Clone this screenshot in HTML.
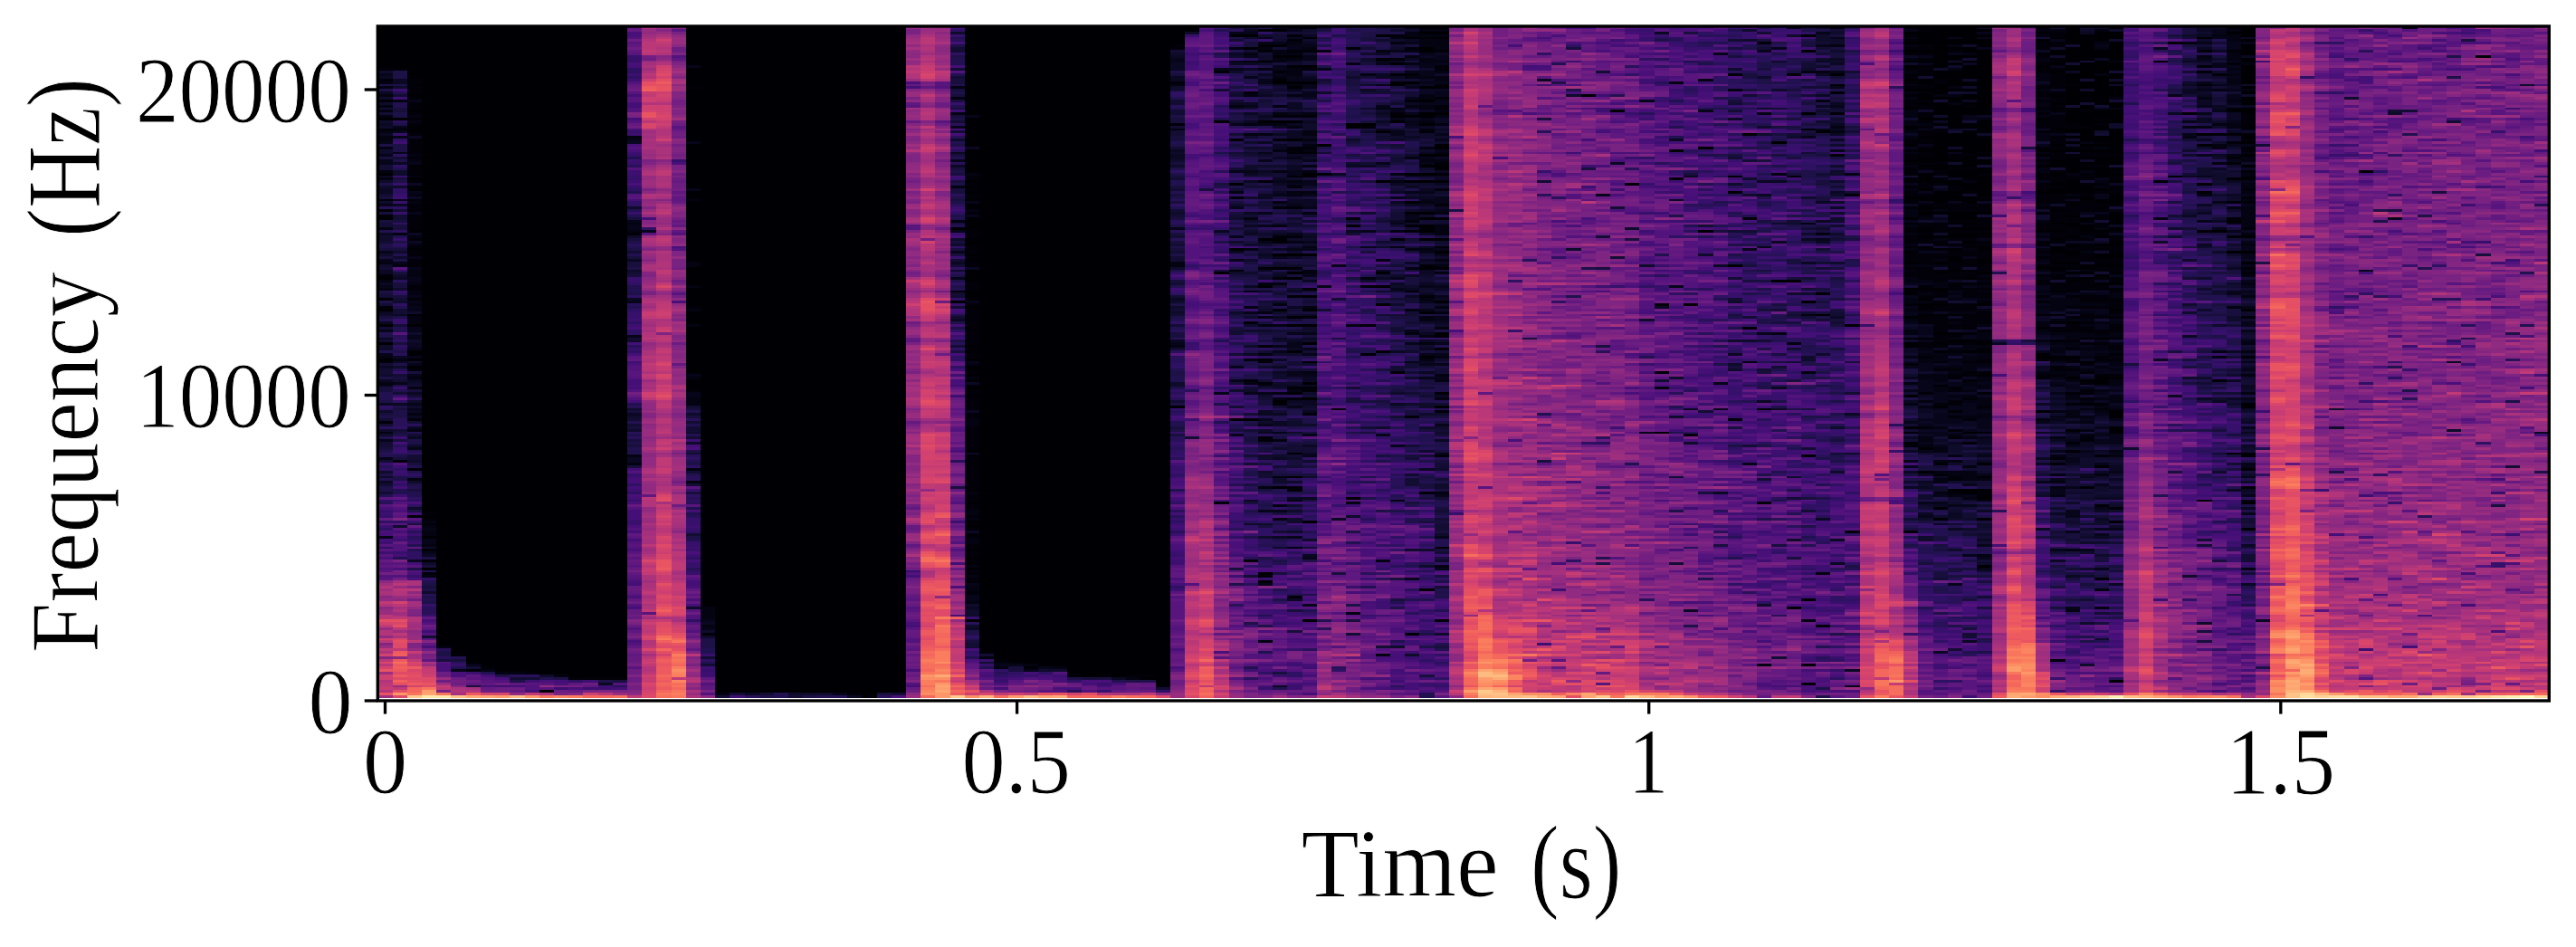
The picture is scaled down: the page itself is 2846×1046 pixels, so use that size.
<!DOCTYPE html>
<html><head><meta charset="utf-8"><style>
html,body{margin:0;padding:0;background:#fff;width:2846px;height:1046px;overflow:hidden}
#fb,#sp,#ax{position:absolute;left:0;top:0}
text{font-family:"Liberation Serif",serif;fill:#000}
</style></head><body>
<svg id="fb" width="2846" height="1046"><defs><linearGradient id="g0" x1="0" y1="0" x2="0" y2="1"><stop offset="0.000" stop-color="#000004"/><stop offset="0.069" stop-color="#050416"/><stop offset="0.163" stop-color="#0a0822"/><stop offset="0.298" stop-color="#0c0926"/><stop offset="0.433" stop-color="#0d0a29"/><stop offset="0.567" stop-color="#130d34"/><stop offset="0.702" stop-color="#331067"/><stop offset="0.796" stop-color="#56147d"/><stop offset="0.864" stop-color="#ab337c"/><stop offset="0.904" stop-color="#b73779"/><stop offset="0.931" stop-color="#bd3977"/><stop offset="0.951" stop-color="#c23b75"/><stop offset="0.965" stop-color="#c53c74"/><stop offset="0.974" stop-color="#c83e73"/><stop offset="0.982" stop-color="#ca3e72"/><stop offset="0.991" stop-color="#ca3e72"/><stop offset="1.000" stop-color="#b73779"/></linearGradient><linearGradient id="g1" x1="0" y1="0" x2="0" y2="1"><stop offset="0.000" stop-color="#000004"/><stop offset="0.069" stop-color="#0c0926"/><stop offset="0.163" stop-color="#19103f"/><stop offset="0.298" stop-color="#1d1147"/><stop offset="0.433" stop-color="#20114b"/><stop offset="0.567" stop-color="#241253"/><stop offset="0.702" stop-color="#420f75"/><stop offset="0.796" stop-color="#621980"/><stop offset="0.864" stop-color="#bc3978"/><stop offset="0.904" stop-color="#ca3e72"/><stop offset="0.931" stop-color="#dc4869"/><stop offset="0.951" stop-color="#e75263"/><stop offset="0.965" stop-color="#ed5a5f"/><stop offset="0.974" stop-color="#f05f5e"/><stop offset="0.982" stop-color="#f3655c"/><stop offset="0.991" stop-color="#f4675c"/><stop offset="1.000" stop-color="#de4968"/></linearGradient><linearGradient id="g2" x1="0" y1="0" x2="0" y2="1"><stop offset="0.000" stop-color="#000004"/><stop offset="0.069" stop-color="#000004"/><stop offset="0.163" stop-color="#010108"/><stop offset="0.298" stop-color="#020109"/><stop offset="0.433" stop-color="#030312"/><stop offset="0.567" stop-color="#0b0924"/><stop offset="0.702" stop-color="#251255"/><stop offset="0.796" stop-color="#451077"/><stop offset="0.864" stop-color="#9b2e7f"/><stop offset="0.904" stop-color="#a1307e"/><stop offset="0.931" stop-color="#a5317e"/><stop offset="0.951" stop-color="#d0416f"/><stop offset="0.965" stop-color="#e75263"/><stop offset="0.974" stop-color="#ef5d5e"/><stop offset="0.982" stop-color="#f56b5c"/><stop offset="0.991" stop-color="#f7705c"/><stop offset="1.000" stop-color="#feb77e"/></linearGradient><linearGradient id="g3" x1="0" y1="0" x2="0" y2="1"><stop offset="0.000" stop-color="#000004"/><stop offset="0.069" stop-color="#000004"/><stop offset="0.163" stop-color="#000004"/><stop offset="0.298" stop-color="#000004"/><stop offset="0.433" stop-color="#000004"/><stop offset="0.567" stop-color="#000004"/><stop offset="0.702" stop-color="#000004"/><stop offset="0.796" stop-color="#0a0822"/><stop offset="0.864" stop-color="#29115a"/><stop offset="0.904" stop-color="#51127c"/><stop offset="0.931" stop-color="#782281"/><stop offset="0.951" stop-color="#a1307e"/><stop offset="0.965" stop-color="#ca3e72"/><stop offset="0.974" stop-color="#e75263"/><stop offset="0.982" stop-color="#f7725c"/><stop offset="0.991" stop-color="#fd9a6a"/><stop offset="1.000" stop-color="#fecf92"/></linearGradient><linearGradient id="g4" x1="0" y1="0" x2="0" y2="1"><stop offset="0.000" stop-color="#000004"/><stop offset="0.069" stop-color="#000004"/><stop offset="0.163" stop-color="#000004"/><stop offset="0.298" stop-color="#000004"/><stop offset="0.433" stop-color="#000004"/><stop offset="0.567" stop-color="#000004"/><stop offset="0.702" stop-color="#000004"/><stop offset="0.796" stop-color="#000004"/><stop offset="0.864" stop-color="#000004"/><stop offset="0.904" stop-color="#000004"/><stop offset="0.931" stop-color="#251255"/><stop offset="0.951" stop-color="#4c117a"/><stop offset="0.965" stop-color="#641a80"/><stop offset="0.974" stop-color="#932b80"/><stop offset="0.982" stop-color="#bd3977"/><stop offset="0.991" stop-color="#ca3e72"/><stop offset="1.000" stop-color="#fde7a9"/></linearGradient><linearGradient id="g5" x1="0" y1="0" x2="0" y2="1"><stop offset="0.000" stop-color="#000004"/><stop offset="0.069" stop-color="#000004"/><stop offset="0.163" stop-color="#000004"/><stop offset="0.298" stop-color="#000004"/><stop offset="0.433" stop-color="#000004"/><stop offset="0.567" stop-color="#000004"/><stop offset="0.702" stop-color="#000004"/><stop offset="0.796" stop-color="#000004"/><stop offset="0.864" stop-color="#000004"/><stop offset="0.904" stop-color="#000004"/><stop offset="0.931" stop-color="#000004"/><stop offset="0.951" stop-color="#2f1163"/><stop offset="0.965" stop-color="#451077"/><stop offset="0.974" stop-color="#5d177f"/><stop offset="0.982" stop-color="#862781"/><stop offset="0.991" stop-color="#a1307e"/><stop offset="1.000" stop-color="#fde7a9"/></linearGradient><linearGradient id="g6" x1="0" y1="0" x2="0" y2="1"><stop offset="0.000" stop-color="#000004"/><stop offset="0.069" stop-color="#000004"/><stop offset="0.163" stop-color="#000004"/><stop offset="0.298" stop-color="#000004"/><stop offset="0.433" stop-color="#000004"/><stop offset="0.567" stop-color="#000004"/><stop offset="0.702" stop-color="#000004"/><stop offset="0.796" stop-color="#000004"/><stop offset="0.864" stop-color="#000004"/><stop offset="0.904" stop-color="#000004"/><stop offset="0.931" stop-color="#000004"/><stop offset="0.951" stop-color="#08071e"/><stop offset="0.965" stop-color="#3b0f70"/><stop offset="0.974" stop-color="#59157e"/><stop offset="0.982" stop-color="#762181"/><stop offset="0.991" stop-color="#9b2e7f"/><stop offset="1.000" stop-color="#fecf92"/></linearGradient><linearGradient id="g7" x1="0" y1="0" x2="0" y2="1"><stop offset="0.000" stop-color="#000004"/><stop offset="0.069" stop-color="#000004"/><stop offset="0.163" stop-color="#000004"/><stop offset="0.298" stop-color="#000004"/><stop offset="0.433" stop-color="#000004"/><stop offset="0.567" stop-color="#000004"/><stop offset="0.702" stop-color="#000004"/><stop offset="0.796" stop-color="#000004"/><stop offset="0.864" stop-color="#000004"/><stop offset="0.904" stop-color="#000004"/><stop offset="0.931" stop-color="#000004"/><stop offset="0.951" stop-color="#000004"/><stop offset="0.965" stop-color="#3b0f70"/><stop offset="0.974" stop-color="#4f127b"/><stop offset="0.982" stop-color="#5f187f"/><stop offset="0.991" stop-color="#641a80"/><stop offset="1.000" stop-color="#feb77e"/></linearGradient><linearGradient id="g8" x1="0" y1="0" x2="0" y2="1"><stop offset="0.000" stop-color="#000004"/><stop offset="0.069" stop-color="#000004"/><stop offset="0.163" stop-color="#000004"/><stop offset="0.298" stop-color="#000004"/><stop offset="0.433" stop-color="#000004"/><stop offset="0.567" stop-color="#000004"/><stop offset="0.702" stop-color="#000004"/><stop offset="0.796" stop-color="#000004"/><stop offset="0.864" stop-color="#000004"/><stop offset="0.904" stop-color="#000004"/><stop offset="0.931" stop-color="#000004"/><stop offset="0.951" stop-color="#000004"/><stop offset="0.965" stop-color="#110c2f"/><stop offset="0.974" stop-color="#420f75"/><stop offset="0.982" stop-color="#57157e"/><stop offset="0.991" stop-color="#641a80"/><stop offset="1.000" stop-color="#fe9f6d"/></linearGradient><linearGradient id="g9" x1="0" y1="0" x2="0" y2="1"><stop offset="0.000" stop-color="#000004"/><stop offset="0.069" stop-color="#000004"/><stop offset="0.163" stop-color="#000004"/><stop offset="0.298" stop-color="#000004"/><stop offset="0.433" stop-color="#000004"/><stop offset="0.567" stop-color="#000004"/><stop offset="0.702" stop-color="#000004"/><stop offset="0.796" stop-color="#000004"/><stop offset="0.864" stop-color="#000004"/><stop offset="0.904" stop-color="#000004"/><stop offset="0.931" stop-color="#000004"/><stop offset="0.951" stop-color="#000004"/><stop offset="0.965" stop-color="#0d0a29"/><stop offset="0.974" stop-color="#420f75"/><stop offset="0.982" stop-color="#57157e"/><stop offset="0.991" stop-color="#641a80"/><stop offset="1.000" stop-color="#fd9668"/></linearGradient><linearGradient id="g10" x1="0" y1="0" x2="0" y2="1"><stop offset="0.000" stop-color="#000004"/><stop offset="0.069" stop-color="#000004"/><stop offset="0.163" stop-color="#000004"/><stop offset="0.298" stop-color="#000004"/><stop offset="0.433" stop-color="#000004"/><stop offset="0.567" stop-color="#000004"/><stop offset="0.702" stop-color="#000004"/><stop offset="0.796" stop-color="#000004"/><stop offset="0.864" stop-color="#000004"/><stop offset="0.904" stop-color="#000004"/><stop offset="0.931" stop-color="#000004"/><stop offset="0.951" stop-color="#000004"/><stop offset="0.965" stop-color="#08071e"/><stop offset="0.974" stop-color="#420f75"/><stop offset="0.982" stop-color="#57157e"/><stop offset="0.991" stop-color="#641a80"/><stop offset="1.000" stop-color="#fc8c63"/></linearGradient><linearGradient id="g11" x1="0" y1="0" x2="0" y2="1"><stop offset="0.000" stop-color="#000004"/><stop offset="0.069" stop-color="#000004"/><stop offset="0.163" stop-color="#000004"/><stop offset="0.298" stop-color="#000004"/><stop offset="0.433" stop-color="#000004"/><stop offset="0.567" stop-color="#000004"/><stop offset="0.702" stop-color="#000004"/><stop offset="0.796" stop-color="#000004"/><stop offset="0.864" stop-color="#000004"/><stop offset="0.904" stop-color="#000004"/><stop offset="0.931" stop-color="#000004"/><stop offset="0.951" stop-color="#000004"/><stop offset="0.965" stop-color="#030312"/><stop offset="0.974" stop-color="#420f75"/><stop offset="0.982" stop-color="#57157e"/><stop offset="0.991" stop-color="#641a80"/><stop offset="1.000" stop-color="#fb835f"/></linearGradient><linearGradient id="g12" x1="0" y1="0" x2="0" y2="1"><stop offset="0.000" stop-color="#000004"/><stop offset="0.069" stop-color="#000004"/><stop offset="0.163" stop-color="#000004"/><stop offset="0.298" stop-color="#000004"/><stop offset="0.433" stop-color="#000004"/><stop offset="0.567" stop-color="#000004"/><stop offset="0.702" stop-color="#000004"/><stop offset="0.796" stop-color="#000004"/><stop offset="0.864" stop-color="#000004"/><stop offset="0.904" stop-color="#000004"/><stop offset="0.931" stop-color="#000004"/><stop offset="0.951" stop-color="#000004"/><stop offset="0.965" stop-color="#000004"/><stop offset="0.974" stop-color="#420f75"/><stop offset="0.982" stop-color="#57157e"/><stop offset="0.991" stop-color="#641a80"/><stop offset="1.000" stop-color="#f9795d"/></linearGradient><linearGradient id="g13" x1="0" y1="0" x2="0" y2="1"><stop offset="0.000" stop-color="#000004"/><stop offset="0.069" stop-color="#000004"/><stop offset="0.163" stop-color="#000004"/><stop offset="0.298" stop-color="#000004"/><stop offset="0.433" stop-color="#000004"/><stop offset="0.567" stop-color="#000004"/><stop offset="0.702" stop-color="#000004"/><stop offset="0.796" stop-color="#000004"/><stop offset="0.864" stop-color="#000004"/><stop offset="0.904" stop-color="#000004"/><stop offset="0.931" stop-color="#000004"/><stop offset="0.951" stop-color="#000004"/><stop offset="0.965" stop-color="#000004"/><stop offset="0.974" stop-color="#180f3d"/><stop offset="0.982" stop-color="#4e117b"/><stop offset="0.991" stop-color="#601880"/><stop offset="1.000" stop-color="#f4675c"/></linearGradient><linearGradient id="g14" x1="0" y1="0" x2="0" y2="1"><stop offset="0.000" stop-color="#000004"/><stop offset="0.069" stop-color="#000004"/><stop offset="0.163" stop-color="#000004"/><stop offset="0.298" stop-color="#000004"/><stop offset="0.433" stop-color="#000004"/><stop offset="0.567" stop-color="#000004"/><stop offset="0.702" stop-color="#000004"/><stop offset="0.796" stop-color="#000004"/><stop offset="0.864" stop-color="#000004"/><stop offset="0.904" stop-color="#000004"/><stop offset="0.931" stop-color="#000004"/><stop offset="0.951" stop-color="#000004"/><stop offset="0.965" stop-color="#000004"/><stop offset="0.974" stop-color="#180f3d"/><stop offset="0.982" stop-color="#4e117b"/><stop offset="0.991" stop-color="#601880"/><stop offset="1.000" stop-color="#f4675c"/></linearGradient><linearGradient id="g15" x1="0" y1="0" x2="0" y2="1"><stop offset="0.000" stop-color="#000004"/><stop offset="0.069" stop-color="#000004"/><stop offset="0.163" stop-color="#000004"/><stop offset="0.298" stop-color="#000004"/><stop offset="0.433" stop-color="#000004"/><stop offset="0.567" stop-color="#000004"/><stop offset="0.702" stop-color="#000004"/><stop offset="0.796" stop-color="#000004"/><stop offset="0.864" stop-color="#000004"/><stop offset="0.904" stop-color="#000004"/><stop offset="0.931" stop-color="#000004"/><stop offset="0.951" stop-color="#000004"/><stop offset="0.965" stop-color="#000004"/><stop offset="0.974" stop-color="#180f3d"/><stop offset="0.982" stop-color="#4e117b"/><stop offset="0.991" stop-color="#601880"/><stop offset="1.000" stop-color="#f4675c"/></linearGradient><linearGradient id="g16" x1="0" y1="0" x2="0" y2="1"><stop offset="0.000" stop-color="#000004"/><stop offset="0.069" stop-color="#000004"/><stop offset="0.163" stop-color="#000004"/><stop offset="0.298" stop-color="#000004"/><stop offset="0.433" stop-color="#000004"/><stop offset="0.567" stop-color="#000004"/><stop offset="0.702" stop-color="#000004"/><stop offset="0.796" stop-color="#000004"/><stop offset="0.864" stop-color="#000004"/><stop offset="0.904" stop-color="#000004"/><stop offset="0.931" stop-color="#000004"/><stop offset="0.951" stop-color="#000004"/><stop offset="0.965" stop-color="#000004"/><stop offset="0.974" stop-color="#180f3d"/><stop offset="0.982" stop-color="#4e117b"/><stop offset="0.991" stop-color="#601880"/><stop offset="1.000" stop-color="#f4675c"/></linearGradient><linearGradient id="g17" x1="0" y1="0" x2="0" y2="1"><stop offset="0.000" stop-color="#4c117a"/><stop offset="0.069" stop-color="#491078"/><stop offset="0.163" stop-color="#440f76"/><stop offset="0.298" stop-color="#29115a"/><stop offset="0.433" stop-color="#3b0f70"/><stop offset="0.567" stop-color="#3f0f72"/><stop offset="0.702" stop-color="#4a1079"/><stop offset="0.796" stop-color="#5a167e"/><stop offset="0.864" stop-color="#601880"/><stop offset="0.904" stop-color="#641a80"/><stop offset="0.931" stop-color="#6b1d81"/><stop offset="0.951" stop-color="#721f81"/><stop offset="0.965" stop-color="#762181"/><stop offset="0.974" stop-color="#792282"/><stop offset="0.982" stop-color="#7b2382"/><stop offset="0.991" stop-color="#7c2382"/><stop offset="1.000" stop-color="#b73779"/></linearGradient><linearGradient id="g18" x1="0" y1="0" x2="0" y2="1"><stop offset="0.000" stop-color="#942c80"/><stop offset="0.069" stop-color="#b83779"/><stop offset="0.163" stop-color="#b3367a"/><stop offset="0.298" stop-color="#962c80"/><stop offset="0.433" stop-color="#ab337c"/><stop offset="0.567" stop-color="#a02f7f"/><stop offset="0.702" stop-color="#a8327d"/><stop offset="0.796" stop-color="#b0357b"/><stop offset="0.864" stop-color="#bc3978"/><stop offset="0.904" stop-color="#c23b75"/><stop offset="0.931" stop-color="#c83e73"/><stop offset="0.951" stop-color="#cf4070"/><stop offset="0.965" stop-color="#d2426f"/><stop offset="0.974" stop-color="#d3436e"/><stop offset="0.982" stop-color="#d6456c"/><stop offset="0.991" stop-color="#d6456c"/><stop offset="1.000" stop-color="#de4968"/></linearGradient><linearGradient id="g19" x1="0" y1="0" x2="0" y2="1"><stop offset="0.000" stop-color="#a1307e"/><stop offset="0.069" stop-color="#c43c75"/><stop offset="0.163" stop-color="#c03a76"/><stop offset="0.298" stop-color="#aa337d"/><stop offset="0.433" stop-color="#ba3878"/><stop offset="0.567" stop-color="#bd3977"/><stop offset="0.702" stop-color="#c83e73"/><stop offset="0.796" stop-color="#d5446d"/><stop offset="0.864" stop-color="#df4a68"/><stop offset="0.904" stop-color="#e44f64"/><stop offset="0.931" stop-color="#eb5760"/><stop offset="0.951" stop-color="#f05f5e"/><stop offset="0.965" stop-color="#f2625d"/><stop offset="0.974" stop-color="#f2625d"/><stop offset="0.982" stop-color="#f2625d"/><stop offset="0.991" stop-color="#f2625d"/><stop offset="1.000" stop-color="#f7705c"/></linearGradient><linearGradient id="g20" x1="0" y1="0" x2="0" y2="1"><stop offset="0.000" stop-color="#802582"/><stop offset="0.069" stop-color="#7c2382"/><stop offset="0.163" stop-color="#782281"/><stop offset="0.298" stop-color="#7b2382"/><stop offset="0.433" stop-color="#842681"/><stop offset="0.567" stop-color="#932b80"/><stop offset="0.702" stop-color="#a3307e"/><stop offset="0.796" stop-color="#b5367a"/><stop offset="0.864" stop-color="#ca3e72"/><stop offset="0.904" stop-color="#d6456c"/><stop offset="0.931" stop-color="#ee5b5e"/><stop offset="0.951" stop-color="#f8745c"/><stop offset="0.965" stop-color="#f9795d"/><stop offset="0.974" stop-color="#f8765c"/><stop offset="0.982" stop-color="#f7705c"/><stop offset="0.991" stop-color="#f7705c"/><stop offset="1.000" stop-color="#fc8961"/></linearGradient><linearGradient id="g21" x1="0" y1="0" x2="0" y2="1"><stop offset="0.000" stop-color="#000004"/><stop offset="0.069" stop-color="#000004"/><stop offset="0.163" stop-color="#000004"/><stop offset="0.298" stop-color="#000004"/><stop offset="0.433" stop-color="#000004"/><stop offset="0.567" stop-color="#140e36"/><stop offset="0.702" stop-color="#2c115f"/><stop offset="0.796" stop-color="#440f76"/><stop offset="0.864" stop-color="#59157e"/><stop offset="0.904" stop-color="#641a80"/><stop offset="0.931" stop-color="#782281"/><stop offset="0.951" stop-color="#862781"/><stop offset="0.965" stop-color="#902a81"/><stop offset="0.974" stop-color="#942c80"/><stop offset="0.982" stop-color="#942c80"/><stop offset="0.991" stop-color="#942c80"/><stop offset="1.000" stop-color="#ca3e72"/></linearGradient><linearGradient id="g22" x1="0" y1="0" x2="0" y2="1"><stop offset="0.000" stop-color="#000004"/><stop offset="0.069" stop-color="#000004"/><stop offset="0.163" stop-color="#000004"/><stop offset="0.298" stop-color="#000004"/><stop offset="0.433" stop-color="#000004"/><stop offset="0.567" stop-color="#000004"/><stop offset="0.702" stop-color="#000004"/><stop offset="0.796" stop-color="#000004"/><stop offset="0.864" stop-color="#010106"/><stop offset="0.904" stop-color="#0e0b2b"/><stop offset="0.931" stop-color="#21114e"/><stop offset="0.951" stop-color="#341069"/><stop offset="0.965" stop-color="#471078"/><stop offset="0.974" stop-color="#59157e"/><stop offset="0.982" stop-color="#671b80"/><stop offset="0.991" stop-color="#762181"/><stop offset="1.000" stop-color="#8c2981"/></linearGradient><linearGradient id="g23" x1="0" y1="0" x2="0" y2="1"><stop offset="0.000" stop-color="#000004"/><stop offset="0.069" stop-color="#000004"/><stop offset="0.163" stop-color="#000004"/><stop offset="0.298" stop-color="#000004"/><stop offset="0.433" stop-color="#000004"/><stop offset="0.567" stop-color="#000004"/><stop offset="0.702" stop-color="#000004"/><stop offset="0.796" stop-color="#000004"/><stop offset="0.864" stop-color="#000004"/><stop offset="0.904" stop-color="#000004"/><stop offset="0.931" stop-color="#000004"/><stop offset="0.951" stop-color="#000004"/><stop offset="0.965" stop-color="#000004"/><stop offset="0.974" stop-color="#000004"/><stop offset="0.982" stop-color="#000004"/><stop offset="0.991" stop-color="#000004"/><stop offset="1.000" stop-color="#1a1042"/></linearGradient><linearGradient id="g24" x1="0" y1="0" x2="0" y2="1"><stop offset="0.000" stop-color="#000004"/><stop offset="0.069" stop-color="#000004"/><stop offset="0.163" stop-color="#000004"/><stop offset="0.298" stop-color="#000004"/><stop offset="0.433" stop-color="#000004"/><stop offset="0.567" stop-color="#000004"/><stop offset="0.702" stop-color="#000004"/><stop offset="0.796" stop-color="#000004"/><stop offset="0.864" stop-color="#000004"/><stop offset="0.904" stop-color="#000004"/><stop offset="0.931" stop-color="#000004"/><stop offset="0.951" stop-color="#000004"/><stop offset="0.965" stop-color="#000004"/><stop offset="0.974" stop-color="#000004"/><stop offset="0.982" stop-color="#000004"/><stop offset="0.991" stop-color="#000004"/><stop offset="1.000" stop-color="#1a1042"/></linearGradient><linearGradient id="g25" x1="0" y1="0" x2="0" y2="1"><stop offset="0.000" stop-color="#000004"/><stop offset="0.069" stop-color="#000004"/><stop offset="0.163" stop-color="#000004"/><stop offset="0.298" stop-color="#000004"/><stop offset="0.433" stop-color="#000004"/><stop offset="0.567" stop-color="#000004"/><stop offset="0.702" stop-color="#000004"/><stop offset="0.796" stop-color="#000004"/><stop offset="0.864" stop-color="#000004"/><stop offset="0.904" stop-color="#000004"/><stop offset="0.931" stop-color="#000004"/><stop offset="0.951" stop-color="#000004"/><stop offset="0.965" stop-color="#000004"/><stop offset="0.974" stop-color="#000004"/><stop offset="0.982" stop-color="#000004"/><stop offset="0.991" stop-color="#000004"/><stop offset="1.000" stop-color="#1a1042"/></linearGradient><linearGradient id="g26" x1="0" y1="0" x2="0" y2="1"><stop offset="0.000" stop-color="#000004"/><stop offset="0.069" stop-color="#000004"/><stop offset="0.163" stop-color="#000004"/><stop offset="0.298" stop-color="#000004"/><stop offset="0.433" stop-color="#000004"/><stop offset="0.567" stop-color="#000004"/><stop offset="0.702" stop-color="#000004"/><stop offset="0.796" stop-color="#000004"/><stop offset="0.864" stop-color="#000004"/><stop offset="0.904" stop-color="#000004"/><stop offset="0.931" stop-color="#000004"/><stop offset="0.951" stop-color="#000004"/><stop offset="0.965" stop-color="#000004"/><stop offset="0.974" stop-color="#000004"/><stop offset="0.982" stop-color="#000004"/><stop offset="0.991" stop-color="#000004"/><stop offset="1.000" stop-color="#1a1042"/></linearGradient><linearGradient id="g27" x1="0" y1="0" x2="0" y2="1"><stop offset="0.000" stop-color="#000004"/><stop offset="0.069" stop-color="#000004"/><stop offset="0.163" stop-color="#000004"/><stop offset="0.298" stop-color="#000004"/><stop offset="0.433" stop-color="#000004"/><stop offset="0.567" stop-color="#000004"/><stop offset="0.702" stop-color="#000004"/><stop offset="0.796" stop-color="#000004"/><stop offset="0.864" stop-color="#000004"/><stop offset="0.904" stop-color="#000004"/><stop offset="0.931" stop-color="#000004"/><stop offset="0.951" stop-color="#000004"/><stop offset="0.965" stop-color="#000004"/><stop offset="0.974" stop-color="#000004"/><stop offset="0.982" stop-color="#000004"/><stop offset="0.991" stop-color="#000004"/><stop offset="1.000" stop-color="#1a1042"/></linearGradient><linearGradient id="g28" x1="0" y1="0" x2="0" y2="1"><stop offset="0.000" stop-color="#000004"/><stop offset="0.069" stop-color="#000004"/><stop offset="0.163" stop-color="#000004"/><stop offset="0.298" stop-color="#000004"/><stop offset="0.433" stop-color="#000004"/><stop offset="0.567" stop-color="#000004"/><stop offset="0.702" stop-color="#000004"/><stop offset="0.796" stop-color="#000004"/><stop offset="0.864" stop-color="#000004"/><stop offset="0.904" stop-color="#000004"/><stop offset="0.931" stop-color="#000004"/><stop offset="0.951" stop-color="#000004"/><stop offset="0.965" stop-color="#000004"/><stop offset="0.974" stop-color="#000004"/><stop offset="0.982" stop-color="#000004"/><stop offset="0.991" stop-color="#000004"/><stop offset="1.000" stop-color="#1a1042"/></linearGradient><linearGradient id="g29" x1="0" y1="0" x2="0" y2="1"><stop offset="0.000" stop-color="#000004"/><stop offset="0.069" stop-color="#000004"/><stop offset="0.163" stop-color="#000004"/><stop offset="0.298" stop-color="#000004"/><stop offset="0.433" stop-color="#000004"/><stop offset="0.567" stop-color="#000004"/><stop offset="0.702" stop-color="#000004"/><stop offset="0.796" stop-color="#000004"/><stop offset="0.864" stop-color="#000004"/><stop offset="0.904" stop-color="#000004"/><stop offset="0.931" stop-color="#000004"/><stop offset="0.951" stop-color="#000004"/><stop offset="0.965" stop-color="#000004"/><stop offset="0.974" stop-color="#000004"/><stop offset="0.982" stop-color="#000004"/><stop offset="0.991" stop-color="#000004"/><stop offset="1.000" stop-color="#1a1042"/></linearGradient><linearGradient id="g30" x1="0" y1="0" x2="0" y2="1"><stop offset="0.000" stop-color="#000004"/><stop offset="0.069" stop-color="#000004"/><stop offset="0.163" stop-color="#000004"/><stop offset="0.298" stop-color="#000004"/><stop offset="0.433" stop-color="#000004"/><stop offset="0.567" stop-color="#000004"/><stop offset="0.702" stop-color="#000004"/><stop offset="0.796" stop-color="#000004"/><stop offset="0.864" stop-color="#000004"/><stop offset="0.904" stop-color="#000004"/><stop offset="0.931" stop-color="#000004"/><stop offset="0.951" stop-color="#000004"/><stop offset="0.965" stop-color="#000004"/><stop offset="0.974" stop-color="#000004"/><stop offset="0.982" stop-color="#000004"/><stop offset="0.991" stop-color="#000004"/><stop offset="1.000" stop-color="#1a1042"/></linearGradient><linearGradient id="g31" x1="0" y1="0" x2="0" y2="1"><stop offset="0.000" stop-color="#000004"/><stop offset="0.069" stop-color="#000004"/><stop offset="0.163" stop-color="#000004"/><stop offset="0.298" stop-color="#000004"/><stop offset="0.433" stop-color="#000004"/><stop offset="0.567" stop-color="#000004"/><stop offset="0.702" stop-color="#000004"/><stop offset="0.796" stop-color="#000004"/><stop offset="0.864" stop-color="#000004"/><stop offset="0.904" stop-color="#000004"/><stop offset="0.931" stop-color="#000004"/><stop offset="0.951" stop-color="#000004"/><stop offset="0.965" stop-color="#000004"/><stop offset="0.974" stop-color="#000004"/><stop offset="0.982" stop-color="#000004"/><stop offset="0.991" stop-color="#000004"/><stop offset="1.000" stop-color="#1a1042"/></linearGradient><linearGradient id="g32" x1="0" y1="0" x2="0" y2="1"><stop offset="0.000" stop-color="#000004"/><stop offset="0.069" stop-color="#000004"/><stop offset="0.163" stop-color="#000004"/><stop offset="0.298" stop-color="#000004"/><stop offset="0.433" stop-color="#000004"/><stop offset="0.567" stop-color="#000004"/><stop offset="0.702" stop-color="#000004"/><stop offset="0.796" stop-color="#000004"/><stop offset="0.864" stop-color="#000004"/><stop offset="0.904" stop-color="#000004"/><stop offset="0.931" stop-color="#000004"/><stop offset="0.951" stop-color="#000004"/><stop offset="0.965" stop-color="#000004"/><stop offset="0.974" stop-color="#000004"/><stop offset="0.982" stop-color="#000004"/><stop offset="0.991" stop-color="#000004"/><stop offset="1.000" stop-color="#1a1042"/></linearGradient><linearGradient id="g33" x1="0" y1="0" x2="0" y2="1"><stop offset="0.000" stop-color="#000004"/><stop offset="0.069" stop-color="#000004"/><stop offset="0.163" stop-color="#000004"/><stop offset="0.298" stop-color="#000004"/><stop offset="0.433" stop-color="#000004"/><stop offset="0.567" stop-color="#000004"/><stop offset="0.702" stop-color="#000004"/><stop offset="0.796" stop-color="#000004"/><stop offset="0.864" stop-color="#000004"/><stop offset="0.904" stop-color="#000004"/><stop offset="0.931" stop-color="#000004"/><stop offset="0.951" stop-color="#000004"/><stop offset="0.965" stop-color="#000004"/><stop offset="0.974" stop-color="#000004"/><stop offset="0.982" stop-color="#000004"/><stop offset="0.991" stop-color="#000004"/><stop offset="1.000" stop-color="#1a1042"/></linearGradient><linearGradient id="g34" x1="0" y1="0" x2="0" y2="1"><stop offset="0.000" stop-color="#000004"/><stop offset="0.069" stop-color="#000004"/><stop offset="0.163" stop-color="#000004"/><stop offset="0.298" stop-color="#000004"/><stop offset="0.433" stop-color="#000004"/><stop offset="0.567" stop-color="#000004"/><stop offset="0.702" stop-color="#000004"/><stop offset="0.796" stop-color="#000004"/><stop offset="0.864" stop-color="#000004"/><stop offset="0.904" stop-color="#000004"/><stop offset="0.931" stop-color="#000004"/><stop offset="0.951" stop-color="#000004"/><stop offset="0.965" stop-color="#000004"/><stop offset="0.974" stop-color="#000004"/><stop offset="0.982" stop-color="#000004"/><stop offset="0.991" stop-color="#000004"/><stop offset="1.000" stop-color="#1a1042"/></linearGradient><linearGradient id="g35" x1="0" y1="0" x2="0" y2="1"><stop offset="0.000" stop-color="#000004"/><stop offset="0.069" stop-color="#000004"/><stop offset="0.163" stop-color="#000004"/><stop offset="0.298" stop-color="#000004"/><stop offset="0.433" stop-color="#000004"/><stop offset="0.567" stop-color="#000004"/><stop offset="0.702" stop-color="#000004"/><stop offset="0.796" stop-color="#000004"/><stop offset="0.864" stop-color="#000004"/><stop offset="0.904" stop-color="#000004"/><stop offset="0.931" stop-color="#000004"/><stop offset="0.951" stop-color="#000004"/><stop offset="0.965" stop-color="#000004"/><stop offset="0.974" stop-color="#000004"/><stop offset="0.982" stop-color="#000004"/><stop offset="0.991" stop-color="#000004"/><stop offset="1.000" stop-color="#1a1042"/></linearGradient><linearGradient id="g36" x1="0" y1="0" x2="0" y2="1"><stop offset="0.000" stop-color="#902a81"/><stop offset="0.069" stop-color="#912b81"/><stop offset="0.163" stop-color="#912b81"/><stop offset="0.298" stop-color="#912b81"/><stop offset="0.433" stop-color="#932b80"/><stop offset="0.567" stop-color="#932b80"/><stop offset="0.702" stop-color="#862781"/><stop offset="0.796" stop-color="#752181"/><stop offset="0.864" stop-color="#5c167f"/><stop offset="0.904" stop-color="#5c167f"/><stop offset="0.931" stop-color="#601880"/><stop offset="0.951" stop-color="#641a80"/><stop offset="0.965" stop-color="#641a80"/><stop offset="0.974" stop-color="#641a80"/><stop offset="0.982" stop-color="#641a80"/><stop offset="0.991" stop-color="#641a80"/><stop offset="1.000" stop-color="#8c2981"/></linearGradient><linearGradient id="g37" x1="0" y1="0" x2="0" y2="1"><stop offset="0.000" stop-color="#a5317e"/><stop offset="0.069" stop-color="#ae347b"/><stop offset="0.163" stop-color="#ba3878"/><stop offset="0.298" stop-color="#bc3978"/><stop offset="0.433" stop-color="#bc3978"/><stop offset="0.567" stop-color="#bd3977"/><stop offset="0.702" stop-color="#ca3e72"/><stop offset="0.796" stop-color="#d5446d"/><stop offset="0.864" stop-color="#df4a68"/><stop offset="0.904" stop-color="#e44f64"/><stop offset="0.931" stop-color="#ef5d5e"/><stop offset="0.951" stop-color="#f56b5c"/><stop offset="0.965" stop-color="#f8745c"/><stop offset="0.974" stop-color="#f9795d"/><stop offset="0.982" stop-color="#f9795d"/><stop offset="0.991" stop-color="#f9795d"/><stop offset="1.000" stop-color="#f7705c"/></linearGradient><linearGradient id="g38" x1="0" y1="0" x2="0" y2="1"><stop offset="0.000" stop-color="#902a81"/><stop offset="0.069" stop-color="#942c80"/><stop offset="0.163" stop-color="#9b2e7f"/><stop offset="0.298" stop-color="#a3307e"/><stop offset="0.433" stop-color="#ad347c"/><stop offset="0.567" stop-color="#b73779"/><stop offset="0.702" stop-color="#ca3e72"/><stop offset="0.796" stop-color="#de4968"/><stop offset="0.864" stop-color="#eb5760"/><stop offset="0.904" stop-color="#f4675c"/><stop offset="0.931" stop-color="#f7725c"/><stop offset="0.951" stop-color="#fa7d5e"/><stop offset="0.965" stop-color="#fb8560"/><stop offset="0.974" stop-color="#fc8a62"/><stop offset="0.982" stop-color="#fc9065"/><stop offset="0.991" stop-color="#fd9266"/><stop offset="1.000" stop-color="#fc8961"/></linearGradient><linearGradient id="g39" x1="0" y1="0" x2="0" y2="1"><stop offset="0.000" stop-color="#251255"/><stop offset="0.069" stop-color="#221150"/><stop offset="0.163" stop-color="#20114b"/><stop offset="0.298" stop-color="#1d1147"/><stop offset="0.433" stop-color="#29115a"/><stop offset="0.567" stop-color="#641a80"/><stop offset="0.702" stop-color="#6b1d81"/><stop offset="0.796" stop-color="#7e2482"/><stop offset="0.864" stop-color="#a02f7f"/><stop offset="0.904" stop-color="#b73779"/><stop offset="0.931" stop-color="#c73d73"/><stop offset="0.951" stop-color="#d2426f"/><stop offset="0.965" stop-color="#db476a"/><stop offset="0.974" stop-color="#de4968"/><stop offset="0.982" stop-color="#de4968"/><stop offset="0.991" stop-color="#de4968"/><stop offset="1.000" stop-color="#fe9f6d"/></linearGradient><linearGradient id="g40" x1="0" y1="0" x2="0" y2="1"><stop offset="0.000" stop-color="#000004"/><stop offset="0.069" stop-color="#000004"/><stop offset="0.163" stop-color="#000004"/><stop offset="0.298" stop-color="#010005"/><stop offset="0.433" stop-color="#010106"/><stop offset="0.567" stop-color="#010108"/><stop offset="0.702" stop-color="#020109"/><stop offset="0.796" stop-color="#020109"/><stop offset="0.864" stop-color="#07061c"/><stop offset="0.904" stop-color="#140e36"/><stop offset="0.931" stop-color="#3b0f70"/><stop offset="0.951" stop-color="#5a167e"/><stop offset="0.965" stop-color="#7b2382"/><stop offset="0.974" stop-color="#9b2e7f"/><stop offset="0.982" stop-color="#b83779"/><stop offset="0.991" stop-color="#ca3e72"/><stop offset="1.000" stop-color="#fc8961"/></linearGradient><linearGradient id="g41" x1="0" y1="0" x2="0" y2="1"><stop offset="0.000" stop-color="#000004"/><stop offset="0.069" stop-color="#000004"/><stop offset="0.163" stop-color="#000004"/><stop offset="0.298" stop-color="#000004"/><stop offset="0.433" stop-color="#000004"/><stop offset="0.567" stop-color="#000004"/><stop offset="0.702" stop-color="#000004"/><stop offset="0.796" stop-color="#000004"/><stop offset="0.864" stop-color="#000004"/><stop offset="0.904" stop-color="#000004"/><stop offset="0.931" stop-color="#02020d"/><stop offset="0.951" stop-color="#36106b"/><stop offset="0.965" stop-color="#59157e"/><stop offset="0.974" stop-color="#6e1e81"/><stop offset="0.982" stop-color="#782281"/><stop offset="0.991" stop-color="#782281"/><stop offset="1.000" stop-color="#fecf92"/></linearGradient><linearGradient id="g42" x1="0" y1="0" x2="0" y2="1"><stop offset="0.000" stop-color="#000004"/><stop offset="0.069" stop-color="#000004"/><stop offset="0.163" stop-color="#000004"/><stop offset="0.298" stop-color="#000004"/><stop offset="0.433" stop-color="#000004"/><stop offset="0.567" stop-color="#000004"/><stop offset="0.702" stop-color="#000004"/><stop offset="0.796" stop-color="#000004"/><stop offset="0.864" stop-color="#000004"/><stop offset="0.904" stop-color="#000004"/><stop offset="0.931" stop-color="#000004"/><stop offset="0.951" stop-color="#100b2d"/><stop offset="0.965" stop-color="#3b0f70"/><stop offset="0.974" stop-color="#4f127b"/><stop offset="0.982" stop-color="#5f187f"/><stop offset="0.991" stop-color="#641a80"/><stop offset="1.000" stop-color="#feb77e"/></linearGradient><linearGradient id="g43" x1="0" y1="0" x2="0" y2="1"><stop offset="0.000" stop-color="#000004"/><stop offset="0.069" stop-color="#000004"/><stop offset="0.163" stop-color="#000004"/><stop offset="0.298" stop-color="#000004"/><stop offset="0.433" stop-color="#000004"/><stop offset="0.567" stop-color="#000004"/><stop offset="0.702" stop-color="#000004"/><stop offset="0.796" stop-color="#000004"/><stop offset="0.864" stop-color="#000004"/><stop offset="0.904" stop-color="#000004"/><stop offset="0.931" stop-color="#000004"/><stop offset="0.951" stop-color="#0b0924"/><stop offset="0.965" stop-color="#3b0f70"/><stop offset="0.974" stop-color="#4f127b"/><stop offset="0.982" stop-color="#5f187f"/><stop offset="0.991" stop-color="#641a80"/><stop offset="1.000" stop-color="#feb77e"/></linearGradient><linearGradient id="g44" x1="0" y1="0" x2="0" y2="1"><stop offset="0.000" stop-color="#000004"/><stop offset="0.069" stop-color="#000004"/><stop offset="0.163" stop-color="#000004"/><stop offset="0.298" stop-color="#000004"/><stop offset="0.433" stop-color="#000004"/><stop offset="0.567" stop-color="#000004"/><stop offset="0.702" stop-color="#000004"/><stop offset="0.796" stop-color="#000004"/><stop offset="0.864" stop-color="#000004"/><stop offset="0.904" stop-color="#000004"/><stop offset="0.931" stop-color="#000004"/><stop offset="0.951" stop-color="#060518"/><stop offset="0.965" stop-color="#3b0f70"/><stop offset="0.974" stop-color="#4f127b"/><stop offset="0.982" stop-color="#5f187f"/><stop offset="0.991" stop-color="#641a80"/><stop offset="1.000" stop-color="#feb77e"/></linearGradient><linearGradient id="g45" x1="0" y1="0" x2="0" y2="1"><stop offset="0.000" stop-color="#000004"/><stop offset="0.069" stop-color="#000004"/><stop offset="0.163" stop-color="#000004"/><stop offset="0.298" stop-color="#000004"/><stop offset="0.433" stop-color="#000004"/><stop offset="0.567" stop-color="#000004"/><stop offset="0.702" stop-color="#000004"/><stop offset="0.796" stop-color="#000004"/><stop offset="0.864" stop-color="#000004"/><stop offset="0.904" stop-color="#000004"/><stop offset="0.931" stop-color="#000004"/><stop offset="0.951" stop-color="#020109"/><stop offset="0.965" stop-color="#3b0f70"/><stop offset="0.974" stop-color="#4f127b"/><stop offset="0.982" stop-color="#5f187f"/><stop offset="0.991" stop-color="#641a80"/><stop offset="1.000" stop-color="#feb77e"/></linearGradient><linearGradient id="g46" x1="0" y1="0" x2="0" y2="1"><stop offset="0.000" stop-color="#000004"/><stop offset="0.069" stop-color="#000004"/><stop offset="0.163" stop-color="#000004"/><stop offset="0.298" stop-color="#000004"/><stop offset="0.433" stop-color="#000004"/><stop offset="0.567" stop-color="#000004"/><stop offset="0.702" stop-color="#000004"/><stop offset="0.796" stop-color="#000004"/><stop offset="0.864" stop-color="#000004"/><stop offset="0.904" stop-color="#000004"/><stop offset="0.931" stop-color="#000004"/><stop offset="0.951" stop-color="#000004"/><stop offset="0.965" stop-color="#3b0f70"/><stop offset="0.974" stop-color="#4f127b"/><stop offset="0.982" stop-color="#5f187f"/><stop offset="0.991" stop-color="#641a80"/><stop offset="1.000" stop-color="#feb77e"/></linearGradient><linearGradient id="g47" x1="0" y1="0" x2="0" y2="1"><stop offset="0.000" stop-color="#000004"/><stop offset="0.069" stop-color="#000004"/><stop offset="0.163" stop-color="#000004"/><stop offset="0.298" stop-color="#000004"/><stop offset="0.433" stop-color="#000004"/><stop offset="0.567" stop-color="#000004"/><stop offset="0.702" stop-color="#000004"/><stop offset="0.796" stop-color="#000004"/><stop offset="0.864" stop-color="#000004"/><stop offset="0.904" stop-color="#000004"/><stop offset="0.931" stop-color="#000004"/><stop offset="0.951" stop-color="#000004"/><stop offset="0.965" stop-color="#000004"/><stop offset="0.974" stop-color="#2c115f"/><stop offset="0.982" stop-color="#56147d"/><stop offset="0.991" stop-color="#621980"/><stop offset="1.000" stop-color="#f7705c"/></linearGradient><linearGradient id="g48" x1="0" y1="0" x2="0" y2="1"><stop offset="0.000" stop-color="#000004"/><stop offset="0.069" stop-color="#000004"/><stop offset="0.163" stop-color="#000004"/><stop offset="0.298" stop-color="#000004"/><stop offset="0.433" stop-color="#000004"/><stop offset="0.567" stop-color="#000004"/><stop offset="0.702" stop-color="#000004"/><stop offset="0.796" stop-color="#000004"/><stop offset="0.864" stop-color="#000004"/><stop offset="0.904" stop-color="#000004"/><stop offset="0.931" stop-color="#000004"/><stop offset="0.951" stop-color="#000004"/><stop offset="0.965" stop-color="#000004"/><stop offset="0.974" stop-color="#2c115f"/><stop offset="0.982" stop-color="#56147d"/><stop offset="0.991" stop-color="#621980"/><stop offset="1.000" stop-color="#f7705c"/></linearGradient><linearGradient id="g49" x1="0" y1="0" x2="0" y2="1"><stop offset="0.000" stop-color="#000004"/><stop offset="0.069" stop-color="#000004"/><stop offset="0.163" stop-color="#000004"/><stop offset="0.298" stop-color="#000004"/><stop offset="0.433" stop-color="#000004"/><stop offset="0.567" stop-color="#000004"/><stop offset="0.702" stop-color="#000004"/><stop offset="0.796" stop-color="#000004"/><stop offset="0.864" stop-color="#000004"/><stop offset="0.904" stop-color="#000004"/><stop offset="0.931" stop-color="#000004"/><stop offset="0.951" stop-color="#000004"/><stop offset="0.965" stop-color="#000004"/><stop offset="0.974" stop-color="#2c115f"/><stop offset="0.982" stop-color="#56147d"/><stop offset="0.991" stop-color="#621980"/><stop offset="1.000" stop-color="#f7705c"/></linearGradient><linearGradient id="g50" x1="0" y1="0" x2="0" y2="1"><stop offset="0.000" stop-color="#000004"/><stop offset="0.069" stop-color="#000004"/><stop offset="0.163" stop-color="#000004"/><stop offset="0.298" stop-color="#000004"/><stop offset="0.433" stop-color="#000004"/><stop offset="0.567" stop-color="#000004"/><stop offset="0.702" stop-color="#000004"/><stop offset="0.796" stop-color="#000004"/><stop offset="0.864" stop-color="#000004"/><stop offset="0.904" stop-color="#000004"/><stop offset="0.931" stop-color="#000004"/><stop offset="0.951" stop-color="#000004"/><stop offset="0.965" stop-color="#000004"/><stop offset="0.974" stop-color="#2c115f"/><stop offset="0.982" stop-color="#56147d"/><stop offset="0.991" stop-color="#621980"/><stop offset="1.000" stop-color="#f7705c"/></linearGradient><linearGradient id="g51" x1="0" y1="0" x2="0" y2="1"><stop offset="0.000" stop-color="#000004"/><stop offset="0.069" stop-color="#000004"/><stop offset="0.163" stop-color="#000004"/><stop offset="0.298" stop-color="#000004"/><stop offset="0.433" stop-color="#000004"/><stop offset="0.567" stop-color="#000004"/><stop offset="0.702" stop-color="#000004"/><stop offset="0.796" stop-color="#000004"/><stop offset="0.864" stop-color="#000004"/><stop offset="0.904" stop-color="#000004"/><stop offset="0.931" stop-color="#000004"/><stop offset="0.951" stop-color="#000004"/><stop offset="0.965" stop-color="#000004"/><stop offset="0.974" stop-color="#2c115f"/><stop offset="0.982" stop-color="#56147d"/><stop offset="0.991" stop-color="#621980"/><stop offset="1.000" stop-color="#f7705c"/></linearGradient><linearGradient id="g52" x1="0" y1="0" x2="0" y2="1"><stop offset="0.000" stop-color="#000004"/><stop offset="0.069" stop-color="#000004"/><stop offset="0.163" stop-color="#000004"/><stop offset="0.298" stop-color="#000004"/><stop offset="0.433" stop-color="#000004"/><stop offset="0.567" stop-color="#000004"/><stop offset="0.702" stop-color="#000004"/><stop offset="0.796" stop-color="#000004"/><stop offset="0.864" stop-color="#000004"/><stop offset="0.904" stop-color="#000004"/><stop offset="0.931" stop-color="#000004"/><stop offset="0.951" stop-color="#000004"/><stop offset="0.965" stop-color="#000004"/><stop offset="0.974" stop-color="#2c115f"/><stop offset="0.982" stop-color="#56147d"/><stop offset="0.991" stop-color="#621980"/><stop offset="1.000" stop-color="#f7705c"/></linearGradient><linearGradient id="g53" x1="0" y1="0" x2="0" y2="1"><stop offset="0.000" stop-color="#000004"/><stop offset="0.069" stop-color="#000004"/><stop offset="0.163" stop-color="#000004"/><stop offset="0.298" stop-color="#000004"/><stop offset="0.433" stop-color="#000004"/><stop offset="0.567" stop-color="#000004"/><stop offset="0.702" stop-color="#000004"/><stop offset="0.796" stop-color="#000004"/><stop offset="0.864" stop-color="#000004"/><stop offset="0.904" stop-color="#000004"/><stop offset="0.931" stop-color="#000004"/><stop offset="0.951" stop-color="#000004"/><stop offset="0.965" stop-color="#000004"/><stop offset="0.974" stop-color="#000004"/><stop offset="0.982" stop-color="#03030f"/><stop offset="0.991" stop-color="#251255"/><stop offset="1.000" stop-color="#de4968"/></linearGradient><linearGradient id="g54" x1="0" y1="0" x2="0" y2="1"><stop offset="0.000" stop-color="#000004"/><stop offset="0.069" stop-color="#100b2d"/><stop offset="0.163" stop-color="#130d34"/><stop offset="0.298" stop-color="#180f3d"/><stop offset="0.433" stop-color="#1e1149"/><stop offset="0.567" stop-color="#29115a"/><stop offset="0.702" stop-color="#38106c"/><stop offset="0.796" stop-color="#491078"/><stop offset="0.864" stop-color="#57157e"/><stop offset="0.904" stop-color="#5f187f"/><stop offset="0.931" stop-color="#641a80"/><stop offset="0.951" stop-color="#6b1d81"/><stop offset="0.965" stop-color="#701f81"/><stop offset="0.974" stop-color="#752181"/><stop offset="0.982" stop-color="#762181"/><stop offset="0.991" stop-color="#782281"/><stop offset="1.000" stop-color="#a1307e"/></linearGradient><linearGradient id="g55" x1="0" y1="0" x2="0" y2="1"><stop offset="0.000" stop-color="#000004"/><stop offset="0.069" stop-color="#54137d"/><stop offset="0.163" stop-color="#56147d"/><stop offset="0.298" stop-color="#57157e"/><stop offset="0.433" stop-color="#5f187f"/><stop offset="0.567" stop-color="#6b1d81"/><stop offset="0.702" stop-color="#942c80"/><stop offset="0.796" stop-color="#a3307e"/><stop offset="0.864" stop-color="#b3367a"/><stop offset="0.904" stop-color="#c03a76"/><stop offset="0.931" stop-color="#ca3e72"/><stop offset="0.951" stop-color="#d0416f"/><stop offset="0.965" stop-color="#d2426f"/><stop offset="0.974" stop-color="#d2426f"/><stop offset="0.982" stop-color="#d2426f"/><stop offset="0.991" stop-color="#d2426f"/><stop offset="1.000" stop-color="#e44f64"/></linearGradient><linearGradient id="g56" x1="0" y1="0" x2="0" y2="1"><stop offset="0.000" stop-color="#59157e"/><stop offset="0.069" stop-color="#59157e"/><stop offset="0.163" stop-color="#59157e"/><stop offset="0.298" stop-color="#59157e"/><stop offset="0.433" stop-color="#641a80"/><stop offset="0.567" stop-color="#7c2382"/><stop offset="0.702" stop-color="#982d80"/><stop offset="0.796" stop-color="#ad347c"/><stop offset="0.864" stop-color="#bf3a77"/><stop offset="0.904" stop-color="#ca3e72"/><stop offset="0.931" stop-color="#db476a"/><stop offset="0.951" stop-color="#e44f64"/><stop offset="0.965" stop-color="#ea5661"/><stop offset="0.974" stop-color="#ed5a5f"/><stop offset="0.982" stop-color="#ed5a5f"/><stop offset="0.991" stop-color="#ed5a5f"/><stop offset="1.000" stop-color="#f4675c"/></linearGradient><linearGradient id="g57" x1="0" y1="0" x2="0" y2="1"><stop offset="0.000" stop-color="#3b0f70"/><stop offset="0.069" stop-color="#3d0f71"/><stop offset="0.163" stop-color="#3f0f72"/><stop offset="0.298" stop-color="#420f75"/><stop offset="0.433" stop-color="#491078"/><stop offset="0.567" stop-color="#56147d"/><stop offset="0.702" stop-color="#6e1e81"/><stop offset="0.796" stop-color="#802582"/><stop offset="0.864" stop-color="#8b2981"/><stop offset="0.904" stop-color="#912b81"/><stop offset="0.931" stop-color="#a02f7f"/><stop offset="0.951" stop-color="#ab337c"/><stop offset="0.965" stop-color="#b2357b"/><stop offset="0.974" stop-color="#b73779"/><stop offset="0.982" stop-color="#b73779"/><stop offset="0.991" stop-color="#b73779"/><stop offset="1.000" stop-color="#d6456c"/></linearGradient><linearGradient id="g58" x1="0" y1="0" x2="0" y2="1"><stop offset="0.000" stop-color="#1a1042"/><stop offset="0.069" stop-color="#1c1044"/><stop offset="0.163" stop-color="#1c1044"/><stop offset="0.298" stop-color="#1d1147"/><stop offset="0.433" stop-color="#241253"/><stop offset="0.567" stop-color="#331067"/><stop offset="0.702" stop-color="#471078"/><stop offset="0.796" stop-color="#59157e"/><stop offset="0.864" stop-color="#6b1d81"/><stop offset="0.904" stop-color="#782281"/><stop offset="0.931" stop-color="#782281"/><stop offset="0.951" stop-color="#782281"/><stop offset="0.965" stop-color="#782281"/><stop offset="0.974" stop-color="#782281"/><stop offset="0.982" stop-color="#782281"/><stop offset="0.991" stop-color="#782281"/><stop offset="1.000" stop-color="#a1307e"/></linearGradient><linearGradient id="g59" x1="0" y1="0" x2="0" y2="1"><stop offset="0.000" stop-color="#140e36"/><stop offset="0.069" stop-color="#150e38"/><stop offset="0.163" stop-color="#180f3d"/><stop offset="0.298" stop-color="#1a1042"/><stop offset="0.433" stop-color="#1e1149"/><stop offset="0.567" stop-color="#21114e"/><stop offset="0.702" stop-color="#331067"/><stop offset="0.796" stop-color="#440f76"/><stop offset="0.864" stop-color="#59157e"/><stop offset="0.904" stop-color="#641a80"/><stop offset="0.931" stop-color="#641a80"/><stop offset="0.951" stop-color="#641a80"/><stop offset="0.965" stop-color="#641a80"/><stop offset="0.974" stop-color="#641a80"/><stop offset="0.982" stop-color="#641a80"/><stop offset="0.991" stop-color="#641a80"/><stop offset="1.000" stop-color="#8c2981"/></linearGradient><linearGradient id="g60" x1="0" y1="0" x2="0" y2="1"><stop offset="0.000" stop-color="#0e0b2b"/><stop offset="0.069" stop-color="#100b2d"/><stop offset="0.163" stop-color="#110c2f"/><stop offset="0.298" stop-color="#130d34"/><stop offset="0.433" stop-color="#150e38"/><stop offset="0.567" stop-color="#180f3d"/><stop offset="0.702" stop-color="#251255"/><stop offset="0.796" stop-color="#36106b"/><stop offset="0.864" stop-color="#4c117a"/><stop offset="0.904" stop-color="#59157e"/><stop offset="0.931" stop-color="#59157e"/><stop offset="0.951" stop-color="#59157e"/><stop offset="0.965" stop-color="#59157e"/><stop offset="0.974" stop-color="#59157e"/><stop offset="0.982" stop-color="#59157e"/><stop offset="0.991" stop-color="#59157e"/><stop offset="1.000" stop-color="#842681"/></linearGradient><linearGradient id="g61" x1="0" y1="0" x2="0" y2="1"><stop offset="0.000" stop-color="#090720"/><stop offset="0.069" stop-color="#0a0822"/><stop offset="0.163" stop-color="#0c0926"/><stop offset="0.298" stop-color="#0e0b2b"/><stop offset="0.433" stop-color="#120d31"/><stop offset="0.567" stop-color="#140e36"/><stop offset="0.702" stop-color="#21114e"/><stop offset="0.796" stop-color="#331067"/><stop offset="0.864" stop-color="#471078"/><stop offset="0.904" stop-color="#54137d"/><stop offset="0.931" stop-color="#54137d"/><stop offset="0.951" stop-color="#54137d"/><stop offset="0.965" stop-color="#54137d"/><stop offset="0.974" stop-color="#54137d"/><stop offset="0.982" stop-color="#54137d"/><stop offset="0.991" stop-color="#54137d"/><stop offset="1.000" stop-color="#842681"/></linearGradient><linearGradient id="g62" x1="0" y1="0" x2="0" y2="1"><stop offset="0.000" stop-color="#050416"/><stop offset="0.069" stop-color="#060518"/><stop offset="0.163" stop-color="#07061c"/><stop offset="0.298" stop-color="#0a0822"/><stop offset="0.433" stop-color="#0d0a29"/><stop offset="0.567" stop-color="#120d31"/><stop offset="0.702" stop-color="#1e1149"/><stop offset="0.796" stop-color="#2d1161"/><stop offset="0.864" stop-color="#440f76"/><stop offset="0.904" stop-color="#51127c"/><stop offset="0.931" stop-color="#51127c"/><stop offset="0.951" stop-color="#51127c"/><stop offset="0.965" stop-color="#51127c"/><stop offset="0.974" stop-color="#51127c"/><stop offset="0.982" stop-color="#51127c"/><stop offset="0.991" stop-color="#51127c"/><stop offset="1.000" stop-color="#842681"/></linearGradient><linearGradient id="g63" x1="0" y1="0" x2="0" y2="1"><stop offset="0.000" stop-color="#06051a"/><stop offset="0.069" stop-color="#08071e"/><stop offset="0.163" stop-color="#0a0822"/><stop offset="0.298" stop-color="#0d0a29"/><stop offset="0.433" stop-color="#110c2f"/><stop offset="0.567" stop-color="#140e36"/><stop offset="0.702" stop-color="#2a115c"/><stop offset="0.796" stop-color="#3f0f72"/><stop offset="0.864" stop-color="#4c117a"/><stop offset="0.904" stop-color="#54137d"/><stop offset="0.931" stop-color="#54137d"/><stop offset="0.951" stop-color="#54137d"/><stop offset="0.965" stop-color="#54137d"/><stop offset="0.974" stop-color="#54137d"/><stop offset="0.982" stop-color="#54137d"/><stop offset="0.991" stop-color="#54137d"/><stop offset="1.000" stop-color="#842681"/></linearGradient><linearGradient id="g64" x1="0" y1="0" x2="0" y2="1"><stop offset="0.000" stop-color="#29115a"/><stop offset="0.069" stop-color="#2d1161"/><stop offset="0.163" stop-color="#341069"/><stop offset="0.298" stop-color="#3f0f72"/><stop offset="0.433" stop-color="#491078"/><stop offset="0.567" stop-color="#52137c"/><stop offset="0.702" stop-color="#621980"/><stop offset="0.796" stop-color="#6d1d81"/><stop offset="0.864" stop-color="#792282"/><stop offset="0.904" stop-color="#802582"/><stop offset="0.931" stop-color="#8b2981"/><stop offset="0.951" stop-color="#912b81"/><stop offset="0.965" stop-color="#962c80"/><stop offset="0.974" stop-color="#992d80"/><stop offset="0.982" stop-color="#992d80"/><stop offset="0.991" stop-color="#992d80"/><stop offset="1.000" stop-color="#bf3a77"/></linearGradient><linearGradient id="g65" x1="0" y1="0" x2="0" y2="1"><stop offset="0.000" stop-color="#3b0f70"/><stop offset="0.069" stop-color="#3d0f71"/><stop offset="0.163" stop-color="#420f75"/><stop offset="0.298" stop-color="#471078"/><stop offset="0.433" stop-color="#4c117a"/><stop offset="0.567" stop-color="#52137c"/><stop offset="0.702" stop-color="#621980"/><stop offset="0.796" stop-color="#6d1d81"/><stop offset="0.864" stop-color="#792282"/><stop offset="0.904" stop-color="#802582"/><stop offset="0.931" stop-color="#802582"/><stop offset="0.951" stop-color="#802582"/><stop offset="0.965" stop-color="#802582"/><stop offset="0.974" stop-color="#802582"/><stop offset="0.982" stop-color="#802582"/><stop offset="0.991" stop-color="#802582"/><stop offset="1.000" stop-color="#bf3a77"/></linearGradient><linearGradient id="g66" x1="0" y1="0" x2="0" y2="1"><stop offset="0.000" stop-color="#1e1149"/><stop offset="0.069" stop-color="#21114e"/><stop offset="0.163" stop-color="#251255"/><stop offset="0.298" stop-color="#2d1161"/><stop offset="0.433" stop-color="#341069"/><stop offset="0.567" stop-color="#3d0f71"/><stop offset="0.702" stop-color="#52137c"/><stop offset="0.796" stop-color="#601880"/><stop offset="0.864" stop-color="#6a1c81"/><stop offset="0.904" stop-color="#701f81"/><stop offset="0.931" stop-color="#701f81"/><stop offset="0.951" stop-color="#701f81"/><stop offset="0.965" stop-color="#701f81"/><stop offset="0.974" stop-color="#701f81"/><stop offset="0.982" stop-color="#701f81"/><stop offset="0.991" stop-color="#701f81"/><stop offset="1.000" stop-color="#942c80"/></linearGradient><linearGradient id="g67" x1="0" y1="0" x2="0" y2="1"><stop offset="0.000" stop-color="#1e1149"/><stop offset="0.069" stop-color="#21114e"/><stop offset="0.163" stop-color="#251255"/><stop offset="0.298" stop-color="#2a115c"/><stop offset="0.433" stop-color="#311165"/><stop offset="0.567" stop-color="#38106c"/><stop offset="0.702" stop-color="#491078"/><stop offset="0.796" stop-color="#54137d"/><stop offset="0.864" stop-color="#5c167f"/><stop offset="0.904" stop-color="#601880"/><stop offset="0.931" stop-color="#601880"/><stop offset="0.951" stop-color="#601880"/><stop offset="0.965" stop-color="#601880"/><stop offset="0.974" stop-color="#601880"/><stop offset="0.982" stop-color="#601880"/><stop offset="0.991" stop-color="#601880"/><stop offset="1.000" stop-color="#942c80"/></linearGradient><linearGradient id="g68" x1="0" y1="0" x2="0" y2="1"><stop offset="0.000" stop-color="#180f3d"/><stop offset="0.069" stop-color="#1a1042"/><stop offset="0.163" stop-color="#1d1147"/><stop offset="0.298" stop-color="#221150"/><stop offset="0.433" stop-color="#29115a"/><stop offset="0.567" stop-color="#2f1163"/><stop offset="0.702" stop-color="#420f75"/><stop offset="0.796" stop-color="#4f127b"/><stop offset="0.864" stop-color="#57157e"/><stop offset="0.904" stop-color="#5c167f"/><stop offset="0.931" stop-color="#5c167f"/><stop offset="0.951" stop-color="#5c167f"/><stop offset="0.965" stop-color="#5c167f"/><stop offset="0.974" stop-color="#5c167f"/><stop offset="0.982" stop-color="#5c167f"/><stop offset="0.991" stop-color="#5c167f"/><stop offset="1.000" stop-color="#942c80"/></linearGradient><linearGradient id="g69" x1="0" y1="0" x2="0" y2="1"><stop offset="0.000" stop-color="#0e0b2b"/><stop offset="0.069" stop-color="#110c2f"/><stop offset="0.163" stop-color="#140e36"/><stop offset="0.298" stop-color="#19103f"/><stop offset="0.433" stop-color="#1e1149"/><stop offset="0.567" stop-color="#221150"/><stop offset="0.702" stop-color="#341069"/><stop offset="0.796" stop-color="#420f75"/><stop offset="0.864" stop-color="#4a1079"/><stop offset="0.904" stop-color="#51127c"/><stop offset="0.931" stop-color="#51127c"/><stop offset="0.951" stop-color="#51127c"/><stop offset="0.965" stop-color="#51127c"/><stop offset="0.974" stop-color="#51127c"/><stop offset="0.982" stop-color="#51127c"/><stop offset="0.991" stop-color="#51127c"/><stop offset="1.000" stop-color="#842681"/></linearGradient><linearGradient id="g70" x1="0" y1="0" x2="0" y2="1"><stop offset="0.000" stop-color="#090720"/><stop offset="0.069" stop-color="#0b0924"/><stop offset="0.163" stop-color="#0e0b2b"/><stop offset="0.298" stop-color="#130d34"/><stop offset="0.433" stop-color="#160f3b"/><stop offset="0.567" stop-color="#1c1044"/><stop offset="0.702" stop-color="#2d1161"/><stop offset="0.796" stop-color="#3d0f71"/><stop offset="0.864" stop-color="#471078"/><stop offset="0.904" stop-color="#4c117a"/><stop offset="0.931" stop-color="#4c117a"/><stop offset="0.951" stop-color="#4c117a"/><stop offset="0.965" stop-color="#4c117a"/><stop offset="0.974" stop-color="#4c117a"/><stop offset="0.982" stop-color="#4c117a"/><stop offset="0.991" stop-color="#4c117a"/><stop offset="1.000" stop-color="#842681"/></linearGradient><linearGradient id="g71" x1="0" y1="0" x2="0" y2="1"><stop offset="0.000" stop-color="#03030f"/><stop offset="0.069" stop-color="#040414"/><stop offset="0.163" stop-color="#07061c"/><stop offset="0.298" stop-color="#0b0924"/><stop offset="0.433" stop-color="#110c2f"/><stop offset="0.567" stop-color="#150e38"/><stop offset="0.702" stop-color="#271258"/><stop offset="0.796" stop-color="#36106b"/><stop offset="0.864" stop-color="#420f75"/><stop offset="0.904" stop-color="#491078"/><stop offset="0.931" stop-color="#491078"/><stop offset="0.951" stop-color="#491078"/><stop offset="0.965" stop-color="#471078"/><stop offset="0.974" stop-color="#471078"/><stop offset="0.982" stop-color="#471078"/><stop offset="0.991" stop-color="#471078"/><stop offset="1.000" stop-color="#701f81"/></linearGradient><linearGradient id="g72" x1="0" y1="0" x2="0" y2="1"><stop offset="0.000" stop-color="#03030f"/><stop offset="0.069" stop-color="#040414"/><stop offset="0.163" stop-color="#060518"/><stop offset="0.298" stop-color="#08071e"/><stop offset="0.433" stop-color="#0b0924"/><stop offset="0.567" stop-color="#0e0b2b"/><stop offset="0.702" stop-color="#160f3b"/><stop offset="0.796" stop-color="#21114e"/><stop offset="0.864" stop-color="#36106b"/><stop offset="0.904" stop-color="#440f76"/><stop offset="0.931" stop-color="#440f76"/><stop offset="0.951" stop-color="#440f76"/><stop offset="0.965" stop-color="#440f76"/><stop offset="0.974" stop-color="#440f76"/><stop offset="0.982" stop-color="#440f76"/><stop offset="0.991" stop-color="#440f76"/><stop offset="1.000" stop-color="#641a80"/></linearGradient><linearGradient id="g73" x1="0" y1="0" x2="0" y2="1"><stop offset="0.000" stop-color="#8c2981"/><stop offset="0.069" stop-color="#8e2a81"/><stop offset="0.163" stop-color="#8e2a81"/><stop offset="0.298" stop-color="#912b81"/><stop offset="0.433" stop-color="#932b80"/><stop offset="0.567" stop-color="#942c80"/><stop offset="0.702" stop-color="#992d80"/><stop offset="0.796" stop-color="#9c2e7f"/><stop offset="0.864" stop-color="#a02f7f"/><stop offset="0.904" stop-color="#a1307e"/><stop offset="0.931" stop-color="#aa337d"/><stop offset="0.951" stop-color="#b0357b"/><stop offset="0.965" stop-color="#b3367a"/><stop offset="0.974" stop-color="#b73779"/><stop offset="0.982" stop-color="#b73779"/><stop offset="0.991" stop-color="#b73779"/><stop offset="1.000" stop-color="#b73779"/></linearGradient><linearGradient id="g74" x1="0" y1="0" x2="0" y2="1"><stop offset="0.000" stop-color="#bf3a77"/><stop offset="0.069" stop-color="#bf3a77"/><stop offset="0.163" stop-color="#c03a76"/><stop offset="0.298" stop-color="#c43c75"/><stop offset="0.433" stop-color="#c83e73"/><stop offset="0.567" stop-color="#cd4071"/><stop offset="0.702" stop-color="#d2426f"/><stop offset="0.796" stop-color="#d6456c"/><stop offset="0.864" stop-color="#dc4869"/><stop offset="0.904" stop-color="#e04c67"/><stop offset="0.931" stop-color="#ee5b5e"/><stop offset="0.951" stop-color="#f66c5c"/><stop offset="0.965" stop-color="#f9785d"/><stop offset="0.974" stop-color="#fa7d5e"/><stop offset="0.982" stop-color="#fa7d5e"/><stop offset="0.991" stop-color="#fa7d5e"/><stop offset="1.000" stop-color="#fe9f6d"/></linearGradient><linearGradient id="g75" x1="0" y1="0" x2="0" y2="1"><stop offset="0.000" stop-color="#aa337d"/><stop offset="0.069" stop-color="#ab337c"/><stop offset="0.163" stop-color="#ae347b"/><stop offset="0.298" stop-color="#b3367a"/><stop offset="0.433" stop-color="#b83779"/><stop offset="0.567" stop-color="#bd3977"/><stop offset="0.702" stop-color="#c73d73"/><stop offset="0.796" stop-color="#cd4071"/><stop offset="0.864" stop-color="#de4968"/><stop offset="0.904" stop-color="#ec5860"/><stop offset="0.931" stop-color="#f97b5d"/><stop offset="0.951" stop-color="#fd9668"/><stop offset="0.965" stop-color="#fe9f6d"/><stop offset="0.974" stop-color="#fe9f6d"/><stop offset="0.982" stop-color="#fe9f6d"/><stop offset="0.991" stop-color="#fe9f6d"/><stop offset="1.000" stop-color="#fecf92"/></linearGradient><linearGradient id="g76" x1="0" y1="0" x2="0" y2="1"><stop offset="0.000" stop-color="#842681"/><stop offset="0.069" stop-color="#882781"/><stop offset="0.163" stop-color="#8c2981"/><stop offset="0.298" stop-color="#932b80"/><stop offset="0.433" stop-color="#992d80"/><stop offset="0.567" stop-color="#a02f7f"/><stop offset="0.702" stop-color="#a8327d"/><stop offset="0.796" stop-color="#ad347c"/><stop offset="0.864" stop-color="#bc3978"/><stop offset="0.904" stop-color="#cd4071"/><stop offset="0.931" stop-color="#ec5860"/><stop offset="0.951" stop-color="#f8765c"/><stop offset="0.965" stop-color="#fc8c63"/><stop offset="0.974" stop-color="#fc8c63"/><stop offset="0.982" stop-color="#fc8c63"/><stop offset="0.991" stop-color="#fc8c63"/><stop offset="1.000" stop-color="#fecf92"/></linearGradient><linearGradient id="g77" x1="0" y1="0" x2="0" y2="1"><stop offset="0.000" stop-color="#842681"/><stop offset="0.069" stop-color="#862781"/><stop offset="0.163" stop-color="#892881"/><stop offset="0.298" stop-color="#8e2a81"/><stop offset="0.433" stop-color="#932b80"/><stop offset="0.567" stop-color="#982d80"/><stop offset="0.702" stop-color="#a8327d"/><stop offset="0.796" stop-color="#b3367a"/><stop offset="0.864" stop-color="#c73d73"/><stop offset="0.904" stop-color="#db476a"/><stop offset="0.931" stop-color="#e55064"/><stop offset="0.951" stop-color="#ed5a5f"/><stop offset="0.965" stop-color="#ef5d5e"/><stop offset="0.974" stop-color="#ef5d5e"/><stop offset="0.982" stop-color="#ef5d5e"/><stop offset="0.991" stop-color="#ef5d5e"/><stop offset="1.000" stop-color="#fecf92"/></linearGradient><linearGradient id="g78" x1="0" y1="0" x2="0" y2="1"><stop offset="0.000" stop-color="#7c2382"/><stop offset="0.069" stop-color="#7e2482"/><stop offset="0.163" stop-color="#832681"/><stop offset="0.298" stop-color="#882781"/><stop offset="0.433" stop-color="#8e2a81"/><stop offset="0.567" stop-color="#932b80"/><stop offset="0.702" stop-color="#a6317d"/><stop offset="0.796" stop-color="#b2357b"/><stop offset="0.864" stop-color="#c23b75"/><stop offset="0.904" stop-color="#d0416f"/><stop offset="0.931" stop-color="#d8456c"/><stop offset="0.951" stop-color="#df4a68"/><stop offset="0.965" stop-color="#e04c67"/><stop offset="0.974" stop-color="#e04c67"/><stop offset="0.982" stop-color="#e24d66"/><stop offset="0.991" stop-color="#e24d66"/><stop offset="1.000" stop-color="#fecf92"/></linearGradient><linearGradient id="g79" x1="0" y1="0" x2="0" y2="1"><stop offset="0.000" stop-color="#701f81"/><stop offset="0.069" stop-color="#732081"/><stop offset="0.163" stop-color="#782281"/><stop offset="0.298" stop-color="#7e2482"/><stop offset="0.433" stop-color="#842681"/><stop offset="0.567" stop-color="#8b2981"/><stop offset="0.702" stop-color="#982d80"/><stop offset="0.796" stop-color="#a02f7f"/><stop offset="0.864" stop-color="#ad347c"/><stop offset="0.904" stop-color="#bc3978"/><stop offset="0.931" stop-color="#c53c74"/><stop offset="0.951" stop-color="#cc3f71"/><stop offset="0.965" stop-color="#cf4070"/><stop offset="0.974" stop-color="#cf4070"/><stop offset="0.982" stop-color="#cf4070"/><stop offset="0.991" stop-color="#cf4070"/><stop offset="1.000" stop-color="#fecf92"/></linearGradient><linearGradient id="g80" x1="0" y1="0" x2="0" y2="1"><stop offset="0.000" stop-color="#6d1d81"/><stop offset="0.069" stop-color="#701f81"/><stop offset="0.163" stop-color="#752181"/><stop offset="0.298" stop-color="#7b2382"/><stop offset="0.433" stop-color="#812581"/><stop offset="0.567" stop-color="#882781"/><stop offset="0.702" stop-color="#932b80"/><stop offset="0.796" stop-color="#9c2e7f"/><stop offset="0.864" stop-color="#aa337d"/><stop offset="0.904" stop-color="#ba3878"/><stop offset="0.931" stop-color="#c43c75"/><stop offset="0.951" stop-color="#cc3f71"/><stop offset="0.965" stop-color="#cf4070"/><stop offset="0.974" stop-color="#cf4070"/><stop offset="0.982" stop-color="#cf4070"/><stop offset="0.991" stop-color="#cf4070"/><stop offset="1.000" stop-color="#fecf92"/></linearGradient><linearGradient id="g81" x1="0" y1="0" x2="0" y2="1"><stop offset="0.000" stop-color="#6a1c81"/><stop offset="0.069" stop-color="#6d1d81"/><stop offset="0.163" stop-color="#721f81"/><stop offset="0.298" stop-color="#782281"/><stop offset="0.433" stop-color="#7e2482"/><stop offset="0.567" stop-color="#842681"/><stop offset="0.702" stop-color="#902a81"/><stop offset="0.796" stop-color="#992d80"/><stop offset="0.864" stop-color="#a8327d"/><stop offset="0.904" stop-color="#b83779"/><stop offset="0.931" stop-color="#c43c75"/><stop offset="0.951" stop-color="#cc3f71"/><stop offset="0.965" stop-color="#cf4070"/><stop offset="0.974" stop-color="#cf4070"/><stop offset="0.982" stop-color="#cf4070"/><stop offset="0.991" stop-color="#cf4070"/><stop offset="1.000" stop-color="#fecf92"/></linearGradient><linearGradient id="g82" x1="0" y1="0" x2="0" y2="1"><stop offset="0.000" stop-color="#671b80"/><stop offset="0.069" stop-color="#6a1c81"/><stop offset="0.163" stop-color="#6e1e81"/><stop offset="0.298" stop-color="#752181"/><stop offset="0.433" stop-color="#7b2382"/><stop offset="0.567" stop-color="#812581"/><stop offset="0.702" stop-color="#8c2981"/><stop offset="0.796" stop-color="#942c80"/><stop offset="0.864" stop-color="#a5317e"/><stop offset="0.904" stop-color="#b73779"/><stop offset="0.931" stop-color="#c23b75"/><stop offset="0.951" stop-color="#cc3f71"/><stop offset="0.965" stop-color="#cf4070"/><stop offset="0.974" stop-color="#cf4070"/><stop offset="0.982" stop-color="#cf4070"/><stop offset="0.991" stop-color="#cf4070"/><stop offset="1.000" stop-color="#fecf92"/></linearGradient><linearGradient id="g83" x1="0" y1="0" x2="0" y2="1"><stop offset="0.000" stop-color="#621980"/><stop offset="0.069" stop-color="#671b80"/><stop offset="0.163" stop-color="#6a1c81"/><stop offset="0.298" stop-color="#701f81"/><stop offset="0.433" stop-color="#782281"/><stop offset="0.567" stop-color="#7e2482"/><stop offset="0.702" stop-color="#892881"/><stop offset="0.796" stop-color="#912b81"/><stop offset="0.864" stop-color="#a1307e"/><stop offset="0.904" stop-color="#b5367a"/><stop offset="0.931" stop-color="#c23b75"/><stop offset="0.951" stop-color="#cc3f71"/><stop offset="0.965" stop-color="#cf4070"/><stop offset="0.974" stop-color="#cf4070"/><stop offset="0.982" stop-color="#cf4070"/><stop offset="0.991" stop-color="#cf4070"/><stop offset="1.000" stop-color="#fecf92"/></linearGradient><linearGradient id="g84" x1="0" y1="0" x2="0" y2="1"><stop offset="0.000" stop-color="#5f187f"/><stop offset="0.069" stop-color="#621980"/><stop offset="0.163" stop-color="#671b80"/><stop offset="0.298" stop-color="#6d1d81"/><stop offset="0.433" stop-color="#732081"/><stop offset="0.567" stop-color="#792282"/><stop offset="0.702" stop-color="#862781"/><stop offset="0.796" stop-color="#8e2a81"/><stop offset="0.864" stop-color="#a02f7f"/><stop offset="0.904" stop-color="#b3367a"/><stop offset="0.931" stop-color="#c03a76"/><stop offset="0.951" stop-color="#ca3e72"/><stop offset="0.965" stop-color="#cf4070"/><stop offset="0.974" stop-color="#cf4070"/><stop offset="0.982" stop-color="#cf4070"/><stop offset="0.991" stop-color="#cf4070"/><stop offset="1.000" stop-color="#fecf92"/></linearGradient><linearGradient id="g85" x1="0" y1="0" x2="0" y2="1"><stop offset="0.000" stop-color="#5c167f"/><stop offset="0.069" stop-color="#5f187f"/><stop offset="0.163" stop-color="#641a80"/><stop offset="0.298" stop-color="#6a1c81"/><stop offset="0.433" stop-color="#701f81"/><stop offset="0.567" stop-color="#762181"/><stop offset="0.702" stop-color="#832681"/><stop offset="0.796" stop-color="#8b2981"/><stop offset="0.864" stop-color="#9c2e7f"/><stop offset="0.904" stop-color="#b2357b"/><stop offset="0.931" stop-color="#c03a76"/><stop offset="0.951" stop-color="#ca3e72"/><stop offset="0.965" stop-color="#cf4070"/><stop offset="0.974" stop-color="#cf4070"/><stop offset="0.982" stop-color="#cf4070"/><stop offset="0.991" stop-color="#cf4070"/><stop offset="1.000" stop-color="#fecf92"/></linearGradient><linearGradient id="g86" x1="0" y1="0" x2="0" y2="1"><stop offset="0.000" stop-color="#4f127b"/><stop offset="0.069" stop-color="#52137c"/><stop offset="0.163" stop-color="#56147d"/><stop offset="0.298" stop-color="#5a167e"/><stop offset="0.433" stop-color="#5f187f"/><stop offset="0.567" stop-color="#641a80"/><stop offset="0.702" stop-color="#732081"/><stop offset="0.796" stop-color="#7e2482"/><stop offset="0.864" stop-color="#8b2981"/><stop offset="0.904" stop-color="#992d80"/><stop offset="0.931" stop-color="#a3307e"/><stop offset="0.951" stop-color="#ab337c"/><stop offset="0.965" stop-color="#ad347c"/><stop offset="0.974" stop-color="#ad347c"/><stop offset="0.982" stop-color="#ad347c"/><stop offset="0.991" stop-color="#ad347c"/><stop offset="1.000" stop-color="#feb77e"/></linearGradient><linearGradient id="g87" x1="0" y1="0" x2="0" y2="1"><stop offset="0.000" stop-color="#4c117a"/><stop offset="0.069" stop-color="#4e117b"/><stop offset="0.163" stop-color="#51127c"/><stop offset="0.298" stop-color="#56147d"/><stop offset="0.433" stop-color="#5a167e"/><stop offset="0.567" stop-color="#5f187f"/><stop offset="0.702" stop-color="#6e1e81"/><stop offset="0.796" stop-color="#792282"/><stop offset="0.864" stop-color="#882781"/><stop offset="0.904" stop-color="#962c80"/><stop offset="0.931" stop-color="#a02f7f"/><stop offset="0.951" stop-color="#a6317d"/><stop offset="0.965" stop-color="#aa337d"/><stop offset="0.974" stop-color="#aa337d"/><stop offset="0.982" stop-color="#aa337d"/><stop offset="0.991" stop-color="#aa337d"/><stop offset="1.000" stop-color="#fe9f6d"/></linearGradient><linearGradient id="g88" x1="0" y1="0" x2="0" y2="1"><stop offset="0.000" stop-color="#471078"/><stop offset="0.069" stop-color="#4a1079"/><stop offset="0.163" stop-color="#4e117b"/><stop offset="0.298" stop-color="#52137c"/><stop offset="0.433" stop-color="#57157e"/><stop offset="0.567" stop-color="#5a167e"/><stop offset="0.702" stop-color="#6a1c81"/><stop offset="0.796" stop-color="#752181"/><stop offset="0.864" stop-color="#832681"/><stop offset="0.904" stop-color="#912b81"/><stop offset="0.931" stop-color="#9b2e7f"/><stop offset="0.951" stop-color="#a1307e"/><stop offset="0.965" stop-color="#a5317e"/><stop offset="0.974" stop-color="#a5317e"/><stop offset="0.982" stop-color="#a5317e"/><stop offset="0.991" stop-color="#a5317e"/><stop offset="1.000" stop-color="#fc8961"/></linearGradient><linearGradient id="g89" x1="0" y1="0" x2="0" y2="1"><stop offset="0.000" stop-color="#440f76"/><stop offset="0.069" stop-color="#451077"/><stop offset="0.163" stop-color="#491078"/><stop offset="0.298" stop-color="#4e117b"/><stop offset="0.433" stop-color="#52137c"/><stop offset="0.567" stop-color="#57157e"/><stop offset="0.702" stop-color="#671b80"/><stop offset="0.796" stop-color="#721f81"/><stop offset="0.864" stop-color="#802582"/><stop offset="0.904" stop-color="#8e2a81"/><stop offset="0.931" stop-color="#962c80"/><stop offset="0.951" stop-color="#9e2f7f"/><stop offset="0.965" stop-color="#a02f7f"/><stop offset="0.974" stop-color="#a1307e"/><stop offset="0.982" stop-color="#a1307e"/><stop offset="0.991" stop-color="#a1307e"/><stop offset="1.000" stop-color="#f7705c"/></linearGradient><linearGradient id="g90" x1="0" y1="0" x2="0" y2="1"><stop offset="0.000" stop-color="#3f0f72"/><stop offset="0.069" stop-color="#420f75"/><stop offset="0.163" stop-color="#451077"/><stop offset="0.298" stop-color="#4a1079"/><stop offset="0.433" stop-color="#4e117b"/><stop offset="0.567" stop-color="#52137c"/><stop offset="0.702" stop-color="#621980"/><stop offset="0.796" stop-color="#6d1d81"/><stop offset="0.864" stop-color="#7b2382"/><stop offset="0.904" stop-color="#892881"/><stop offset="0.931" stop-color="#932b80"/><stop offset="0.951" stop-color="#992d80"/><stop offset="0.965" stop-color="#9c2e7f"/><stop offset="0.974" stop-color="#9c2e7f"/><stop offset="0.982" stop-color="#9c2e7f"/><stop offset="0.991" stop-color="#9c2e7f"/><stop offset="1.000" stop-color="#ed5a5f"/></linearGradient><linearGradient id="g91" x1="0" y1="0" x2="0" y2="1"><stop offset="0.000" stop-color="#3b0f70"/><stop offset="0.069" stop-color="#3d0f71"/><stop offset="0.163" stop-color="#400f74"/><stop offset="0.298" stop-color="#451077"/><stop offset="0.433" stop-color="#4a1079"/><stop offset="0.567" stop-color="#4f127b"/><stop offset="0.702" stop-color="#5f187f"/><stop offset="0.796" stop-color="#6a1c81"/><stop offset="0.864" stop-color="#782281"/><stop offset="0.904" stop-color="#842681"/><stop offset="0.931" stop-color="#8e2a81"/><stop offset="0.951" stop-color="#962c80"/><stop offset="0.965" stop-color="#982d80"/><stop offset="0.974" stop-color="#982d80"/><stop offset="0.982" stop-color="#982d80"/><stop offset="0.991" stop-color="#992d80"/><stop offset="1.000" stop-color="#de4968"/></linearGradient><linearGradient id="g92" x1="0" y1="0" x2="0" y2="1"><stop offset="0.000" stop-color="#29115a"/><stop offset="0.069" stop-color="#2c115f"/><stop offset="0.163" stop-color="#311165"/><stop offset="0.298" stop-color="#38106c"/><stop offset="0.433" stop-color="#3f0f72"/><stop offset="0.567" stop-color="#451077"/><stop offset="0.702" stop-color="#54137d"/><stop offset="0.796" stop-color="#5d177f"/><stop offset="0.864" stop-color="#681c81"/><stop offset="0.904" stop-color="#721f81"/><stop offset="0.931" stop-color="#792282"/><stop offset="0.951" stop-color="#7e2482"/><stop offset="0.965" stop-color="#802582"/><stop offset="0.974" stop-color="#802582"/><stop offset="0.982" stop-color="#802582"/><stop offset="0.991" stop-color="#802582"/><stop offset="1.000" stop-color="#b73779"/></linearGradient><linearGradient id="g93" x1="0" y1="0" x2="0" y2="1"><stop offset="0.000" stop-color="#29115a"/><stop offset="0.069" stop-color="#2c115f"/><stop offset="0.163" stop-color="#311165"/><stop offset="0.298" stop-color="#38106c"/><stop offset="0.433" stop-color="#3f0f72"/><stop offset="0.567" stop-color="#451077"/><stop offset="0.702" stop-color="#54137d"/><stop offset="0.796" stop-color="#5d177f"/><stop offset="0.864" stop-color="#681c81"/><stop offset="0.904" stop-color="#721f81"/><stop offset="0.931" stop-color="#792282"/><stop offset="0.951" stop-color="#7e2482"/><stop offset="0.965" stop-color="#802582"/><stop offset="0.974" stop-color="#802582"/><stop offset="0.982" stop-color="#802582"/><stop offset="0.991" stop-color="#802582"/><stop offset="1.000" stop-color="#b73779"/></linearGradient><linearGradient id="g94" x1="0" y1="0" x2="0" y2="1"><stop offset="0.000" stop-color="#251255"/><stop offset="0.069" stop-color="#29115a"/><stop offset="0.163" stop-color="#2c115f"/><stop offset="0.298" stop-color="#311165"/><stop offset="0.433" stop-color="#36106b"/><stop offset="0.567" stop-color="#3b0f70"/><stop offset="0.702" stop-color="#491078"/><stop offset="0.796" stop-color="#52137c"/><stop offset="0.864" stop-color="#5a167e"/><stop offset="0.904" stop-color="#621980"/><stop offset="0.931" stop-color="#671b80"/><stop offset="0.951" stop-color="#6a1c81"/><stop offset="0.965" stop-color="#6b1d81"/><stop offset="0.974" stop-color="#6b1d81"/><stop offset="0.982" stop-color="#6b1d81"/><stop offset="0.991" stop-color="#6b1d81"/><stop offset="1.000" stop-color="#a1307e"/></linearGradient><linearGradient id="g95" x1="0" y1="0" x2="0" y2="1"><stop offset="0.000" stop-color="#251255"/><stop offset="0.069" stop-color="#29115a"/><stop offset="0.163" stop-color="#2c115f"/><stop offset="0.298" stop-color="#311165"/><stop offset="0.433" stop-color="#36106b"/><stop offset="0.567" stop-color="#3b0f70"/><stop offset="0.702" stop-color="#491078"/><stop offset="0.796" stop-color="#52137c"/><stop offset="0.864" stop-color="#5a167e"/><stop offset="0.904" stop-color="#621980"/><stop offset="0.931" stop-color="#671b80"/><stop offset="0.951" stop-color="#6a1c81"/><stop offset="0.965" stop-color="#6b1d81"/><stop offset="0.974" stop-color="#6b1d81"/><stop offset="0.982" stop-color="#6b1d81"/><stop offset="0.991" stop-color="#6b1d81"/><stop offset="1.000" stop-color="#a1307e"/></linearGradient><linearGradient id="g96" x1="0" y1="0" x2="0" y2="1"><stop offset="0.000" stop-color="#251255"/><stop offset="0.069" stop-color="#29115a"/><stop offset="0.163" stop-color="#2c115f"/><stop offset="0.298" stop-color="#311165"/><stop offset="0.433" stop-color="#36106b"/><stop offset="0.567" stop-color="#3b0f70"/><stop offset="0.702" stop-color="#491078"/><stop offset="0.796" stop-color="#52137c"/><stop offset="0.864" stop-color="#5a167e"/><stop offset="0.904" stop-color="#621980"/><stop offset="0.931" stop-color="#671b80"/><stop offset="0.951" stop-color="#6a1c81"/><stop offset="0.965" stop-color="#6b1d81"/><stop offset="0.974" stop-color="#6b1d81"/><stop offset="0.982" stop-color="#6b1d81"/><stop offset="0.991" stop-color="#6b1d81"/><stop offset="1.000" stop-color="#a1307e"/></linearGradient><linearGradient id="g97" x1="0" y1="0" x2="0" y2="1"><stop offset="0.000" stop-color="#1e1149"/><stop offset="0.069" stop-color="#20114b"/><stop offset="0.163" stop-color="#241253"/><stop offset="0.298" stop-color="#29115a"/><stop offset="0.433" stop-color="#2d1161"/><stop offset="0.567" stop-color="#331067"/><stop offset="0.702" stop-color="#3f0f72"/><stop offset="0.796" stop-color="#451077"/><stop offset="0.864" stop-color="#4c117a"/><stop offset="0.904" stop-color="#51127c"/><stop offset="0.931" stop-color="#54137d"/><stop offset="0.951" stop-color="#57157e"/><stop offset="0.965" stop-color="#57157e"/><stop offset="0.974" stop-color="#57157e"/><stop offset="0.982" stop-color="#57157e"/><stop offset="0.991" stop-color="#59157e"/><stop offset="1.000" stop-color="#8c2981"/></linearGradient><linearGradient id="g98" x1="0" y1="0" x2="0" y2="1"><stop offset="0.000" stop-color="#150e38"/><stop offset="0.069" stop-color="#19103f"/><stop offset="0.163" stop-color="#1d1147"/><stop offset="0.298" stop-color="#241253"/><stop offset="0.433" stop-color="#2c115f"/><stop offset="0.567" stop-color="#331067"/><stop offset="0.702" stop-color="#3f0f72"/><stop offset="0.796" stop-color="#451077"/><stop offset="0.864" stop-color="#4c117a"/><stop offset="0.904" stop-color="#51127c"/><stop offset="0.931" stop-color="#54137d"/><stop offset="0.951" stop-color="#57157e"/><stop offset="0.965" stop-color="#57157e"/><stop offset="0.974" stop-color="#57157e"/><stop offset="0.982" stop-color="#57157e"/><stop offset="0.991" stop-color="#59157e"/><stop offset="1.000" stop-color="#8c2981"/></linearGradient><linearGradient id="g99" x1="0" y1="0" x2="0" y2="1"><stop offset="0.000" stop-color="#0e0b2b"/><stop offset="0.069" stop-color="#120d31"/><stop offset="0.163" stop-color="#180f3d"/><stop offset="0.298" stop-color="#20114b"/><stop offset="0.433" stop-color="#29115a"/><stop offset="0.567" stop-color="#331067"/><stop offset="0.702" stop-color="#3f0f72"/><stop offset="0.796" stop-color="#451077"/><stop offset="0.864" stop-color="#4c117a"/><stop offset="0.904" stop-color="#51127c"/><stop offset="0.931" stop-color="#54137d"/><stop offset="0.951" stop-color="#57157e"/><stop offset="0.965" stop-color="#57157e"/><stop offset="0.974" stop-color="#57157e"/><stop offset="0.982" stop-color="#57157e"/><stop offset="0.991" stop-color="#59157e"/><stop offset="1.000" stop-color="#8c2981"/></linearGradient><linearGradient id="g100" x1="0" y1="0" x2="0" y2="1"><stop offset="0.000" stop-color="#36106b"/><stop offset="0.069" stop-color="#38106c"/><stop offset="0.163" stop-color="#390f6e"/><stop offset="0.298" stop-color="#3d0f71"/><stop offset="0.433" stop-color="#3f0f72"/><stop offset="0.567" stop-color="#420f75"/><stop offset="0.702" stop-color="#4a1079"/><stop offset="0.796" stop-color="#51127c"/><stop offset="0.864" stop-color="#59157e"/><stop offset="0.904" stop-color="#601880"/><stop offset="0.931" stop-color="#671b80"/><stop offset="0.951" stop-color="#6a1c81"/><stop offset="0.965" stop-color="#6b1d81"/><stop offset="0.974" stop-color="#6b1d81"/><stop offset="0.982" stop-color="#6b1d81"/><stop offset="0.991" stop-color="#6b1d81"/><stop offset="1.000" stop-color="#8c2981"/></linearGradient><linearGradient id="g101" x1="0" y1="0" x2="0" y2="1"><stop offset="0.000" stop-color="#802582"/><stop offset="0.069" stop-color="#a02f7f"/><stop offset="0.163" stop-color="#a3307e"/><stop offset="0.298" stop-color="#912b81"/><stop offset="0.433" stop-color="#912b81"/><stop offset="0.567" stop-color="#a3307e"/><stop offset="0.702" stop-color="#b3367a"/><stop offset="0.796" stop-color="#bf3a77"/><stop offset="0.864" stop-color="#c53c74"/><stop offset="0.904" stop-color="#c83e73"/><stop offset="0.931" stop-color="#cd4071"/><stop offset="0.951" stop-color="#d2426f"/><stop offset="0.965" stop-color="#d5446d"/><stop offset="0.974" stop-color="#d6456c"/><stop offset="0.982" stop-color="#d6456c"/><stop offset="0.991" stop-color="#d6456c"/><stop offset="1.000" stop-color="#ed5a5f"/></linearGradient><linearGradient id="g102" x1="0" y1="0" x2="0" y2="1"><stop offset="0.000" stop-color="#942c80"/><stop offset="0.069" stop-color="#a5317e"/><stop offset="0.163" stop-color="#a8327d"/><stop offset="0.298" stop-color="#a1307e"/><stop offset="0.433" stop-color="#a6317d"/><stop offset="0.567" stop-color="#b83779"/><stop offset="0.702" stop-color="#c03a76"/><stop offset="0.796" stop-color="#cc3f71"/><stop offset="0.864" stop-color="#de4968"/><stop offset="0.904" stop-color="#e55064"/><stop offset="0.931" stop-color="#ed5a5f"/><stop offset="0.951" stop-color="#f2625d"/><stop offset="0.965" stop-color="#f3655c"/><stop offset="0.974" stop-color="#f3655c"/><stop offset="0.982" stop-color="#f3655c"/><stop offset="0.991" stop-color="#f3655c"/><stop offset="1.000" stop-color="#f7705c"/></linearGradient><linearGradient id="g103" x1="0" y1="0" x2="0" y2="1"><stop offset="0.000" stop-color="#601880"/><stop offset="0.069" stop-color="#641a80"/><stop offset="0.163" stop-color="#671b80"/><stop offset="0.298" stop-color="#6d1d81"/><stop offset="0.433" stop-color="#732081"/><stop offset="0.567" stop-color="#792282"/><stop offset="0.702" stop-color="#912b81"/><stop offset="0.796" stop-color="#a6317d"/><stop offset="0.864" stop-color="#bc3978"/><stop offset="0.904" stop-color="#c83e73"/><stop offset="0.931" stop-color="#e55064"/><stop offset="0.951" stop-color="#f3655c"/><stop offset="0.965" stop-color="#f66e5c"/><stop offset="0.974" stop-color="#f66e5c"/><stop offset="0.982" stop-color="#f7705c"/><stop offset="0.991" stop-color="#f7705c"/><stop offset="1.000" stop-color="#de4968"/></linearGradient><linearGradient id="g104" x1="0" y1="0" x2="0" y2="1"><stop offset="0.000" stop-color="#02020b"/><stop offset="0.069" stop-color="#02020b"/><stop offset="0.163" stop-color="#02020b"/><stop offset="0.298" stop-color="#02020b"/><stop offset="0.433" stop-color="#040414"/><stop offset="0.567" stop-color="#0b0924"/><stop offset="0.702" stop-color="#29115a"/><stop offset="0.796" stop-color="#51127c"/><stop offset="0.864" stop-color="#7e2482"/><stop offset="0.904" stop-color="#942c80"/><stop offset="0.931" stop-color="#a1307e"/><stop offset="0.951" stop-color="#ab337c"/><stop offset="0.965" stop-color="#b2357b"/><stop offset="0.974" stop-color="#b73779"/><stop offset="0.982" stop-color="#b73779"/><stop offset="0.991" stop-color="#b73779"/><stop offset="1.000" stop-color="#b73779"/></linearGradient><linearGradient id="g105" x1="0" y1="0" x2="0" y2="1"><stop offset="0.000" stop-color="#010106"/><stop offset="0.069" stop-color="#010106"/><stop offset="0.163" stop-color="#010106"/><stop offset="0.298" stop-color="#010106"/><stop offset="0.433" stop-color="#02020b"/><stop offset="0.567" stop-color="#050416"/><stop offset="0.702" stop-color="#140e36"/><stop offset="0.796" stop-color="#29115a"/><stop offset="0.864" stop-color="#451077"/><stop offset="0.904" stop-color="#54137d"/><stop offset="0.931" stop-color="#5a167e"/><stop offset="0.951" stop-color="#5f187f"/><stop offset="0.965" stop-color="#621980"/><stop offset="0.974" stop-color="#641a80"/><stop offset="0.982" stop-color="#641a80"/><stop offset="0.991" stop-color="#641a80"/><stop offset="1.000" stop-color="#8c2981"/></linearGradient><linearGradient id="g106" x1="0" y1="0" x2="0" y2="1"><stop offset="0.000" stop-color="#000004"/><stop offset="0.069" stop-color="#000004"/><stop offset="0.163" stop-color="#010005"/><stop offset="0.298" stop-color="#010106"/><stop offset="0.433" stop-color="#020109"/><stop offset="0.567" stop-color="#03030f"/><stop offset="0.702" stop-color="#100b2d"/><stop offset="0.796" stop-color="#21114e"/><stop offset="0.864" stop-color="#3b0f70"/><stop offset="0.904" stop-color="#471078"/><stop offset="0.931" stop-color="#51127c"/><stop offset="0.951" stop-color="#56147d"/><stop offset="0.965" stop-color="#5a167e"/><stop offset="0.974" stop-color="#5c167f"/><stop offset="0.982" stop-color="#5c167f"/><stop offset="0.991" stop-color="#5c167f"/><stop offset="1.000" stop-color="#782281"/></linearGradient><linearGradient id="g107" x1="0" y1="0" x2="0" y2="1"><stop offset="0.000" stop-color="#000004"/><stop offset="0.069" stop-color="#000004"/><stop offset="0.163" stop-color="#010005"/><stop offset="0.298" stop-color="#010106"/><stop offset="0.433" stop-color="#020109"/><stop offset="0.567" stop-color="#03030f"/><stop offset="0.702" stop-color="#100b2d"/><stop offset="0.796" stop-color="#21114e"/><stop offset="0.864" stop-color="#3b0f70"/><stop offset="0.904" stop-color="#471078"/><stop offset="0.931" stop-color="#51127c"/><stop offset="0.951" stop-color="#56147d"/><stop offset="0.965" stop-color="#5a167e"/><stop offset="0.974" stop-color="#5c167f"/><stop offset="0.982" stop-color="#5c167f"/><stop offset="0.991" stop-color="#5c167f"/><stop offset="1.000" stop-color="#782281"/></linearGradient><linearGradient id="g108" x1="0" y1="0" x2="0" y2="1"><stop offset="0.000" stop-color="#000004"/><stop offset="0.069" stop-color="#000004"/><stop offset="0.163" stop-color="#010005"/><stop offset="0.298" stop-color="#010106"/><stop offset="0.433" stop-color="#020109"/><stop offset="0.567" stop-color="#03030f"/><stop offset="0.702" stop-color="#100b2d"/><stop offset="0.796" stop-color="#21114e"/><stop offset="0.864" stop-color="#3b0f70"/><stop offset="0.904" stop-color="#471078"/><stop offset="0.931" stop-color="#51127c"/><stop offset="0.951" stop-color="#56147d"/><stop offset="0.965" stop-color="#5a167e"/><stop offset="0.974" stop-color="#5c167f"/><stop offset="0.982" stop-color="#5c167f"/><stop offset="0.991" stop-color="#5c167f"/><stop offset="1.000" stop-color="#782281"/></linearGradient><linearGradient id="g109" x1="0" y1="0" x2="0" y2="1"><stop offset="0.000" stop-color="#000004"/><stop offset="0.069" stop-color="#000004"/><stop offset="0.163" stop-color="#010005"/><stop offset="0.298" stop-color="#010106"/><stop offset="0.433" stop-color="#020109"/><stop offset="0.567" stop-color="#03030f"/><stop offset="0.702" stop-color="#0b0924"/><stop offset="0.796" stop-color="#19103f"/><stop offset="0.864" stop-color="#2d1161"/><stop offset="0.904" stop-color="#3b0f70"/><stop offset="0.931" stop-color="#440f76"/><stop offset="0.951" stop-color="#4a1079"/><stop offset="0.965" stop-color="#4e117b"/><stop offset="0.974" stop-color="#51127c"/><stop offset="0.982" stop-color="#51127c"/><stop offset="0.991" stop-color="#51127c"/><stop offset="1.000" stop-color="#641a80"/></linearGradient><linearGradient id="g110" x1="0" y1="0" x2="0" y2="1"><stop offset="0.000" stop-color="#802582"/><stop offset="0.069" stop-color="#832681"/><stop offset="0.163" stop-color="#862781"/><stop offset="0.298" stop-color="#8b2981"/><stop offset="0.433" stop-color="#8e2a81"/><stop offset="0.567" stop-color="#932b80"/><stop offset="0.702" stop-color="#992d80"/><stop offset="0.796" stop-color="#9c2e7f"/><stop offset="0.864" stop-color="#a3307e"/><stop offset="0.904" stop-color="#aa337d"/><stop offset="0.931" stop-color="#ae347b"/><stop offset="0.951" stop-color="#b2357b"/><stop offset="0.965" stop-color="#b5367a"/><stop offset="0.974" stop-color="#b5367a"/><stop offset="0.982" stop-color="#b5367a"/><stop offset="0.991" stop-color="#b5367a"/><stop offset="1.000" stop-color="#de4968"/></linearGradient><linearGradient id="g111" x1="0" y1="0" x2="0" y2="1"><stop offset="0.000" stop-color="#9c2e7f"/><stop offset="0.069" stop-color="#a02f7f"/><stop offset="0.163" stop-color="#a5317e"/><stop offset="0.298" stop-color="#ab337c"/><stop offset="0.433" stop-color="#b2357b"/><stop offset="0.567" stop-color="#b83779"/><stop offset="0.702" stop-color="#cf4070"/><stop offset="0.796" stop-color="#de4968"/><stop offset="0.864" stop-color="#ea5661"/><stop offset="0.904" stop-color="#f2645c"/><stop offset="0.931" stop-color="#f66e5c"/><stop offset="0.951" stop-color="#f8765c"/><stop offset="0.965" stop-color="#f9795d"/><stop offset="0.974" stop-color="#f9795d"/><stop offset="0.982" stop-color="#f9795d"/><stop offset="0.991" stop-color="#f9795d"/><stop offset="1.000" stop-color="#fe9f6d"/></linearGradient><linearGradient id="g112" x1="0" y1="0" x2="0" y2="1"><stop offset="0.000" stop-color="#701f81"/><stop offset="0.069" stop-color="#752181"/><stop offset="0.163" stop-color="#7c2382"/><stop offset="0.298" stop-color="#862781"/><stop offset="0.433" stop-color="#902a81"/><stop offset="0.567" stop-color="#992d80"/><stop offset="0.702" stop-color="#b0357b"/><stop offset="0.796" stop-color="#c03a76"/><stop offset="0.864" stop-color="#d9466b"/><stop offset="0.904" stop-color="#ef5d5e"/><stop offset="0.931" stop-color="#f7705c"/><stop offset="0.951" stop-color="#fa815f"/><stop offset="0.965" stop-color="#fb8761"/><stop offset="0.974" stop-color="#fb8761"/><stop offset="0.982" stop-color="#fb8761"/><stop offset="0.991" stop-color="#fb8761"/><stop offset="1.000" stop-color="#feb77e"/></linearGradient><linearGradient id="g113" x1="0" y1="0" x2="0" y2="1"><stop offset="0.000" stop-color="#02020b"/><stop offset="0.069" stop-color="#02020b"/><stop offset="0.163" stop-color="#02020b"/><stop offset="0.298" stop-color="#02020b"/><stop offset="0.433" stop-color="#050416"/><stop offset="0.567" stop-color="#0e0b2b"/><stop offset="0.702" stop-color="#29115a"/><stop offset="0.796" stop-color="#451077"/><stop offset="0.864" stop-color="#601880"/><stop offset="0.904" stop-color="#701f81"/><stop offset="0.931" stop-color="#9c2e7f"/><stop offset="0.951" stop-color="#bd3977"/><stop offset="0.965" stop-color="#d3436e"/><stop offset="0.974" stop-color="#de4968"/><stop offset="0.982" stop-color="#de4968"/><stop offset="0.991" stop-color="#de4968"/><stop offset="1.000" stop-color="#feb77e"/></linearGradient><linearGradient id="g114" x1="0" y1="0" x2="0" y2="1"><stop offset="0.000" stop-color="#010106"/><stop offset="0.069" stop-color="#010106"/><stop offset="0.163" stop-color="#010106"/><stop offset="0.298" stop-color="#010106"/><stop offset="0.433" stop-color="#02020b"/><stop offset="0.567" stop-color="#06051a"/><stop offset="0.702" stop-color="#150e38"/><stop offset="0.796" stop-color="#241253"/><stop offset="0.864" stop-color="#38106c"/><stop offset="0.904" stop-color="#440f76"/><stop offset="0.931" stop-color="#5d177f"/><stop offset="0.951" stop-color="#701f81"/><stop offset="0.965" stop-color="#7e2482"/><stop offset="0.974" stop-color="#842681"/><stop offset="0.982" stop-color="#842681"/><stop offset="0.991" stop-color="#842681"/><stop offset="1.000" stop-color="#fecf92"/></linearGradient><linearGradient id="g115" x1="0" y1="0" x2="0" y2="1"><stop offset="0.000" stop-color="#000004"/><stop offset="0.069" stop-color="#000004"/><stop offset="0.163" stop-color="#010005"/><stop offset="0.298" stop-color="#010106"/><stop offset="0.433" stop-color="#02020b"/><stop offset="0.567" stop-color="#050416"/><stop offset="0.702" stop-color="#120d31"/><stop offset="0.796" stop-color="#20114b"/><stop offset="0.864" stop-color="#311165"/><stop offset="0.904" stop-color="#3b0f70"/><stop offset="0.931" stop-color="#491078"/><stop offset="0.951" stop-color="#52137c"/><stop offset="0.965" stop-color="#59157e"/><stop offset="0.974" stop-color="#5c167f"/><stop offset="0.982" stop-color="#5c167f"/><stop offset="0.991" stop-color="#5c167f"/><stop offset="1.000" stop-color="#fecf92"/></linearGradient><linearGradient id="g116" x1="0" y1="0" x2="0" y2="1"><stop offset="0.000" stop-color="#000004"/><stop offset="0.069" stop-color="#000004"/><stop offset="0.163" stop-color="#010005"/><stop offset="0.298" stop-color="#010106"/><stop offset="0.433" stop-color="#02020b"/><stop offset="0.567" stop-color="#050416"/><stop offset="0.702" stop-color="#120d31"/><stop offset="0.796" stop-color="#20114b"/><stop offset="0.864" stop-color="#311165"/><stop offset="0.904" stop-color="#3b0f70"/><stop offset="0.931" stop-color="#491078"/><stop offset="0.951" stop-color="#52137c"/><stop offset="0.965" stop-color="#59157e"/><stop offset="0.974" stop-color="#5c167f"/><stop offset="0.982" stop-color="#5c167f"/><stop offset="0.991" stop-color="#5c167f"/><stop offset="1.000" stop-color="#fecf92"/></linearGradient><linearGradient id="g117" x1="0" y1="0" x2="0" y2="1"><stop offset="0.000" stop-color="#000004"/><stop offset="0.069" stop-color="#000004"/><stop offset="0.163" stop-color="#010005"/><stop offset="0.298" stop-color="#010106"/><stop offset="0.433" stop-color="#02020b"/><stop offset="0.567" stop-color="#050416"/><stop offset="0.702" stop-color="#120d31"/><stop offset="0.796" stop-color="#20114b"/><stop offset="0.864" stop-color="#311165"/><stop offset="0.904" stop-color="#3b0f70"/><stop offset="0.931" stop-color="#491078"/><stop offset="0.951" stop-color="#52137c"/><stop offset="0.965" stop-color="#59157e"/><stop offset="0.974" stop-color="#5c167f"/><stop offset="0.982" stop-color="#5c167f"/><stop offset="0.991" stop-color="#5c167f"/><stop offset="1.000" stop-color="#fecf92"/></linearGradient><linearGradient id="g118" x1="0" y1="0" x2="0" y2="1"><stop offset="0.000" stop-color="#000004"/><stop offset="0.069" stop-color="#000004"/><stop offset="0.163" stop-color="#010005"/><stop offset="0.298" stop-color="#010106"/><stop offset="0.433" stop-color="#02020b"/><stop offset="0.567" stop-color="#050416"/><stop offset="0.702" stop-color="#120d31"/><stop offset="0.796" stop-color="#20114b"/><stop offset="0.864" stop-color="#311165"/><stop offset="0.904" stop-color="#3b0f70"/><stop offset="0.931" stop-color="#491078"/><stop offset="0.951" stop-color="#52137c"/><stop offset="0.965" stop-color="#59157e"/><stop offset="0.974" stop-color="#5c167f"/><stop offset="0.982" stop-color="#5c167f"/><stop offset="0.991" stop-color="#5c167f"/><stop offset="1.000" stop-color="#fecf92"/></linearGradient><linearGradient id="g119" x1="0" y1="0" x2="0" y2="1"><stop offset="0.000" stop-color="#36106b"/><stop offset="0.069" stop-color="#3b0f70"/><stop offset="0.163" stop-color="#440f76"/><stop offset="0.298" stop-color="#4e117b"/><stop offset="0.433" stop-color="#57157e"/><stop offset="0.567" stop-color="#601880"/><stop offset="0.702" stop-color="#762181"/><stop offset="0.796" stop-color="#842681"/><stop offset="0.864" stop-color="#902a81"/><stop offset="0.904" stop-color="#982d80"/><stop offset="0.931" stop-color="#a02f7f"/><stop offset="0.951" stop-color="#a6317d"/><stop offset="0.965" stop-color="#ab337c"/><stop offset="0.974" stop-color="#ad347c"/><stop offset="0.982" stop-color="#ad347c"/><stop offset="0.991" stop-color="#ad347c"/><stop offset="1.000" stop-color="#fe9f6d"/></linearGradient><linearGradient id="g120" x1="0" y1="0" x2="0" y2="1"><stop offset="0.000" stop-color="#4c117a"/><stop offset="0.069" stop-color="#52137c"/><stop offset="0.163" stop-color="#5a167e"/><stop offset="0.298" stop-color="#651a80"/><stop offset="0.433" stop-color="#721f81"/><stop offset="0.567" stop-color="#7c2382"/><stop offset="0.702" stop-color="#9b2e7f"/><stop offset="0.796" stop-color="#b0357b"/><stop offset="0.864" stop-color="#c03a76"/><stop offset="0.904" stop-color="#c83e73"/><stop offset="0.931" stop-color="#cf4070"/><stop offset="0.951" stop-color="#d2426f"/><stop offset="0.965" stop-color="#d5446d"/><stop offset="0.974" stop-color="#d6456c"/><stop offset="0.982" stop-color="#d6456c"/><stop offset="0.991" stop-color="#d6456c"/><stop offset="1.000" stop-color="#fe9f6d"/></linearGradient><linearGradient id="g121" x1="0" y1="0" x2="0" y2="1"><stop offset="0.000" stop-color="#471078"/><stop offset="0.069" stop-color="#4a1079"/><stop offset="0.163" stop-color="#4f127b"/><stop offset="0.298" stop-color="#56147d"/><stop offset="0.433" stop-color="#5a167e"/><stop offset="0.567" stop-color="#601880"/><stop offset="0.702" stop-color="#7c2382"/><stop offset="0.796" stop-color="#8e2a81"/><stop offset="0.864" stop-color="#992d80"/><stop offset="0.904" stop-color="#a02f7f"/><stop offset="0.931" stop-color="#a02f7f"/><stop offset="0.951" stop-color="#a02f7f"/><stop offset="0.965" stop-color="#a1307e"/><stop offset="0.974" stop-color="#a1307e"/><stop offset="0.982" stop-color="#a1307e"/><stop offset="0.991" stop-color="#a1307e"/><stop offset="1.000" stop-color="#fe9f6d"/></linearGradient><linearGradient id="g122" x1="0" y1="0" x2="0" y2="1"><stop offset="0.000" stop-color="#2d1161"/><stop offset="0.069" stop-color="#311165"/><stop offset="0.163" stop-color="#36106b"/><stop offset="0.298" stop-color="#3d0f71"/><stop offset="0.433" stop-color="#440f76"/><stop offset="0.567" stop-color="#4a1079"/><stop offset="0.702" stop-color="#671b80"/><stop offset="0.796" stop-color="#792282"/><stop offset="0.864" stop-color="#842681"/><stop offset="0.904" stop-color="#8b2981"/><stop offset="0.931" stop-color="#8b2981"/><stop offset="0.951" stop-color="#8c2981"/><stop offset="0.965" stop-color="#8c2981"/><stop offset="0.974" stop-color="#8c2981"/><stop offset="0.982" stop-color="#8c2981"/><stop offset="0.991" stop-color="#8c2981"/><stop offset="1.000" stop-color="#fc8961"/></linearGradient><linearGradient id="g123" x1="0" y1="0" x2="0" y2="1"><stop offset="0.000" stop-color="#1a1042"/><stop offset="0.069" stop-color="#1e1149"/><stop offset="0.163" stop-color="#241253"/><stop offset="0.298" stop-color="#2d1161"/><stop offset="0.433" stop-color="#38106c"/><stop offset="0.567" stop-color="#420f75"/><stop offset="0.702" stop-color="#57157e"/><stop offset="0.796" stop-color="#671b80"/><stop offset="0.864" stop-color="#762181"/><stop offset="0.904" stop-color="#7e2482"/><stop offset="0.931" stop-color="#802582"/><stop offset="0.951" stop-color="#802582"/><stop offset="0.965" stop-color="#802582"/><stop offset="0.974" stop-color="#802582"/><stop offset="0.982" stop-color="#802582"/><stop offset="0.991" stop-color="#802582"/><stop offset="1.000" stop-color="#f7705c"/></linearGradient><linearGradient id="g124" x1="0" y1="0" x2="0" y2="1"><stop offset="0.000" stop-color="#0b0924"/><stop offset="0.069" stop-color="#100b2d"/><stop offset="0.163" stop-color="#150e38"/><stop offset="0.298" stop-color="#1e1149"/><stop offset="0.433" stop-color="#29115a"/><stop offset="0.567" stop-color="#341069"/><stop offset="0.702" stop-color="#4e117b"/><stop offset="0.796" stop-color="#5f187f"/><stop offset="0.864" stop-color="#6e1e81"/><stop offset="0.904" stop-color="#762181"/><stop offset="0.931" stop-color="#782281"/><stop offset="0.951" stop-color="#782281"/><stop offset="0.965" stop-color="#782281"/><stop offset="0.974" stop-color="#782281"/><stop offset="0.982" stop-color="#782281"/><stop offset="0.991" stop-color="#782281"/><stop offset="1.000" stop-color="#f7705c"/></linearGradient><linearGradient id="g125" x1="0" y1="0" x2="0" y2="1"><stop offset="0.000" stop-color="#0b0924"/><stop offset="0.069" stop-color="#0e0b2b"/><stop offset="0.163" stop-color="#130d34"/><stop offset="0.298" stop-color="#19103f"/><stop offset="0.433" stop-color="#20114b"/><stop offset="0.567" stop-color="#29115a"/><stop offset="0.702" stop-color="#400f74"/><stop offset="0.796" stop-color="#51127c"/><stop offset="0.864" stop-color="#5c167f"/><stop offset="0.904" stop-color="#641a80"/><stop offset="0.931" stop-color="#641a80"/><stop offset="0.951" stop-color="#641a80"/><stop offset="0.965" stop-color="#641a80"/><stop offset="0.974" stop-color="#641a80"/><stop offset="0.982" stop-color="#641a80"/><stop offset="0.991" stop-color="#641a80"/><stop offset="1.000" stop-color="#ed5a5f"/></linearGradient><linearGradient id="g126" x1="0" y1="0" x2="0" y2="1"><stop offset="0.000" stop-color="#02020b"/><stop offset="0.069" stop-color="#030312"/><stop offset="0.163" stop-color="#07061c"/><stop offset="0.298" stop-color="#0e0b2b"/><stop offset="0.433" stop-color="#160f3b"/><stop offset="0.567" stop-color="#21114e"/><stop offset="0.702" stop-color="#38106c"/><stop offset="0.796" stop-color="#491078"/><stop offset="0.864" stop-color="#54137d"/><stop offset="0.904" stop-color="#5a167e"/><stop offset="0.931" stop-color="#5c167f"/><stop offset="0.951" stop-color="#5c167f"/><stop offset="0.965" stop-color="#5c167f"/><stop offset="0.974" stop-color="#5c167f"/><stop offset="0.982" stop-color="#5c167f"/><stop offset="0.991" stop-color="#5c167f"/><stop offset="1.000" stop-color="#de4968"/></linearGradient><linearGradient id="g127" x1="0" y1="0" x2="0" y2="1"><stop offset="0.000" stop-color="#000004"/><stop offset="0.069" stop-color="#000004"/><stop offset="0.163" stop-color="#010108"/><stop offset="0.298" stop-color="#03030f"/><stop offset="0.433" stop-color="#06051a"/><stop offset="0.567" stop-color="#0b0924"/><stop offset="0.702" stop-color="#130d34"/><stop offset="0.796" stop-color="#19103f"/><stop offset="0.864" stop-color="#3f0f72"/><stop offset="0.904" stop-color="#57157e"/><stop offset="0.931" stop-color="#57157e"/><stop offset="0.951" stop-color="#57157e"/><stop offset="0.965" stop-color="#57157e"/><stop offset="0.974" stop-color="#57157e"/><stop offset="0.982" stop-color="#57157e"/><stop offset="0.991" stop-color="#59157e"/><stop offset="1.000" stop-color="#de4968"/></linearGradient><linearGradient id="g128" x1="0" y1="0" x2="0" y2="1"><stop offset="0.000" stop-color="#8c2981"/><stop offset="0.069" stop-color="#8b2981"/><stop offset="0.163" stop-color="#892881"/><stop offset="0.298" stop-color="#882781"/><stop offset="0.433" stop-color="#862781"/><stop offset="0.567" stop-color="#842681"/><stop offset="0.702" stop-color="#7c2382"/><stop offset="0.796" stop-color="#782281"/><stop offset="0.864" stop-color="#782281"/><stop offset="0.904" stop-color="#782281"/><stop offset="0.931" stop-color="#802582"/><stop offset="0.951" stop-color="#862781"/><stop offset="0.965" stop-color="#8b2981"/><stop offset="0.974" stop-color="#8c2981"/><stop offset="0.982" stop-color="#8c2981"/><stop offset="0.991" stop-color="#8c2981"/><stop offset="1.000" stop-color="#de4968"/></linearGradient><linearGradient id="g129" x1="0" y1="0" x2="0" y2="1"><stop offset="0.000" stop-color="#ca3e72"/><stop offset="0.069" stop-color="#cc3f71"/><stop offset="0.163" stop-color="#cf4070"/><stop offset="0.298" stop-color="#d2426f"/><stop offset="0.433" stop-color="#d3436e"/><stop offset="0.567" stop-color="#d6456c"/><stop offset="0.702" stop-color="#de4968"/><stop offset="0.796" stop-color="#e24d66"/><stop offset="0.864" stop-color="#ea5661"/><stop offset="0.904" stop-color="#f2645c"/><stop offset="0.931" stop-color="#f66e5c"/><stop offset="0.951" stop-color="#f8765c"/><stop offset="0.965" stop-color="#f9795d"/><stop offset="0.974" stop-color="#f9795d"/><stop offset="0.982" stop-color="#f9795d"/><stop offset="0.991" stop-color="#f9795d"/><stop offset="1.000" stop-color="#fc8961"/></linearGradient><linearGradient id="g130" x1="0" y1="0" x2="0" y2="1"><stop offset="0.000" stop-color="#c23b75"/><stop offset="0.069" stop-color="#c53c74"/><stop offset="0.163" stop-color="#c83e73"/><stop offset="0.298" stop-color="#cd4071"/><stop offset="0.433" stop-color="#d2426f"/><stop offset="0.567" stop-color="#d6456c"/><stop offset="0.702" stop-color="#e55064"/><stop offset="0.796" stop-color="#ee5b5e"/><stop offset="0.864" stop-color="#f7705c"/><stop offset="0.904" stop-color="#fc8961"/><stop offset="0.931" stop-color="#fd9a6a"/><stop offset="0.951" stop-color="#fea571"/><stop offset="0.965" stop-color="#fea973"/><stop offset="0.974" stop-color="#fea973"/><stop offset="0.982" stop-color="#fea973"/><stop offset="0.991" stop-color="#fea973"/><stop offset="1.000" stop-color="#feb77e"/></linearGradient><linearGradient id="g131" x1="0" y1="0" x2="0" y2="1"><stop offset="0.000" stop-color="#942c80"/><stop offset="0.069" stop-color="#982d80"/><stop offset="0.163" stop-color="#9b2e7f"/><stop offset="0.298" stop-color="#a1307e"/><stop offset="0.433" stop-color="#a8327d"/><stop offset="0.567" stop-color="#ad347c"/><stop offset="0.702" stop-color="#c73d73"/><stop offset="0.796" stop-color="#d6456c"/><stop offset="0.864" stop-color="#eb5760"/><stop offset="0.904" stop-color="#f8765c"/><stop offset="0.931" stop-color="#fc8a62"/><stop offset="0.951" stop-color="#fd9a6a"/><stop offset="0.965" stop-color="#fe9f6d"/><stop offset="0.974" stop-color="#fe9f6d"/><stop offset="0.982" stop-color="#fe9f6d"/><stop offset="0.991" stop-color="#fe9f6d"/><stop offset="1.000" stop-color="#fecf92"/></linearGradient><linearGradient id="g132" x1="0" y1="0" x2="0" y2="1"><stop offset="0.000" stop-color="#6b1d81"/><stop offset="0.069" stop-color="#701f81"/><stop offset="0.163" stop-color="#752181"/><stop offset="0.298" stop-color="#7c2382"/><stop offset="0.433" stop-color="#842681"/><stop offset="0.567" stop-color="#8c2981"/><stop offset="0.702" stop-color="#a1307e"/><stop offset="0.796" stop-color="#b0357b"/><stop offset="0.864" stop-color="#c43c75"/><stop offset="0.904" stop-color="#d8456c"/><stop offset="0.931" stop-color="#e34e65"/><stop offset="0.951" stop-color="#eb5760"/><stop offset="0.965" stop-color="#ed5a5f"/><stop offset="0.974" stop-color="#ed5a5f"/><stop offset="0.982" stop-color="#ed5a5f"/><stop offset="0.991" stop-color="#ed5a5f"/><stop offset="1.000" stop-color="#fecf92"/></linearGradient><linearGradient id="g133" x1="0" y1="0" x2="0" y2="1"><stop offset="0.000" stop-color="#59157e"/><stop offset="0.069" stop-color="#5c167f"/><stop offset="0.163" stop-color="#621980"/><stop offset="0.298" stop-color="#6a1c81"/><stop offset="0.433" stop-color="#732081"/><stop offset="0.567" stop-color="#7b2382"/><stop offset="0.702" stop-color="#8c2981"/><stop offset="0.796" stop-color="#992d80"/><stop offset="0.864" stop-color="#a8327d"/><stop offset="0.904" stop-color="#b73779"/><stop offset="0.931" stop-color="#c03a76"/><stop offset="0.951" stop-color="#c83e73"/><stop offset="0.965" stop-color="#ca3e72"/><stop offset="0.974" stop-color="#ca3e72"/><stop offset="0.982" stop-color="#ca3e72"/><stop offset="0.991" stop-color="#ca3e72"/><stop offset="1.000" stop-color="#fecf92"/></linearGradient><linearGradient id="g134" x1="0" y1="0" x2="0" y2="1"><stop offset="0.000" stop-color="#601880"/><stop offset="0.069" stop-color="#641a80"/><stop offset="0.163" stop-color="#681c81"/><stop offset="0.298" stop-color="#701f81"/><stop offset="0.433" stop-color="#782281"/><stop offset="0.567" stop-color="#7e2482"/><stop offset="0.702" stop-color="#8e2a81"/><stop offset="0.796" stop-color="#992d80"/><stop offset="0.864" stop-color="#a6317d"/><stop offset="0.904" stop-color="#b2357b"/><stop offset="0.931" stop-color="#ba3878"/><stop offset="0.951" stop-color="#c03a76"/><stop offset="0.965" stop-color="#c23b75"/><stop offset="0.974" stop-color="#c23b75"/><stop offset="0.982" stop-color="#c23b75"/><stop offset="0.991" stop-color="#c23b75"/><stop offset="1.000" stop-color="#fecf92"/></linearGradient><linearGradient id="g135" x1="0" y1="0" x2="0" y2="1"><stop offset="0.000" stop-color="#621980"/><stop offset="0.069" stop-color="#651a80"/><stop offset="0.163" stop-color="#6a1c81"/><stop offset="0.298" stop-color="#721f81"/><stop offset="0.433" stop-color="#782281"/><stop offset="0.567" stop-color="#802582"/><stop offset="0.702" stop-color="#902a81"/><stop offset="0.796" stop-color="#9b2e7f"/><stop offset="0.864" stop-color="#a6317d"/><stop offset="0.904" stop-color="#b2357b"/><stop offset="0.931" stop-color="#ba3878"/><stop offset="0.951" stop-color="#c03a76"/><stop offset="0.965" stop-color="#c23b75"/><stop offset="0.974" stop-color="#c23b75"/><stop offset="0.982" stop-color="#c23b75"/><stop offset="0.991" stop-color="#c23b75"/><stop offset="1.000" stop-color="#fecf92"/></linearGradient><linearGradient id="g136" x1="0" y1="0" x2="0" y2="1"><stop offset="0.000" stop-color="#641a80"/><stop offset="0.069" stop-color="#671b80"/><stop offset="0.163" stop-color="#6b1d81"/><stop offset="0.298" stop-color="#721f81"/><stop offset="0.433" stop-color="#792282"/><stop offset="0.567" stop-color="#802582"/><stop offset="0.702" stop-color="#902a81"/><stop offset="0.796" stop-color="#9b2e7f"/><stop offset="0.864" stop-color="#a6317d"/><stop offset="0.904" stop-color="#b2357b"/><stop offset="0.931" stop-color="#ba3878"/><stop offset="0.951" stop-color="#c03a76"/><stop offset="0.965" stop-color="#c23b75"/><stop offset="0.974" stop-color="#c23b75"/><stop offset="0.982" stop-color="#c23b75"/><stop offset="0.991" stop-color="#c23b75"/><stop offset="1.000" stop-color="#fecf92"/></linearGradient><linearGradient id="g137" x1="0" y1="0" x2="0" y2="1"><stop offset="0.000" stop-color="#651a80"/><stop offset="0.069" stop-color="#681c81"/><stop offset="0.163" stop-color="#6d1d81"/><stop offset="0.298" stop-color="#732081"/><stop offset="0.433" stop-color="#792282"/><stop offset="0.567" stop-color="#812581"/><stop offset="0.702" stop-color="#902a81"/><stop offset="0.796" stop-color="#9b2e7f"/><stop offset="0.864" stop-color="#a6317d"/><stop offset="0.904" stop-color="#b2357b"/><stop offset="0.931" stop-color="#ba3878"/><stop offset="0.951" stop-color="#c03a76"/><stop offset="0.965" stop-color="#c23b75"/><stop offset="0.974" stop-color="#c23b75"/><stop offset="0.982" stop-color="#c23b75"/><stop offset="0.991" stop-color="#c23b75"/><stop offset="1.000" stop-color="#fecf92"/></linearGradient><linearGradient id="g138" x1="0" y1="0" x2="0" y2="1"><stop offset="0.000" stop-color="#671b80"/><stop offset="0.069" stop-color="#6a1c81"/><stop offset="0.163" stop-color="#6e1e81"/><stop offset="0.298" stop-color="#752181"/><stop offset="0.433" stop-color="#7b2382"/><stop offset="0.567" stop-color="#812581"/><stop offset="0.702" stop-color="#902a81"/><stop offset="0.796" stop-color="#9b2e7f"/><stop offset="0.864" stop-color="#a6317d"/><stop offset="0.904" stop-color="#b2357b"/><stop offset="0.931" stop-color="#ba3878"/><stop offset="0.951" stop-color="#c03a76"/><stop offset="0.965" stop-color="#c23b75"/><stop offset="0.974" stop-color="#c23b75"/><stop offset="0.982" stop-color="#c23b75"/><stop offset="0.991" stop-color="#c23b75"/><stop offset="1.000" stop-color="#fecf92"/></linearGradient><linearGradient id="g139" x1="0" y1="0" x2="0" y2="1"><stop offset="0.000" stop-color="#681c81"/><stop offset="0.069" stop-color="#6b1d81"/><stop offset="0.163" stop-color="#6e1e81"/><stop offset="0.298" stop-color="#752181"/><stop offset="0.433" stop-color="#7b2382"/><stop offset="0.567" stop-color="#812581"/><stop offset="0.702" stop-color="#902a81"/><stop offset="0.796" stop-color="#9b2e7f"/><stop offset="0.864" stop-color="#a6317d"/><stop offset="0.904" stop-color="#b2357b"/><stop offset="0.931" stop-color="#ba3878"/><stop offset="0.951" stop-color="#c03a76"/><stop offset="0.965" stop-color="#c23b75"/><stop offset="0.974" stop-color="#c23b75"/><stop offset="0.982" stop-color="#c23b75"/><stop offset="0.991" stop-color="#c23b75"/><stop offset="1.000" stop-color="#fecf92"/></linearGradient><linearGradient id="g140" x1="0" y1="0" x2="0" y2="1"><stop offset="0.000" stop-color="#6a1c81"/><stop offset="0.069" stop-color="#6d1d81"/><stop offset="0.163" stop-color="#701f81"/><stop offset="0.298" stop-color="#762181"/><stop offset="0.433" stop-color="#7c2382"/><stop offset="0.567" stop-color="#832681"/><stop offset="0.702" stop-color="#912b81"/><stop offset="0.796" stop-color="#9b2e7f"/><stop offset="0.864" stop-color="#a6317d"/><stop offset="0.904" stop-color="#b2357b"/><stop offset="0.931" stop-color="#ba3878"/><stop offset="0.951" stop-color="#c03a76"/><stop offset="0.965" stop-color="#c23b75"/><stop offset="0.974" stop-color="#c23b75"/><stop offset="0.982" stop-color="#c23b75"/><stop offset="0.991" stop-color="#c23b75"/><stop offset="1.000" stop-color="#fecf92"/></linearGradient><linearGradient id="g141" x1="0" y1="0" x2="0" y2="1"><stop offset="0.000" stop-color="#6b1d81"/><stop offset="0.069" stop-color="#6e1e81"/><stop offset="0.163" stop-color="#721f81"/><stop offset="0.298" stop-color="#782281"/><stop offset="0.433" stop-color="#7e2482"/><stop offset="0.567" stop-color="#832681"/><stop offset="0.702" stop-color="#912b81"/><stop offset="0.796" stop-color="#9b2e7f"/><stop offset="0.864" stop-color="#a6317d"/><stop offset="0.904" stop-color="#b2357b"/><stop offset="0.931" stop-color="#ba3878"/><stop offset="0.951" stop-color="#c03a76"/><stop offset="0.965" stop-color="#c23b75"/><stop offset="0.974" stop-color="#c23b75"/><stop offset="0.982" stop-color="#c23b75"/><stop offset="0.991" stop-color="#c23b75"/><stop offset="1.000" stop-color="#fecf92"/></linearGradient><linearGradient id="g142" x1="0" y1="0" x2="0" y2="1"><stop offset="0.000" stop-color="#6d1d81"/><stop offset="0.069" stop-color="#6e1e81"/><stop offset="0.163" stop-color="#732081"/><stop offset="0.298" stop-color="#782281"/><stop offset="0.433" stop-color="#7e2482"/><stop offset="0.567" stop-color="#842681"/><stop offset="0.702" stop-color="#912b81"/><stop offset="0.796" stop-color="#9b2e7f"/><stop offset="0.864" stop-color="#a6317d"/><stop offset="0.904" stop-color="#b2357b"/><stop offset="0.931" stop-color="#ba3878"/><stop offset="0.951" stop-color="#c03a76"/><stop offset="0.965" stop-color="#c23b75"/><stop offset="0.974" stop-color="#c23b75"/><stop offset="0.982" stop-color="#c23b75"/><stop offset="0.991" stop-color="#c23b75"/><stop offset="1.000" stop-color="#fecf92"/></linearGradient><linearGradient id="g143" x1="0" y1="0" x2="0" y2="1"><stop offset="0.000" stop-color="#6e1e81"/><stop offset="0.069" stop-color="#701f81"/><stop offset="0.163" stop-color="#752181"/><stop offset="0.298" stop-color="#792282"/><stop offset="0.433" stop-color="#802582"/><stop offset="0.567" stop-color="#842681"/><stop offset="0.702" stop-color="#912b81"/><stop offset="0.796" stop-color="#9b2e7f"/><stop offset="0.864" stop-color="#a6317d"/><stop offset="0.904" stop-color="#b2357b"/><stop offset="0.931" stop-color="#ba3878"/><stop offset="0.951" stop-color="#c03a76"/><stop offset="0.965" stop-color="#c23b75"/><stop offset="0.974" stop-color="#c23b75"/><stop offset="0.982" stop-color="#c23b75"/><stop offset="0.991" stop-color="#c23b75"/><stop offset="1.000" stop-color="#fecf92"/></linearGradient><linearGradient id="g144" x1="0" y1="0" x2="0" y2="1"><stop offset="0.000" stop-color="#701f81"/><stop offset="0.069" stop-color="#721f81"/><stop offset="0.163" stop-color="#762181"/><stop offset="0.298" stop-color="#7b2382"/><stop offset="0.433" stop-color="#802582"/><stop offset="0.567" stop-color="#842681"/><stop offset="0.702" stop-color="#912b81"/><stop offset="0.796" stop-color="#9b2e7f"/><stop offset="0.864" stop-color="#a6317d"/><stop offset="0.904" stop-color="#b2357b"/><stop offset="0.931" stop-color="#ba3878"/><stop offset="0.951" stop-color="#c03a76"/><stop offset="0.965" stop-color="#c23b75"/><stop offset="0.974" stop-color="#c23b75"/><stop offset="0.982" stop-color="#c23b75"/><stop offset="0.991" stop-color="#c23b75"/><stop offset="1.000" stop-color="#fecf92"/></linearGradient><linearGradient id="g145" x1="0" y1="0" x2="0" y2="1"><stop offset="0.000" stop-color="#721f81"/><stop offset="0.069" stop-color="#732081"/><stop offset="0.163" stop-color="#762181"/><stop offset="0.298" stop-color="#7c2382"/><stop offset="0.433" stop-color="#812581"/><stop offset="0.567" stop-color="#862781"/><stop offset="0.702" stop-color="#932b80"/><stop offset="0.796" stop-color="#9b2e7f"/><stop offset="0.864" stop-color="#a6317d"/><stop offset="0.904" stop-color="#b2357b"/><stop offset="0.931" stop-color="#ba3878"/><stop offset="0.951" stop-color="#c03a76"/><stop offset="0.965" stop-color="#c23b75"/><stop offset="0.974" stop-color="#c23b75"/><stop offset="0.982" stop-color="#c23b75"/><stop offset="0.991" stop-color="#c23b75"/><stop offset="1.000" stop-color="#fecf92"/></linearGradient><linearGradient id="g146" x1="0" y1="0" x2="0" y2="1"><stop offset="0.000" stop-color="#732081"/><stop offset="0.069" stop-color="#752181"/><stop offset="0.163" stop-color="#782281"/><stop offset="0.298" stop-color="#7c2382"/><stop offset="0.433" stop-color="#812581"/><stop offset="0.567" stop-color="#862781"/><stop offset="0.702" stop-color="#932b80"/><stop offset="0.796" stop-color="#9b2e7f"/><stop offset="0.864" stop-color="#a6317d"/><stop offset="0.904" stop-color="#b2357b"/><stop offset="0.931" stop-color="#ba3878"/><stop offset="0.951" stop-color="#c03a76"/><stop offset="0.965" stop-color="#c23b75"/><stop offset="0.974" stop-color="#c23b75"/><stop offset="0.982" stop-color="#c23b75"/><stop offset="0.991" stop-color="#c23b75"/><stop offset="1.000" stop-color="#fecf92"/></linearGradient><linearGradient id="g147" x1="0" y1="0" x2="0" y2="1"><stop offset="0.000" stop-color="#752181"/><stop offset="0.069" stop-color="#762181"/><stop offset="0.163" stop-color="#792282"/><stop offset="0.298" stop-color="#7e2482"/><stop offset="0.433" stop-color="#832681"/><stop offset="0.567" stop-color="#882781"/><stop offset="0.702" stop-color="#932b80"/><stop offset="0.796" stop-color="#9b2e7f"/><stop offset="0.864" stop-color="#a6317d"/><stop offset="0.904" stop-color="#b2357b"/><stop offset="0.931" stop-color="#ba3878"/><stop offset="0.951" stop-color="#c03a76"/><stop offset="0.965" stop-color="#c23b75"/><stop offset="0.974" stop-color="#c23b75"/><stop offset="0.982" stop-color="#c23b75"/><stop offset="0.991" stop-color="#c23b75"/><stop offset="1.000" stop-color="#fecf92"/></linearGradient></defs><rect x="417" y="29" width="17" height="742" fill="url(#g0)"/><rect x="434" y="29" width="16" height="742" fill="url(#g1)"/><rect x="450" y="29" width="16" height="742" fill="url(#g2)"/><rect x="466" y="29" width="16" height="742" fill="url(#g3)"/><rect x="482" y="29" width="16" height="742" fill="url(#g4)"/><rect x="498" y="29" width="17" height="742" fill="url(#g5)"/><rect x="515" y="29" width="16" height="742" fill="url(#g6)"/><rect x="531" y="29" width="16" height="742" fill="url(#g7)"/><rect x="547" y="29" width="16" height="742" fill="url(#g8)"/><rect x="563" y="29" width="17" height="742" fill="url(#g9)"/><rect x="580" y="29" width="16" height="742" fill="url(#g10)"/><rect x="596" y="29" width="16" height="742" fill="url(#g11)"/><rect x="612" y="29" width="16" height="742" fill="url(#g12)"/><rect x="628" y="29" width="16" height="742" fill="url(#g13)"/><rect x="644" y="29" width="17" height="742" fill="url(#g14)"/><rect x="661" y="29" width="16" height="742" fill="url(#g15)"/><rect x="677" y="29" width="16" height="742" fill="url(#g16)"/><rect x="693" y="29" width="16" height="742" fill="url(#g17)"/><rect x="709" y="29" width="16" height="742" fill="url(#g18)"/><rect x="725" y="29" width="17" height="742" fill="url(#g19)"/><rect x="742" y="29" width="16" height="742" fill="url(#g20)"/><rect x="758" y="29" width="16" height="742" fill="url(#g21)"/><rect x="774" y="29" width="16" height="742" fill="url(#g22)"/><rect x="790" y="29" width="16" height="742" fill="url(#g23)"/><rect x="806" y="29" width="17" height="742" fill="url(#g24)"/><rect x="823" y="29" width="16" height="742" fill="url(#g25)"/><rect x="839" y="29" width="16" height="742" fill="url(#g26)"/><rect x="855" y="29" width="16" height="742" fill="url(#g27)"/><rect x="871" y="29" width="16" height="742" fill="url(#g28)"/><rect x="887" y="29" width="17" height="742" fill="url(#g29)"/><rect x="904" y="29" width="16" height="742" fill="url(#g30)"/><rect x="920" y="29" width="16" height="742" fill="url(#g31)"/><rect x="936" y="29" width="16" height="742" fill="url(#g32)"/><rect x="952" y="29" width="17" height="742" fill="url(#g33)"/><rect x="969" y="29" width="16" height="742" fill="url(#g34)"/><rect x="985" y="29" width="16" height="742" fill="url(#g35)"/><rect x="1001" y="29" width="16" height="742" fill="url(#g36)"/><rect x="1017" y="29" width="16" height="742" fill="url(#g37)"/><rect x="1033" y="29" width="17" height="742" fill="url(#g38)"/><rect x="1050" y="29" width="16" height="742" fill="url(#g39)"/><rect x="1066" y="29" width="16" height="742" fill="url(#g40)"/><rect x="1082" y="29" width="16" height="742" fill="url(#g41)"/><rect x="1098" y="29" width="16" height="742" fill="url(#g42)"/><rect x="1114" y="29" width="17" height="742" fill="url(#g43)"/><rect x="1131" y="29" width="16" height="742" fill="url(#g44)"/><rect x="1147" y="29" width="16" height="742" fill="url(#g45)"/><rect x="1163" y="29" width="16" height="742" fill="url(#g46)"/><rect x="1179" y="29" width="16" height="742" fill="url(#g47)"/><rect x="1195" y="29" width="17" height="742" fill="url(#g48)"/><rect x="1212" y="29" width="16" height="742" fill="url(#g49)"/><rect x="1228" y="29" width="16" height="742" fill="url(#g50)"/><rect x="1244" y="29" width="16" height="742" fill="url(#g51)"/><rect x="1260" y="29" width="17" height="742" fill="url(#g52)"/><rect x="1277" y="29" width="16" height="742" fill="url(#g53)"/><rect x="1293" y="29" width="16" height="742" fill="url(#g54)"/><rect x="1309" y="29" width="16" height="742" fill="url(#g55)"/><rect x="1325" y="29" width="16" height="742" fill="url(#g56)"/><rect x="1341" y="29" width="17" height="742" fill="url(#g57)"/><rect x="1358" y="29" width="16" height="742" fill="url(#g58)"/><rect x="1374" y="29" width="16" height="742" fill="url(#g59)"/><rect x="1390" y="29" width="16" height="742" fill="url(#g60)"/><rect x="1406" y="29" width="16" height="742" fill="url(#g61)"/><rect x="1422" y="29" width="17" height="742" fill="url(#g62)"/><rect x="1439" y="29" width="16" height="742" fill="url(#g63)"/><rect x="1455" y="29" width="16" height="742" fill="url(#g64)"/><rect x="1471" y="29" width="16" height="742" fill="url(#g65)"/><rect x="1487" y="29" width="16" height="742" fill="url(#g66)"/><rect x="1503" y="29" width="17" height="742" fill="url(#g67)"/><rect x="1520" y="29" width="16" height="742" fill="url(#g68)"/><rect x="1536" y="29" width="16" height="742" fill="url(#g69)"/><rect x="1552" y="29" width="16" height="742" fill="url(#g70)"/><rect x="1568" y="29" width="17" height="742" fill="url(#g71)"/><rect x="1585" y="29" width="16" height="742" fill="url(#g72)"/><rect x="1601" y="29" width="16" height="742" fill="url(#g73)"/><rect x="1617" y="29" width="16" height="742" fill="url(#g74)"/><rect x="1633" y="29" width="16" height="742" fill="url(#g75)"/><rect x="1649" y="29" width="17" height="742" fill="url(#g76)"/><rect x="1666" y="29" width="16" height="742" fill="url(#g77)"/><rect x="1682" y="29" width="16" height="742" fill="url(#g78)"/><rect x="1698" y="29" width="16" height="742" fill="url(#g79)"/><rect x="1714" y="29" width="16" height="742" fill="url(#g80)"/><rect x="1730" y="29" width="17" height="742" fill="url(#g81)"/><rect x="1747" y="29" width="16" height="742" fill="url(#g82)"/><rect x="1763" y="29" width="16" height="742" fill="url(#g83)"/><rect x="1779" y="29" width="16" height="742" fill="url(#g84)"/><rect x="1795" y="29" width="16" height="742" fill="url(#g85)"/><rect x="1811" y="29" width="17" height="742" fill="url(#g86)"/><rect x="1828" y="29" width="16" height="742" fill="url(#g87)"/><rect x="1844" y="29" width="16" height="742" fill="url(#g88)"/><rect x="1860" y="29" width="16" height="742" fill="url(#g89)"/><rect x="1876" y="29" width="17" height="742" fill="url(#g90)"/><rect x="1893" y="29" width="16" height="742" fill="url(#g91)"/><rect x="1909" y="29" width="16" height="742" fill="url(#g92)"/><rect x="1925" y="29" width="16" height="742" fill="url(#g93)"/><rect x="1941" y="29" width="16" height="742" fill="url(#g94)"/><rect x="1957" y="29" width="17" height="742" fill="url(#g95)"/><rect x="1974" y="29" width="16" height="742" fill="url(#g96)"/><rect x="1990" y="29" width="16" height="742" fill="url(#g97)"/><rect x="2006" y="29" width="16" height="742" fill="url(#g98)"/><rect x="2022" y="29" width="16" height="742" fill="url(#g99)"/><rect x="2038" y="29" width="17" height="742" fill="url(#g100)"/><rect x="2055" y="29" width="16" height="742" fill="url(#g101)"/><rect x="2071" y="29" width="16" height="742" fill="url(#g102)"/><rect x="2087" y="29" width="16" height="742" fill="url(#g103)"/><rect x="2103" y="29" width="16" height="742" fill="url(#g104)"/><rect x="2119" y="29" width="17" height="742" fill="url(#g105)"/><rect x="2136" y="29" width="16" height="742" fill="url(#g106)"/><rect x="2152" y="29" width="16" height="742" fill="url(#g107)"/><rect x="2168" y="29" width="16" height="742" fill="url(#g108)"/><rect x="2184" y="29" width="16" height="742" fill="url(#g109)"/><rect x="2200" y="29" width="17" height="742" fill="url(#g110)"/><rect x="2217" y="29" width="16" height="742" fill="url(#g111)"/><rect x="2233" y="29" width="16" height="742" fill="url(#g112)"/><rect x="2249" y="29" width="16" height="742" fill="url(#g113)"/><rect x="2265" y="29" width="17" height="742" fill="url(#g114)"/><rect x="2282" y="29" width="16" height="742" fill="url(#g115)"/><rect x="2298" y="29" width="16" height="742" fill="url(#g116)"/><rect x="2314" y="29" width="16" height="742" fill="url(#g117)"/><rect x="2330" y="29" width="16" height="742" fill="url(#g118)"/><rect x="2346" y="29" width="17" height="742" fill="url(#g119)"/><rect x="2363" y="29" width="16" height="742" fill="url(#g120)"/><rect x="2379" y="29" width="16" height="742" fill="url(#g121)"/><rect x="2395" y="29" width="16" height="742" fill="url(#g122)"/><rect x="2411" y="29" width="16" height="742" fill="url(#g123)"/><rect x="2427" y="29" width="17" height="742" fill="url(#g124)"/><rect x="2444" y="29" width="16" height="742" fill="url(#g125)"/><rect x="2460" y="29" width="16" height="742" fill="url(#g126)"/><rect x="2476" y="29" width="16" height="742" fill="url(#g127)"/><rect x="2492" y="29" width="16" height="742" fill="url(#g128)"/><rect x="2508" y="29" width="17" height="742" fill="url(#g129)"/><rect x="2525" y="29" width="16" height="742" fill="url(#g130)"/><rect x="2541" y="29" width="16" height="742" fill="url(#g131)"/><rect x="2557" y="29" width="16" height="742" fill="url(#g132)"/><rect x="2573" y="29" width="17" height="742" fill="url(#g133)"/><rect x="2590" y="29" width="16" height="742" fill="url(#g134)"/><rect x="2606" y="29" width="16" height="742" fill="url(#g135)"/><rect x="2622" y="29" width="16" height="742" fill="url(#g136)"/><rect x="2638" y="29" width="16" height="742" fill="url(#g137)"/><rect x="2654" y="29" width="17" height="742" fill="url(#g138)"/><rect x="2671" y="29" width="16" height="742" fill="url(#g139)"/><rect x="2687" y="29" width="16" height="742" fill="url(#g140)"/><rect x="2703" y="29" width="16" height="742" fill="url(#g141)"/><rect x="2719" y="29" width="16" height="742" fill="url(#g142)"/><rect x="2735" y="29" width="17" height="742" fill="url(#g143)"/><rect x="2752" y="29" width="16" height="742" fill="url(#g144)"/><rect x="2768" y="29" width="16" height="742" fill="url(#g145)"/><rect x="2784" y="29" width="16" height="742" fill="url(#g146)"/><rect x="2800" y="29" width="16" height="742" fill="url(#g147)"/></svg>
<canvas id="sp" width="2846" height="1046"></canvas>
<svg id="ax" width="2846" height="1046">
<rect x="417.3" y="29" width="2399" height="745" fill="none" stroke="#000" stroke-width="3.4"/>
<g stroke="#000" stroke-width="3.33">
<line x1="402.7" y1="774" x2="417.3" y2="774"/>
<line x1="402.7" y1="436.5" x2="417.3" y2="436.5"/>
<line x1="402.7" y1="99" x2="417.3" y2="99"/>
<line x1="425.5" y1="774" x2="425.5" y2="788.6"/>
<line x1="1123.6" y1="774" x2="1123.6" y2="788.6"/>
<line x1="1821.7" y1="774" x2="1821.7" y2="788.6"/>
<line x1="2519.8" y1="774" x2="2519.8" y2="788.6"/>
</g>
<g stroke="#fff" stroke-width="0.9"><text font-size="100" transform="translate(149.89,134.52) scale(0.9517,1.0412)">20000</text>
<text font-size="100" transform="translate(150.25,472.42) scale(0.9502,1.0412)">10000</text>
<text font-size="100" transform="translate(340.38,809.53) scale(0.9810,1.0338)">0</text>
<text font-size="100" transform="translate(401.07,875.63) scale(0.9833,1.0338)">0</text>
<text font-size="100" transform="translate(1062.54,875.62) scale(0.9641,1.0412)">0.5</text>
<text font-size="100" transform="translate(1799.03,875.80) scale(0.8857,1.0439)">1</text>
<text font-size="100" transform="translate(2459.31,876.64) scale(0.9661,1.0567)">1.5</text>
<text font-size="100" transform="translate(1437.40,989.70) scale(1.0520,1.0831)">Time</text>
<text font-size="100" transform="translate(1691.00,991.59) scale(0.9505,1.1622)">(s)</text>
<text font-size="100" transform="translate(108.00,720.99) rotate(-90) scale(0.9964,1.0892)">Frequency</text>
<text font-size="100" transform="translate(109.73,261.83) rotate(-90) scale(0.9577,1.1556)">(Hz)</text></g>
</svg>
<script>
(function(){
var L="00000402010903031206051a0a08220e0b2b130d34180f3d1d114722115029115a2f116336106b3d0f71440f764a107952137c59157e5f187f651a806b1d81721f817822817e24828426818b2981912b81982d809e2f7fa5317eab337cb2357bba3878c03a76c73d73cd4071d3436ed9466bdf4a68e44f64e95462ed5a5ff1605df4675cf66e5cf8765cfa7d5efb8560fc8e64fd9668fe9d6cfea571feac76feb47bfebb81fec287feca8dfed194fed89afde0a1fde7a9fceeb0fcf6b8fcfdbf";
var D="cofihgfjjcokglgYkehbYgjaffbhknggbbZfhaZdecfcZRQVRQSRTPRNRLRNODOPLNRLTMNMPRKLRJGIIGEJFIFLKMGDJKIHGGDJFCFKGBGIHFKLEIJJJHHDCEIFGGEGBACDJFFAGEIJDGAEJHFEABGIAGHICDECABEEGFCDHFDHIIGFFEJCGGHABHBKDFBHGEEFIFCEACGGDDHDFFCIDCCECBFEFACGCGCFBFCEICICBEDFBAAAAAAAAAAAAAAAAmxnhbnqmpmpqpspZqphmmnlehcgnlnhdcfdgkZbffgbgdVQVWPTRWJOMQQQTNPRORFRLXRSPQTQNSNJJOLNIIMNLNQBHILNMKOHNIHGLKKKIIIHIELSMGJMIDGHGMJFIECEKIKLHLKKRJJGMMIEGGJLFGHLMFHHKEFHMRCDIFJFHJLIMJCLHHLHGGMGLEMDNMLLFMIHMFFJLEIGLDIIINLDMDBDIKAIIHHJJCNGJNFIEEIIIBAAAAAAAAAAAAAAAA4trrkpnmnmlpklhddiaXXgbbaZdcdffWXXaddVadZgYeePMPQIROELLLJSJNLKNKOTHMRBOIFLPKLJJHJIFCJLJBJHFGGLJDFIIEGJCEKGBECEDFDFKGEHCGFECDHBADFADAADEEFDDFDDACCCAFDDCDBDCCBBCDDCCCDBBBDBBABCEBCEABBBBBBDBBBCBECDABEBACBBBADCBCBBBBBBEBAAABCBCBABBBDBABBBABBAAAAAAAAAAAAAAAAAAAA8zytmommjiihbeSWVaUPSYRGQNSUQOSMKKKMIJIKFIHIJLCBJAHFBIEDBFCDDACCDCBCBABAAAAAAAAAAAAAAAAAAAAAAAAAAAAAAAAAAAAAAAAAAAAAAAAAAAAAAAAAAAAAAAAAAAAAAAAAAAAAAAAAAAAAAAAAAAAAAAAAAAAAAAAAAAAAAAAAAAAAAAAAAAAAAAAAAAAAAAAAAAAAAAAAAAAAAAAAAAAAAAAAAAAAAAAAAAAAAAAAAAAAAAAAA8tWgicUbUUPPPQHKIIKCAAAAAAAAAAAAAAAAAAAAAAAAAAAAAAAAAAAAAAAAAAAAAAAAAAAAAAAAAAAAAAAAAAAAAAAAAAAAAAAAAAAAAAAAAAAAAAAAAAAAAAAAAAAAAAAAAAAAAAAAAAAAAAAAAAAAAAAAAAAAAAAAAAAAAAAAAAAAAAAAAAAAAAAAAAAAAAAAAAAAAAAAAAAAAAAAAAAAAAAAAAAAAAAAAAAAAAAAAAAAAAAAAAAAAAAAAAAAA3dfeYUVUPPDJMKHJBAAAAAAAAAAAAAAAAAAAAAAAAAAAAAAAAAAAAAAAAAAAAAAAAAAAAAAAAAAAAAAAAAAAAAAAAAAAAAAAAAAAAAAAAAAAAAAAAAAAAAAAAAAAAAAAAAAAAAAAAAAAAAAAAAAAAAAAAAAAAAAAAAAAAAAAAAAAAAAAAAAAAAAAAAAAAAAAAAAAAAAAAAAAAAAAAAAAAAAAAAAAAAAAAAAAAAAAAAAAAAAAAAAAAAAAAAAAAAAAA0pfdHSURSNBGDAAAAAAAAAAAAAAAAAAAAAAAAAAAAAAAAAAAAAAAAAAAAAAAAAAAAAAAAAAAAAAAAAAAAAAAAAAAAAAAAAAAAAAAAAAAAAAAAAAAAAAAAAAAAAAAAAAAAAAAAAAAAAAAAAAAAAAAAAAAAAAAAAAAAAAAAAAAAAAAAAAAAAAAAAAAAAAAAAAAAAAAAAAAAAAAAAAAAAAAAAAAAAAAAAAAAAAAAAAAAAAAAAAAAAAAAAAAAAAAAAAAAzlUTOSRQOJCBAAAAAAAAAAAAAAAAAAAAAAAAAAAAAAAAAAAAAAAAAAAAAAAAAAAAAAAAAAAAAAAAAAAAAAAAAAAAAAAAAAAAAAAAAAAAAAAAAAAAAAAAAAAAAAAAAAAAAAAAAAAAAAAAAAAAAAAAAAAAAAAAAAAAAAAAAAAAAAAAAAAAAAAAAAAAAAAAAAAAAAAAAAAAAAAAAAAAAAAAAAAAAAAAAAAAAAAAAAAAAAAAAAAAAAAAAAAAAAAAAAAAAylUUNUQPICAAAAAAAAAAAAAAAAAAAAAAAAAAAAAAAAAAAAAAAAAAAAAAAAAAAAAAAAAAAAAAAAAAAAAAAAAAAAAAAAAAAAAAAAAAAAAAAAAAAAAAAAAAAAAAAAAAAAAAAAAAAAAAAAAAAAAAAAAAAAAAAAAAAAAAAAAAAAAAAAAAAAAAAAAAAAAAAAAAAAAAAAAAAAAAAAAAAAAAAAAAAAAAAAAAAAAAAAAAAAAAAAAAAAAAAAAAAAAAAAAAAAAAA2aTUOSIGKCAAAAAAAAAAAAAAAAAAAAAAAAAAAAAAAAAAAAAAAAAAAAAAAAAAAAAAAAAAAAAAAAAAAAAAAAAAAAAAAAAAAAAAAAAAAAAAAAAAAAAAAAAAAAAAAAAAAAAAAAAAAAAAAAAAAAAAAAAAAAAAAAAAAAAAAAAAAAAAAAAAAAAAAAAAAAAAAAAAAAAAAAAAAAAAAAAAAAAAAAAAAAAAAAAAAAAAAAAAAAAAAAAAAAAAAAAAAAAAAAAAAAAAAxhOQQRNGKBAAAAAAAAAAAAAAAAAAAAAAAAAAAAAAAAAAAAAAAAAAAAAAAAAAAAAAAAAAAAAAAAAAAAAAAAAAAAAAAAAAAAAAAAAAAAAAAAAAAAAAAAAAAAAAAAAAAAAAAAAAAAAAAAAAAAAAAAAAAAAAAAAAAAAAAAAAAAAAAAAAAAAAAAAAAAAAAAAAAAAAAAAAAAAAAAAAAAAAAAAAAAAAAAAAAAAAAAAAAAAAAAAAAAAAAAAAAAAAAAAAAAAAAteARaRPJFAAAAAAAAAAAAAAAAAAAAAAAAAAAAAAAAAAAAAAAAAAAAAAAAAAAAAAAAAAAAAAAAAAAAAAAAAAAAAAAAAAAAAAAAAAAAAAAAAAAAAAAAAAAAAAAAAAAAAAAAAAAAAAAAAAAAAAAAAAAAAAAAAAAAAAAAAAAAAAAAAAAAAAAAAAAAAAAAAAAAAAAAAAAAAAAAAAAAAAAAAAAAAAAAAAAAAAAAAAAAAAAAAAAAAAAAAAAAAAAAAAAAAAAAvWUNWPOICAAAAAAAAAAAAAAAAAAAAAAAAAAAAAAAAAAAAAAAAAAAAAAAAAAAAAAAAAAAAAAAAAAAAAAAAAAAAAAAAAAAAAAAAAAAAAAAAAAAAAAAAAAAAAAAAAAAAAAAAAAAAAAAAAAAAAAAAAAAAAAAAAAAAAAAAAAAAAAAAAAAAAAAAAAAAAAAAAAAAAAAAAAAAAAAAAAAAAAAAAAAAAAAAAAAAAAAAAAAAAAAAAAAAAAAAAAAAAAAAAAAAAAAAuYTPVSLBAAAAAAAAAAAAAAAAAAAAAAAAAAAAAAAAAAAAAAAAAAAAAAAAAAAAAAAAAAAAAAAAAAAAAAAAAAAAAAAAAAAAAAAAAAAAAAAAAAAAAAAAAAAAAAAAAAAAAAAAAAAAAAAAAAAAAAAAAAAAAAAAAAAAAAAAAAAAAAAAAAAAAAAAAAAAAAAAAAAAAAAAAAAAAAAAAAAAAAAAAAAAAAAAAAAAAAAAAAAAAAAAAAAAAAAAAAAAAAAAAAAAAAAAArjWNSUNBAAAAAAAAAAAAAAAAAAAAAAAAAAAAAAAAAAAAAAAAAAAAAAAAAAAAAAAAAAAAAAAAAAAAAAAAAAAAAAAAAAAAAAAAAAAAAAAAAAAAAAAAAAAAAAAAAAAAAAAAAAAAAAAAAAAAAAAAAAAAAAAAAAAAAAAAAAAAAAAAAAAAAAAAAAAAAAAAAAAAAAAAAAAAAAAAAAAAAAAAAAAAAAAAAAAAAAAAAAAAAAAAAAAAAAAAAAAAAAAAAAAAAAAAArgXNNEIBAAAAAAAAAAAAAAAAAAAAAAAAAAAAAAAAAAAAAAAAAAAAAAAAAAAAAAAAAAAAAAAAAAAAAAAAAAAAAAAAAAAAAAAAAAAAAAAAAAAAAAAAAAAAAAAAAAAAAAAAAAAAAAAAAAAAAAAAAAAAAAAAAAAAAAAAAAAAAAAAAAAAAAAAAAAAAAAAAAAAAAAAAAAAAAAAAAAAAAAAAAAAAAAAAAAAAAAAAAAAAAAAAAAAAAAAAAAAAAAAAAAAAAAAAsbWOKQHBAAAAAAAAAAAAAAAAAAAAAAAAAAAAAAAAAAAAAAAAAAAAAAAAAAAAAAAAAAAAAAAAAAAAAAAAAAAAAAAAAAAAAAAAAAAAAAAAAAAAAAAAAAAAAAAAAAAAAAAAAAAAAAAAAAAAAAAAAAAAAAAAAAAAAAAAAAAAAAAAAAAAAAAAAAAAAAAAAAAAAAAAAAAAAAAAAAAAAAAAAAAAAAAAAAAAAAAAAAAAAAAAAAAAAAAAAAAAAAAAAAAAAAAAAhZXVVXUUXUURVUTTSUVSQPSWUSQTWYTUTTOQUSPRSTTOPQRSVTRSTRTRPQRQORSOQPNMOOOOQTPMOPLNOLOONMQOHCEECJIJHIHKIKFHGJGFEHFKJOQTVQOPOOQRRQQPNSROLMKOFGDLLONLNMMMLJKDELIJJJLMMHGFIHHEHJGIJKIHFBCDDCDHJMJFLLORQJLMPNMMNNQKMNJMNPQPEDCNMOUTQOWXQQOORRORUTSQNLNLLOPMMMRSUSRUQPPTRmlkjkliijgffhjigdglgffklighhjhcfRhfegfdfhfeeceehiigilhfdcdgddeddbcebbdcaafffgScaaabebcfebaaaZZcebbaZbbbaZcbYYbZaabgjjfdedbghegghffgeecbaegffdecdehiifcdfebWXbdbaZXYdeebYabdXZdefcRDLaYYOaebXbaZefZWbccbbfecaXWcbcceddecdcfllgjookjjfjjhiqpnnjfgecedbUVghgggfdcabdstrpqrpqrpppopqoknrmnqusonnmmielnqomklmljklnjiikmpooolljklmjkligghkijljigidnmlhffdefdfiighhhdbfjgihcehgfeggdcefhhgknljijggklgiiljhhgihedghgXjiffeijjihhgedabhlhdefhheffeeefaafghgYafcabbdhgefbYdfbZefeeehhfdaYfdeeecejgfffhjiklkjjjfijkjoonpnkmlkjfdZYfgfghjgebYatutrtsvhuvwurstsuqnmotronkkjhdejllmjijkhhiiigefdehhhgfggdgfdfddZbddeefdfaUefeeZceYVYZbaddcccZWZfecgZcbaabbaYXZZbZZbeebfeaabZabXTaZYYZYXUZYXaecbdXZYbecaPZVRVYcWUYaabVWWWaXXQPaYXZQSZSUTVYXZaXTSSUSVUUTUWUYWWPMWVWXXVYZUVUSRUVcZXXZWVVXYXccZedYadbZXVSQXUUZbbbZWRXebeYbagfZadaWZZXgXSVWaWSUQSTQLQQURFOSPTRUSPOOQSMLKMMOLNPMNMMJIGLMNMMMKJOJRKLKLHMRGCKKJGCLIJLKGIPOFNGJFGGJGKHFJHGCCCDDBAAAACDAAAAAAAAAAAAAAAAAACAAAAACBAAAAAAACAAAAAAACCAAAAAAAAAAAAAAAAAAAAAAACAAADAAAAAAAAAAAAAAAAADAAAAAAAAAAAAAAAAAAAABAAAAAAADAAAAAAAAAAAAAAAZQWSSQVSNNMNGJLGMJJIIIIFBFDCEDCCCCCAAAAAAAAAAAAAAAAAAAAAAAAAAAAAAAAAAAAAAAAAAAAAAAAAAAAAAAAAAAAAAAAAAAAAAAAAAAAAAAAAAAAAAAAAAAAAAAAAAAAAAAAAAAAAAAAAAAAAAAAAAAAAAAAAAAAAAAAAAAAAAAAAAAAAAAAAAAAAAAAAAAAAAAAAAAAAAAAAAAAAAAAAAAAAAAAAAAAAAAAAAAAAAAAAAAAAAAAAAAAAAGCAAAAAAAAAAAAAAAAAAAAAAAAAAAAAAAAAAAAAAAAAAAAAAAAAAAAAAAAAAAAAAAAAAAAAAAAAAAAAAAAAAAAAAAAAAAAAAAAAAAAAAAAAAAAAAAAAAAAAAAAAAAAAAAAAAAAAAAAAAAAAAAAAAAAAAAAAAAAAAAAAAAAAAAAAAAAAAAAAAAAAAAAAAAAAAAAAAAAAAAAAAAAAAAAAAAAAAAAAAAAAAAAAAAAAAAAAAAAAAAAAAAAAAAAAAAAAAANGAAAAAAAAAAAAAAAAAAAAAAAAAAAAAAAAAAAAAAAAAAAAAAAAAAAAAAAAAAAAAAAAAAAAAAAAAAAAAAAAAAAAAAAAAAAAAAAAAAAAAAAAAAAAAAAAAAAAAAAAAAAAAAAAAAAAAAAAAAAAAAAAAAAAAAAAAAAAAAAAAAAAAAAAAAAAAAAAAAAAAAAAAAAAAAAAAAAAAAAAAAAAAAAAAAAAAAAAAAAAAAAAAAAAAAAAAAAAAAAAAAAAAAAAAAAAAAAKEAAAAAAAAAAAAAAAAAAAAAAAAAAAAAAAAAAAAAAAAAAAAAAAAAAAAAAAAAAAAAAAAAAAAAAAAAAAAAAAAAAAAAAAAAAAAAAAAAAAAAAAAAAAAAAAAAAAAAAAAAAAAAAAAAAAAAAAAAAAAAAAAAAAAAAAAAAAAAAAAAAAAAAAAAAAAAAAAAAAAAAAAAAAAAAAAAAAAAAAAAAAAAAAAAAAAAAAAAAAAAAAAAAAAAAAAAAAAAAAAAAAAAAAAAAAAAAAIGAAAAAAAAAAAAAAAAAAAAAAAAAAAAAAAAAAAAAAAAAAAAAAAAAAAAAAAAAAAAAAAAAAAAAAAAAAAAAAAAAAAAAAAAAAAAAAAAAAAAAAAAAAAAAAAAAAAAAAAAAAAAAAAAAAAAAAAAAAAAAAAAAAAAAAAAAAAAAAAAAAAAAAAAAAAAAAAAAAAAAAAAAAAAAAAAAAAAAAAAAAAAAAAAAAAAAAAAAAAAAAAAAAAAAAAAAAAAAAAAAAAAAAAAAAAAAAAJJAAAAAAAAAAAAAAAAAAAAAAAAAAAAAAAAAAAAAAAAAAAAAAAAAAAAAAAAAAAAAAAAAAAAAAAAAAAAAAAAAAAAAAAAAAAAAAAAAAAAAAAAAAAAAAAAAAAAAAAAAAAAAAAAAAAAAAAAAAAAAAAAAAAAAAAAAAAAAAAAAAAAAAAAAAAAAAAAAAAAAAAAAAAAAAAAAAAAAAAAAAAAAAAAAAAAAAAAAAAAAAAAAAAAAAAAAAAAAAAAAAAAAAAAAAAAAAAGFAAAAAAAAAAAAAAAAAAAAAAAAAAAAAAAAAAAAAAAAAAAAAAAAAAAAAAAAAAAAAAAAAAAAAAAAAAAAAAAAAAAAAAAAAAAAAAAAAAAAAAAAAAAAAAAAAAAAAAAAAAAAAAAAAAAAAAAAAAAAAAAAAAAAAAAAAAAAAAAAAAAAAAAAAAAAAAAAAAAAAAAAAAAAAAAAAAAAAAAAAAAAAAAAAAAAAAAAAAAAAAAAAAAAAAAAAAAAAAAAAAAAAAAAAAAAAAAIFAAAAAAAAAAAAAAAAAAAAAAAAAAAAAAAAAAAAAAAAAAAAAAAAAAAAAAAAAAAAAAAAAAAAAAAAAAAAAAAAAAAAAAAAAAAAAAAAAAAAAAAAAAAAAAAAAAAAAAAAAAAAAAAAAAAAAAAAAAAAAAAAAAAAAAAAAAAAAAAAAAAAAAAAAAAAAAAAAAAAAAAAAAAAAAAAAAAAAAAAAAAAAAAAAAAAAAAAAAAAAAAAAAAAAAAAAAAAAAAAAAAAAAAAAAAAAAAJFAAAAAAAAAAAAAAAAAAAAAAAAAAAAAAAAAAAAAAAAAAAAAAAAAAAAAAAAAAAAAAAAAAAAAAAAAAAAAAAAAAAAAAAAAAAAAAAAAAAAAAAAAAAAAAAAAAAAAAAAAAAAAAAAAAAAAAAAAAAAAAAAAAAAAAAAAAAAAAAAAAAAAAAAAAAAAAAAAAAAAAAAAAAAAAAAAAAAAAAAAAAAAAAAAAAAAAAAAAAAAAAAAAAAAAAAAAAAAAAAAAAAAAAAAAAAAAAJDAAAAAAAAAAAAAAAAAAAAAAAAAAAAAAAAAAAAAAAAAAAAAAAAAAAAAAAAAAAAAAAAAAAAAAAAAAAAAAAAAAAAAAAAAAAAAAAAAAAAAAAAAAAAAAAAAAAAAAAAAAAAAAAAAAAAAAAAAAAAAAAAAAAAAAAAAAAAAAAAAAAAAAAAAAAAAAAAAAAAAAAAAAAAAAAAAAAAAAAAAAAAAAAAAAAAAAAAAAAAAAAAAAAAAAAAAAAAAAAAAAAAAAAAAAAAAAAEBAAAAAAAAAAAAAAAAAAAAAAAAAAAAAAAAAAAAAAAAAAAAAAAAAAAAAAAAAAAAAAAAAAAAAAAAAAAAAAAAAAAAAAAAAAAAAAAAAAAAAAAAAAAAAAAAAAAAAAAAAAAAAAAAAAAAAAAAAAAAAAAAAAAAAAAAAAAAAAAAAAAAAAAAAAAAAAAAAAAAAAAAAAAAAAAAAAAAAAAAAAAAAAAAAAAAAAAAAAAAAAAAAAAAAAAAAAAAAAAAAAAAAAAAAAAAAAABAAAAAAAAAAAAAAAAAAAAAAAAAAAAAAAAAAAAAAAAAAAAAAAAAAAAAAAAAAAAAAAAAAAAAAAAAAAAAAAAAAAAAAAAAAAAAAAAAAAAAAAAAAAAAAAAAAAAAAAAAAAAAAAAAAAAAAAAAAAAAAAAAAAAAAAAAAAAAAAAAAAAAAAAAAAAAAAAAAAAAAAAAAAAAAAAAAAAAAAAAAAAAAAAAAAAAAAAAAAAAAAAAAAAAAAAAAAAAAAAAAAAAAAAAAAAAAAAKHAAAAAAAAAAAAAAAAAAAAAAAAAAAAAAAAAAAAAAAAAAAAAAAAAAAAAAAAAAAAAAAAAAAAAAAAAAAAAAAAAAAAAAAAAAAAAAAAAAAAAAAAAAAAAAAAAAAAAAAAAAAAAAAAAAAAAAAAAAAAAAAAAAAAAAAAAAAAAAAAAAAAAAAAAAAAAAAAAAAAAAAAAAAAAAAAAAAAAAAAAAAAAAAAAAAAAAAAAAAAAAAAAAAAAAAAAAAAAAAAAAAAAAAAAAAAAAAPGAAAAAAAAAAAAAAAAAAAAAAAAAAAAAAAAAAAAAAAAAAAAAAAAAAAAAAAAAAAAAAAAAAAAAAAAAAAAAAAAAAAAAAAAAAAAAAAAAAAAAAAAAAAAAAAAAAAAAAAAAAAAAAAAAAAAAAAAAAAAAAAAAAAAAAAAAAAAAAAAAAAAAAAAAAAAAAAAAAAAAAAAAAAAAAAAAAAAAAAAAAAAAAAAAAAAAAAAAAAAAAAAAAAAAAAAAAAAAAAAAAAAAAAAAAAAAAAbZUTOQXVTUPTUTUUSVRSUQQSTTROPRTUTRQTURSTVVXVUTOQMUWVZYeaXUSXcbbVTTZdfZWXSUaYZXZcZYccZbZYYaYYYccafbddcYaYVTYbbZXbeefccddbdZcbWYbZcaabZcbWSTYbbaWUdafffgjgfcbYbdeidWVYbXZaYaaYZcdeabXRRaedZYYcbWXaYWcYXVWZYbaaZXXXZfacZXYcZXbYTabaZcRSZWbbYOTPbffhfgaZcZZadadcbaWWarwvusuuwxtrsstusrsqpoomnppnklnnmnmnpollmopponkfeeinosspojgflmoolhfknmmlhfgijkijahhllkjkjijjkkjklmkllmifedZchiigjmnljkkhjjihfceiijhhfgmidabhhggdbiijlnnnomhgbeilkhbbdddgeceegggkVhffZZgklgdehifdgdekecbbffhgfdcddfijhdcegechaXffgffYZdehdZSWVgkljiigegfcefegggecbbxxzyzxtw0uvtswuuuusprssrrsstpoummmrqnoZooqooolljiipqtqmlgghmlmrokhjhipojkkiijjkgggmljhkjijikjifikiiikiccfYcgghgjllifjigfihidffgiigfUchedXbhgeeeZdfgjlilUjdbVbefeaWYZcbcabcYbdbdcfdZVZdfgcbceedbaXXebaYadacaYYVZYXdgcZXadYcYURZabcaUUYYbYVQRRdfghbebabcaZZaecbbZba4prornijrknjimhhhiiegglighfjfaqObafbZddcYcPbZVcYZTbObWTTQTZQTSaZUSUNTabUWWQSSUZSHTYXVSWXWUKUTVPQVSUUTUQRVTYUSTRUVUTNWURNPOUNVOLSRLLOHLGKIOMQLIOIEGINOGMALGGAJILIDIKFLGEGMHDHLFHFOMDAJHCJILNMKIHIKHHCIHMNHIHEKDJHEKMIJFKOGODKGIHCNHJMHCHIHCJHHGJQGOJJJILGGIOKJMFLOwjohkecVaWVSSQPJMLOGGHJLIIEFKAMFFFEFCDDCBCCDBBCBCACABABBABBCCBBEBABACBCCBBABBBCABBBBBBBBBABBBEABBBBBBBBBCCCBBEBBBBBABBABEACABAACDABBABABBBBBBABBBBBBBABDBAAABBBAAAAAEBBABABBBAAABBBAAAAADBCAADABBABABABBCAAAAAAAAAEAAAAAAAAAAADAAAAAAAAAAAAAAAAAAAAAAAAAAAAAAAAAA1leTWSWQOPRJMGMCGBAAAAAAAAAAAAAAAAAAAAAAAAAAAAAAAAAAAAAAAAAAAAAAAAAAAAAAAAAAAAAAAAAAAAAAAAAAAAAAAAAAAAAAAAAAAAAAAAAAAAAAAAAAAAAAAAAAAAAAAAAAAAAAAAAAAAAAAAAAAAAAAAAAAAAAAAAAAAAAAAAAAAAAAAAAAAAAAAAAAAAAAAAAAAAAAAAAAAAAAAAAAAAAAAAAAAAAAAAAAAAAAAAAAAAAAAAAAAAAAshWOUPMNLKLCDCBAAAAAAAAAAAAAAAAAAAAAAAAAAAAAAAAAAAAAAAAAAAAAAAAAAAAAAAAAAAAAAAAAAAAAAAAAAAAAAAAAAAAAAAAAAAAAAAAAAAAAAAAAAAAAAAAAAAAAAAAAAAAAAAAAAAAAAAAAAAAAAAAAAAAAAAAAAAAAAAAAAAAAAAAAAAAAAAAAAAAAAAAAAAAAAAAAAAAAAAAAAAAAAAAAAAAAAAAAAAAAAAAAAAAAAAAAAAAAAAAAAyjVWYSROMLHHDBAAAAAAAAAAAAAAAAAAAAAAAAAAAAAAAAAAAAAAAAAAAAAAAAAAAAAAAAAAAAAAAAAAAAAAAAAAAAAAAAAAAAAAAAAAAAAAAAAAAAAAAAAAAAAAAAAAAAAAAAAAAAAAAAAAAAAAAAAAAAAAAAAAAAAAAAAAAAAAAAAAAAAAAAAAAAAAAAAAAAAAAAAAAAAAAAAAAAAAAAAAAAAAAAAAAAAAAAAAAAAAAAAAAAAAAAAAAAAAAAAAA2hUVaTXQMODACAAAAAAAAAAAAAAAAAAAAAAAAAAAAAAAAAAAAAAAAAAAAAAAAAAAAAAAAAAAAAAAAAAAAAAAAAAAAAAAAAAAAAAAAAAAAAAAAAAAAAAAAAAAAAAAAAAAAAAAAAAAAAAAAAAAAAAAAAAAAAAAAAAAAAAAAAAAAAAAAAAAAAAAAAAAAAAAAAAAAAAAAAAAAAAAAAAAAAAAAAAAAAAAAAAAAAAAAAAAAAAAAAAAAAAAAAAAAAAAAAAAAznRUXVUPOLFDAAAAAAAAAAAAAAAAAAAAAAAAAAAAAAAAAAAAAAAAAAAAAAAAAAAAAAAAAAAAAAAAAAAAAAAAAAAAAAAAAAAAAAAAAAAAAAAAAAAAAAAAAAAAAAAAAAAAAAAAAAAAAAAAAAAAAAAAAAAAAAAAAAAAAAAAAAAAAAAAAAAAAAAAAAAAAAAAAAAAAAAAAAAAAAAAAAAAAAAAAAAAAAAAAAAAAAAAAAAAAAAAAAAAAAAAAAAAAAAAAAAAA0oQPUXOONQFCAAAAAAAAAAAAAAAAAAAAAAAAAAAAAAAAAAAAAAAAAAAAAAAAAAAAAAAAAAAAAAAAAAAAAAAAAAAAAAAAAAAAAAAAAAAAAAAAAAAAAAAAAAAAAAAAAAAAAAAAAAAAAAAAAAAAAAAAAAAAAAAAAAAAAAAAAAAAAAAAAAAAAAAAAAAAAAAAAAAAAAAAAAAAAAAAAAAAAAAAAAAAAAAAAAAAAAAAAAAAAAAAAAAAAAAAAAAAAAAAAAAAArkKPUTLIBAAAAAAAAAAAAAAAAAAAAAAAAAAAAAAAAAAAAAAAAAAAAAAAAAAAAAAAAAAAAAAAAAAAAAAAAAAAAAAAAAAAAAAAAAAAAAAAAAAAAAAAAAAAAAAAAAAAAAAAAAAAAAAAAAAAAAAAAAAAAAAAAAAAAAAAAAAAAAAAAAAAAAAAAAAAAAAAAAAAAAAAAAAAAAAAAAAAAAAAAAAAAAAAAAAAAAAAAAAAAAAAAAAAAAAAAAAAAAAAAAAAAAAAArnQTSOPHAAAAAAAAAAAAAAAAAAAAAAAAAAAAAAAAAAAAAAAAAAAAAAAAAAAAAAAAAAAAAAAAAAAAAAAAAAAAAAAAAAAAAAAAAAAAAAAAAAAAAAAAAAAAAAAAAAAAAAAAAAAAAAAAAAAAAAAAAAAAAAAAAAAAAAAAAAAAAAAAAAAAAAAAAAAAAAAAAAAAAAAAAAAAAAAAAAAAAAAAAAAAAAAAAAAAAAAAAAAAAAAAAAAAAAAAAAAAAAAAAAAAAAAAArfMROMPHBAAAAAAAAAAAAAAAAAAAAAAAAAAAAAAAAAAAAAAAAAAAAAAAAAAAAAAAAAAAAAAAAAAAAAAAAAAAAAAAAAAAAAAAAAAAAAAAAAAAAAAAAAAAAAAAAAAAAAAAAAAAAAAAAAAAAAAAAAAAAAAAAAAAAAAAAAAAAAAAAAAAAAAAAAAAAAAAAAAAAAAAAAAAAAAAAAAAAAAAAAAAAAAAAAAAAAAAAAAAAAAAAAAAAAAAAAAAAAAAAAAAAAAAAueSRROJEAAAAAAAAAAAAAAAAAAAAAAAAAAAAAAAAAAAAAAAAAAAAAAAAAAAAAAAAAAAAAAAAAAAAAAAAAAAAAAAAAAAAAAAAAAAAAAAAAAAAAAAAAAAAAAAAAAAAAAAAAAAAAAAAAAAAAAAAAAAAAAAAAAAAAAAAAAAAAAAAAAAAAAAAAAAAAAAAAAAAAAAAAAAAAAAAAAAAAAAAAAAAAAAAAAAAAAAAAAAAAAAAAAAAAAAAAAAAAAAAAAAAAAAAAseTSTTICBAAAAAAAAAAAAAAAAAAAAAAAAAAAAAAAAAAAAAAAAAAAAAAAAAAAAAAAAAAAAAAAAAAAAAAAAAAAAAAAAAAAAAAAAAAAAAAAAAAAAAAAAAAAAAAAAAAAAAAAAAAAAAAAAAAAAAAAAAAAAAAAAAAAAAAAAAAAAAAAAAAAAAAAAAAAAAAAAAAAAAAAAAAAAAAAAAAAAAAAAAAAAAAAAAAAAAAAAAAAAAAAAAAAAAAAAAAAAAAAAAAAAAAAArhTRTSIABAAAAAAAAAAAAAAAAAAAAAAAAAAAAAAAAAAAAAAAAAAAAAAAAAAAAAAAAAAAAAAAAAAAAAAAAAAAAAAAAAAAAAAAAAAAAAAAAAAAAAAAAAAAAAAAAAAAAAAAAAAAAAAAAAAAAAAAAAAAAAAAAAAAAAAAAAAAAAAAAAAAAAAAAAAAAAAAAAAAAAAAAAAAAAAAAAAAAAAAAAAAAAAAAAAAAAAAAAAAAAAAAAAAAAAAAAAAAAAAAAAAAAAAAmZLGBAAAAAAAAAAAAAAAAAAAAAAAAAAAAAAAAAAAAAAAAAAAAAAAAAAAAAAAAAAAAAAAAAAAAAAAAAAAAAAAAAAAAAAAAAAAAAAAAAAAAAAAAAAAAAAAAAAAAAAAAAAAAAAAAAAAAAAAAAAAAAAAAAAAAAAAAAAAAAAAAAAAAAAAAAAAAAAAAAAAAAAAAAAAAAAAAAAAAAAAAAAAAAAAAAAAAAAAAAAAAAAAAAAAAAAAAAAAAAAAAAAAAAAAAAAAAbbZXWUUXYVRPUTSTTRPSUSRUSRQRSURRRRRRRSQVRNLORPSSRSQNNOMNOPPQTRNKNONLMKOKPSLNORPJQPOPMLNMMORKMLLKLMKKHMIHJJNOLKMAIGKMKLIFFJJIIJLLKKKRKGCDEKHHKJGLJIGFGFIFEGLMNJGHMPLIFCCGGIGHIGHKGHKDIKKHGFGJLHKIHJGHJJGHILIFHFEEFEGIJHHGGCGBHHIGGJKGGJLLGFCBEEHIEEEDDEFGBBAAAAAAAlnmlnkhlnmkigjmkjhiiggihffiikkheffghhffikebQefgeeeccbcddcddfjhdZceedaabZcebaZbaaedcecZYXWXZXWYWWZaXGVXWUTTNaXTVTRRUVTKQRVXUSSUUVVUWaVNNMQUUTSQRVXTRSQPOPQSVXVSQQVYXTNLPSQQQQQRTSRSQMORVRNPSSTTTSTSQQSSROQSSRRQOOSSSTWRQTSQOOQRURRTUUSTVUTSOOQSVUOONNPONPPTSRQMFAAqsqrhpnprppqjmrnlknkkkjhdjhmnojhhgikijijnjfeehggcdbgbggidcfdidgedgghdZdbccaYaZbbfcbcbaVYWVXaVaaababVZYYYVTZfaXXWVUWWUVRVZaYVUYWXYXXXVRRSQUXXURTYYVSVSQPRUVVVTVPRSVTQQNTSPRQQPRQQRTQMNRWPOQQTUSQTVRHNPQPQQPSTSSRORTRUWRRUSSRSQQUSQRSVTTSTPURTQUUSQQQQSRNSRUSSSSROQikfklggejddiachRbPgdgdXbSdTbcdaZZXWZYWbXfcXZZbXcUYUcUdWaVWaTZScZQVZbWRYUVUBOYSVSXRRQRTOXSPRXMTZUURZRYPNQOJQcRRRRIQRSDOLQOQTQOWPOQSTOROMPJNSQOOQUSRMOMRPRTRRRQNMRLRAHQNULMSLMMOINMIEMOOULONLOROKPRKPIHMORRKQSQPOLINLPQNOPOPPQAJNLMMKPQROPGPMULQLBDNPNRKISLQOOPNMJMbaXeaXVQcYURTXZTWVYZZXUcTZSQVSVQUSQKRbYUYaTIXVNXRHUUQTNPQPPPRLPTKNNLNNNQQSMOQLSLQJNLQMOQTLQRMNSKQMQODLHJJLAVKMPGNLMPMFLPGDJLKNDIJJPGNNLINJLGGHMJLIHFJOKPLIOHLIMKIHFBILNDKKEAOIFKDJIGKHJFGHMDFHKBLCGIAIMKKDGLKNJHGLIHJAKGMOKDGIIHLFCEGLFGKHKMIKJFDJEDMFEJCKNGIADKHXXTXTSRKWUNJQUZQQUXTTRUYZWWMIVTMQPTRPTUOUSSKPQGOORLTAKNQNLMNNIMXLLFKNLKINNHENMSJKHNJMIIKTGOKGLJJOIHHJIGOHIAMGOMKLNKLDFGKCBIIKOJIICNEIKFINMNJFJFBLFHDMCLKKIOCIEJIIHFIIJHFKHICNFHJIEFHEHFCGELJGKLFMKJGHEMHEDFFJJIGFHFJFJFCKRICEHGELGDEKKCBMHNIIDHIELECKDCGAHHJFADEGYUSMOURPSLPQORXQQJTWUCQSWPZIRTNJNNTQNNTMONYDAMBAOPKLKISQLLJKKFLLLHFLOMKDJIJKNOKHCIKKGGFOOHLFFPHHJGBBKEFMDFDJEELKHHGFDLGDBGJHHLFIBBKCGKBKHJIHFICHLCLCFGHGMJLEIACNFGIEBGLJFEGGJFDAGFHKDJGKIDKHGGJEEHJGIBLHFEHFIDHFDHFKEJHCJMJCAFEGKKHHGIEFGJGDDGEICIFAFFGBCADMDFLAJcWTJERVTMHOWPQUSTROUSSQTTRXOMPOQNMTSLIPMLJWNQOPHOPOJILQPMFJKIEMGKKIJCPHDLCOJKMJJAIFFCHIJGLKEFIJFHICHIDIKEEJIEGJGBACKCLFEFLFFEIEHJEKFDIDIFEHHGJCMGEHFAJCFLIGHJGCJBEFJAFGIDAIEJHBABEGLCGIJKHIBFCLHDEGGEDEGGCHFIHEGGCEEHBHEHMECAHBCHJCJIIFHFGEAACDBDDHCCACCGADFGGHADYRTNMOTQLLQRNOTWXWMRQPORRHTPNPQNNHQNOEBILLNSQLRLMRSMLKNKOCLMKDLFJKOFFOIFJFNCELIBBLFKAHJLGHHFGAGGGHKOIFLIFFGLIIHDFEBKACBEFIGDDGJGGJIFAEDDEGJDGIAJGAFHGEIIIBIEFKJIAHAGBFHIEAFDFHCFBDHIGFHFKFGBDEEGCCHBDCFBDDEEGFDEBBBGGAEEEICEAHBDGEEEIGCGDACADDCCCAFECACBDDCBEBGDCZOTTROQTOQTNOSTTSUKRQOPSNWOQPAQNLJQDQNPIOMPRQMOTLPQSIDEMQGMPFLLJNMNALKMJMKMHENIKLOMLFHLLHKFLDEGGEHIRDHLJFIIKBEGFEEAGFBBEAEEDCGMFAMIDGDJAFEHDFFAIIBEHACHGHAJGBMKEHDCCIGHHGAJDCFDFEFLIGLFLGCJDEEEHDCHFDDHAACICIDFEBCBCECECCFFFEGBCHFIIKEDDGDDADEGIBAGGDDFBCDEFBEGFBiZbhhcaYbZdZagXZcdVTYSVbUWKYVJZYTYbZRaXWVTVSaTSWRUSXOVTYYTQaZVPSQQSMQRRNRURQOXTUTSLQMRVRSVQYUSRQNMPTPRRMMOWQRQOSJMJQVNLNPOQNMSTSLUXMSPRRQNQNOPMQOPQPGNOMROPUSDRRNLKLORNSTROLQOOROLRQORKOMOPOPLMRLORMLUOJALUNNKLOGKIAOLRQJQOMQNLIQMROILOFNMKHGOMODIROLMSCOINJIOLHGhdWcbWdWXVLKZbZVfZZQcVYVWbbZZRWXQXZaVbeYWYXQZTRHTWTPTZSYXVQRZWSUSTWUEURSQMQQPQTRQPPPRPUOQaOXQTTUQOYSROOPUNPSPRBRMMNRQQLTNPTPNPOTPQNRRSNUOHQQMPRUQRUONOSNGQPWSRQPPSNMODROSUMOPNVVPLOSQPKKPQTUPNRPRJTPPSPJESQNMPMLNNLPNNTJNQNKQMMNRPPRPNQKPPMLLOLMKPOQNPUPMNPOMINNLdZUUaXZTWVXVXTcRhWaVZVTSGaWVWHTRCVVIVYYYOWMTWSSSRTVLTWTUPWPJUTRIVVQSRFQRSNCQAOJNPNKOMQNPORPTQSPTQOVNMINJRJMOOMOOMHHNLNGPKOOLONMPNMJMIJNOLONLMNCOSOQKOKMLMTKPNKRKHPNIMJMOKNPLINPQRGELAKGBOISRJKLMNJNMNJMILKLEFOJHNPNIHFJNMKAAKJIJJIKMNJKJIIHHHFHHKMCKIKLIBJKKJJKIJaXUPUXTOZXUUVRWQQSUYURSRSXUQTVOMRRPPOWUVOTJQUNRKRQSOOUPPOSPNRSNRPVTMKNPNQSOQIQNNPRJRIQNSNQLPNONPMNSONHLGLKOLMQMIMHNQMKJLPNMNPKORNOMAJJPJLMSOMPBPOMNJIOLLLWLILBPFCJMQJMOOLOHKDMJPMLDLJOJMNFQNKNJKNLPLMHQNNIMEGKIJQLNJJIJIFHBAHKIHIFJJKJMGENFILGCJMLHGFKFKGINHHIIJJbVXOQSUOaRSUVTPOCSQGVQURYTSRSUSNUUNNNOXVRRRSWKULWLNNCPRRPSLSNQRNRTRPOQRITRQNLOMKOPLTMPNPMSIMHMPNOMOLDLPFLKNJNPMJIHKRIKILQJMMLHNPPLMIBPOKJMROKIJQIJGMMPAIHPKFKAMIEGAELHPCNMNLFIFKLPHJJJGHKKNLIMLHPJNJJAKLJNKGDKMGMOIHNGFGAEIGEHFEFCDHKINGGMDJNEEJMKDDAJECIJIFIAIIHWRVNKQNPQOOSSRPOOPSFNJSSSPPQRVSPSUINJHRQRQQRRHWPPOKNPMNWLSLOPLTPQVMQNPMIPOLCKJPMJKKKLKNLNPKKINPMDOJKNMOJPMJGNJJHEMJLFHIJNLKOBGGOINMKEJIKHNNIGGIJIHGNHJFIGJJFDFELDFIGKGIJNMMJCJGBKNCJGDEGGGHJGEODMEGHECGJCNKKHGGHKLHGPEFDDFIKADABDCJFHJIGKHAAGEBHMJAEBIIDFGCFCBIFHZQSOOOSQROVPRQOMFNTTNNSOAMSQNQPPKPOQOJNQOKRRODRNKPJKRPQSFQPQQNORTTNIJPKJSJHMKPLNKGGGKFOJNOKGHNIJGMKJLNKJJKJBHHKIFMLIGIHJJMFKGJGGDIILFHHDINHCDJHGHHGGCKKGGEIBEFHHHENGCIEKLNHCGLHGMKBGBFBDDAFIEALEGDIEFAJEAJJJHJCFIHIJJGEGFHEDDEADHECEBDGGJDEAGCBDIGCHECJCBHDEACCFDJJPQMMUNHQTPPNLNNROINPRPIKONOLPQMLQSQJMNSAMPNKLOJMFJOOPPFNKMRJNOTKOHJQOLQLJNHIBLHHJIHJOENMIMGPFKIKJJJMHFNJKHFJMFFJIGHJGIHHDIEIGDECADHEFCELCEGHIFCCIADGGDCBEGFDEGGFEEABFEHGDCEKHAKEAAAGGAFAEGECDEFDEGFAHEAGFADCDAEFCHGHFFBCEACDAAECCDACCEEAEDECDDFDDCCEDAACCCBCACBRWQOLNSLQPSQMKNQLSJHJQNQFPMRNBQNOJNOPNIJIJGQILHQODCLFHMGHBJJJDFHGGGHGJHGHJJIGDCHFFIGKNKFGGHJBDHJIIEKGFGFDHKHFBJAGJCEBIIIHCDCGGHDHFCDGAJDFLAAICFEDDHCFCFAEDHGEDFIGJCHACECFDADBGFAHCCCCFGAJCDEBDDDGFBGEBEEBEAABCEACDAAFDFDFEGCEECACBBDDBDDEABDCCFCBBDCDDEBCCCCACACBZgjdZefdfihgchZZZddZagefeibdYYccZcebcgfbabcgaccbeWXWaZgccdjbZbcZaebfacMSbYcZaXebZbUbYgXdUYeeZeZfggXfdbccXYccaVcUfeWdbaWdbYcXegbadbUdabYaceXVPcbcYWefgaZRbdecXefiegVXUcaWXcVbafaRdYZYbZaWfcIbYadbgeWbXVWXWaYWWZbdbaUYdZPgdcfaYZYaXaXYaYbbbVZVZafXYXUaXcXZbagaaVcWWsuytorrrtvsoosmkmlopnpqpqroomnpaloqpooqnnnmljlnkomhiimsnmoohhiajhjimlmhcjikjhgihhieihmgjghmomolmmlhYjikmgfiiigjfnmiklkeijjkhjnmllleikmgikkhfgkjiigjmljigimmjglmnlniefifdfmkigjhfebfhjjjgjlijhikkmkiifgfdehhhgijmkjhijghmlkjgfgeeeijhhgiijfgefgkggdadeidfggkfggked134zvwxy22zuuxvttrtutuurprsssrsrnfqommnpppkhgilkpofcgnpkkljgefilihgjljgeikjkjihgRhghjlhfgfjlmmlifefhfefhefhggggfkjhgShghjjgedfihijdciifghiigeijggffhgihhgjmhffghikicfhecgjieddffaZcffhihgggfffiighifffcceecdfhhifgjifceiihdcedaXZcSddeefgfeedfjgeaZbcebbbbcbdceba231yrvw02zxstvvrrooooqohikmmllijfdfeecfjilecadhekjZbdfiecddcabehgfcdefcbdfdhjgdeeedehefcbXeffgecWYbddbYZcegcddabcdebZafeigUaYabaceYWbdddecfecgeccbecbfcdbbjeaXZbdcbacfbZebaaZWbaZXZaXYdcbbaZbZdcabebdZWZadXXZdPdYbecZWZcebXXZYZTRWWVWZXabaZaYZfeYWVaZYXXUWUVYVVVU2zrskppvvpropstmsmmjloofloomjmejgedfhcfjgidgeYjcjjZjhcjgdeegccbSghddaghYYfchmfbghfddhXdddUecbeadWZPZdeXZediZdbXbWadaZZebidebWdbZaaYTaZfcfZcdMgbbaYhcafccZXhcXXYLaSYedfcXdZZZaVcYbYbbUTdaZdaacYdccZcdgYYdagaaVcZeZacZaXcZedYZZYfVQZZXXcXcaXZaYYbgVVVeZXZZUOUTXYWXW3wijkkhnqpolkoVhtgmfjhlhkoogfogjgifkhaddeeaedndffSdijdkhehchabWebdfhcahabgSdifdfgZYekWceaXdXedbdcZcXYeacfbkVeYcaVZaXbZeeaYiWVfXaYYaVaVdbZHWabecWZVcYaZcYYbZaRadZaSbdeaaKVZZVabYZbZdYYSadccVaZXaZdYUZdXabXdccUaZbUXbbZVfabZYaZVaPWUcabaZYYYTXYaZXPOTbXTXYXZWRRWUaa0weikgjjlifbjmgcohphNgicefgXdoegdggdbmdcZgYbchYddbaZcaefdgYWcdYYabdbaYUdaiYYbfafhVTehZYcXRHZebZWdSbZaaYZSfcSJZbaXWWVbahfXadSXbUXWZXYUabdaUSacXZVcVaSZXbaWVZaQVfVYVabYcQWWVXRWYXUcWaYWWUXVYVZXYXVKYWXXGWUSMXXUaaaTXZaYYaWKWYbWHYRUSTZaQYWWZNZERbWPOUZYTLXVVVROSSaWzqghhmplggbThjRclglmdlfghYgghjfcfekcfifcaNaYaabddcdOZadZehbXgdaZcdZbXZWbcigWafXagZWeZcYbZUWidkVZbUZafYWcfaYWTYZaaWXbZXekXWYTWZVVWVaYWaXZgTRVaSZXaVYWWTZLYQXVXTfVaWXbYWXVLURRVYYRWUVWSVPaUWdaYXVKVaYaZXWQPSVZYZYXSYUVWWTRaSaXUVYTWWSWXSYSVaRIQXcYVYJSWWUUVZTUTPVaTnvigfnakhlehjihfkghghkgniafdjcfXfajcefaaaaYgbXgidUdYLXbZdadMeYZbcaXabYZWafdZXbYXcaOgXecefZYZZiUbWUaXcYbeYZVUSdYUZYXXWVahaXZXcdVUWaTZZXWXcSQRXVZWaVVZTUWSVJWRYUbVYTYVYaVVRTWFVaVXQUTWPXSVXVZXWXbQQYSddWVURYWXaWZUNWWUZUVTbWYVWWTQZRYSWXFPIdPWRWWUWaYNYUUWHLPXUUTUPzzkljmmihmgipijcfleajcinleddfdibhSiUebaVaZcifUcgXbfVcabcabRZXbYgaVWbdYWZYeXdUXcbYYaaYefaaYcUZcWYTLYWdbbYWXUWaYYUZaWTVWWaWSWVZaXZXYVaWXQaZYVSWVWVXYSZVXUUWZVQVQcUYUcXIaYTWWSWUdWVRWTXURRPWWVWWgRUTbRNbTZTUUHNWVWaXSWTVOWXUTXWWcXTUPWRZUATYaVaSUTVRXTTZVaRSTQWXURTO4rmipRmfhTknnfnadmcdiciclYShbggdfcbVecbZVeZeeXccZbeIcJaXYaZZXZXhaTUccWVcTbZbTZPZLXYbYadWSTZYZdWXTKTKfaYUVTYVaTYYdfVYVWVYQWVXTYVYXZWYKTHVXZYWWRaYSdSaTYXYYVZPVNZVWZZVHYWYXXXUWbXTGUYZUVSUUZSXUaVTDYWWWSaTUTWOVUVeVRTWTYVUOQUVSWaRNNVRaSNTXYZZTTRGTSSQWVXPRRORUURWUtqlkokljgikmgjnccheTkjfcligecfddeffccXcbTaXbcbgXdWdXZQaZZdeaZaVdcXVaZWWdVZTbaXZYVdVcYYYWRVYccbbZZaWYRbUNXUVSWVaZdfaWSWUYVWYYZaUYZZXTVRRSRZYWXQdVUZUXUZYXcYUUYMSWWWVTSbTWGaSUTUYSZTYWVXUXVWPGVVVTPVNUPQXSUTWTEPRUPWWWUaSSRQWUPRTPAOVOSaJSUUVYTWPSVWURXTSRTOQNWTTQU6toklkiihjjlfekgfmiljjfekgfbgadcfgieZZZZYYbbeYbabWaUXWZYZgQaWdVTceUVXZWYWZcYSXZYWZQZdaZYSJWbbUZaZYbbXSVYdbUXVVVXaaUVPUPXcXUZXVVRbXQPaRTUTXZTUVXWQaYRTWWWbZSYYPQWUSTWSZQSUYYWTQXHYUUFWWUXWPQRVVWVSRVUAUVSVTKVSRMVPXVXTTURUTUXQRPMQQZROZWWUTXWRXLRSKUSWOQTTOTPSSONP2ukfdbeYbdfgbXfcZgbghhcYhYbXcbcXTceaaKXTaUbWWRVWZUXTVVVWZXXbTbUVaWXXYWSUXVYUWUVXSXQVXQVWRYYYWVZVVXXTVDUSVcTPUTSSVVPQQSQVWRTVPSSMXWJNWWUVTTYRQSTQFXTOPQQQVRTQRLOQSMUPRFQOPTRVTOPUWPNTXTOSTMRTVQTTRRROMRRTRPTVNRLXRVSSPOUTORQSVMOKORVSDQXWRQSNNSPPQOQRLROSPRWMMONMOyuiZYidXbhejVbfYddbSjbbcdbaVbYXaVZcVWXYXbUaYZVTWXZWVYXWTSWVeSXTXbRUVYTVSYYVPVTSZQbTWSQXZUaWSWWWVVYSTWASRSXTQVRSOVYTQPRCPQGRUBXQPUUOPQSWQRSUXQRVVQPUNUEBUQQUPMMSRQKRNTMTPRJSQTPTTQQQSVSOZQNTVVUUQUNRNRQSRPRWQKSRRPTUPNPMTNUOPSQRPOVOPMMUUSRMKNOSSRLSQKSNVMRQIKMERP0phcehddbcafegcZdabcdZdfeaVVZUZXXXaSQcWcXWWZYXYWQYZGZVWWOXVaSVSUSYPTXRXISWaSXSUUVYRSGVaWZbSQVRVTVVNMSJNRSTTFQUMJWUYTKQMPTRFVRYQQUUQSMSTSRQQXSPTUPMTPRNQURSLVQDTRRPQOUPTRSTSTSXUVLQQRRTNYISQRQXEQVMPORNBQMLYNMSRPMASTOEJRRSJNLRSMSPSMJNONMPPCQPTTUNRNPQOQPNMKKQRPNxjbbdchfcXZhgfdbaZbdXWdYSXVIWWaTVEYVOaVdXUYZUXYTRTZWVYVXVKVYTVNSPZMVXSVUNTaWUTVRWXQRUYSWZWRSQVQSRFPVBKPMUUUMOREPSRXSTKMTQPNQSSTOUQRNORMVQMTNSMUQOMNTQRASOTKULQQRRUMMTRVRPRQSQQQVLTKOJUMSUSMMKSOOPPPVMSREHJVMPOUPLKRTOTNPQMMOOTMOWORNNQMLKLSPRRRMPQMIRMQNMLLOOQHPPqgaZWZfdbabWebcbUVYdXWdVXSaXWbZOYRTVPWUZYTbVYJWNXQWRPQQSVUWXVTTYSOPZUTVVRSZUSRHQaTWQTSSWTRNVUUVSQMRORSRLWSUNNGTUMTPOUOOQOQPMOOQPVMPQMPLRNNTKRQSNKOOPSORURTSRKPPVSQLNPQUQPFNNOQRPJSAPGWMTTSQLKMMRLPKRJXRNNKPMPQPINLAQNWOLOOQLRPNODJMOSPOONNSMCSSMMPIKQPOPMKJMOKLROpgYaXdddabYebYZaYbacWaYUTYPYacbSWUSYSYVVUSZTWTXPVVSXTMRTTPHTTMWKSMTZUYPKSRWUOOEQcPXOWUXUTPMWYRXOPMTMRTVQYOSTMQDUPNOOSSONDSTNMNPIONLQLQJTJPRNSOPTKPRPNOSQJLURONQVRNOUOEROOTSLQRUOMTHNJSRSRNONKJPPLOOOLUUKNMQLOTLIPPLTPSQNPRNJUKOMMILOOIRQKKSLLLTNMPKMNNDRLQJMNKNORkbUXaYXXTaVZWUVZZWYWTYSTTYYSUTVTQWaWRUWTOPULUPVRRWOUUJNPQQRSQKMOPNTUNRNYSQRTNSNRYPSOWTYSPMLPUMMLILRMPOQHSNBMOQQQMKONMMMNOLQOQFHFMLPEKLMQFOMMTINUMIHLOKRFGMMPNKMQGONQNAJOKIRMPIPLJKGQKMRRKJPORKQQKANKFPNALOSOOMGHLNISPKOKUQNLQEQLGJMGHJNOCLLKKPAKFMLMMHKMHNLGLKLJMgXVXXSWYZZXaRYTcVYbTVVTSUPXQSTUVSYZVPXUSKVONVRQUUTTRSOLSQSTRTPQOSRUYNRNSRUNRTNQRWQMSWQXPSDNPPUMQGNPOQNNRPNQORQMPOJNSOTOJMRPQOLQRCMPQNRNMFOPIPALSOGOMRMPKMMIPKNOHLMKIMHJLKKNDRIMJPIGOMIOBJOQPNNLSFLQJJLFNOMPOSGNKLRIOMNKAVQKIMLLNMJNIMLGPHLMJKHHJNLLOMJNPIJNFMMMFOSVWRPPSSVTVYCXRXWTVQWOSRVVTPYSRXQQUFLQTNPUNMOUORPNUVNQPPOUXQQRONRSRUIPNSNTBOOQPSPQMGSIPOXOSPLTOUIKSQRPOPMNKQQNANREMMRUIJJNNTHGPPJNOLSIOMGLLDMOMIILOMHJLSOMJMIQNHMRKHLKNKNKMQDJLJLSIJNJHNPNOLIJMIEONNNEKLJLMKSHTKPNIKIMLFTPFJLKMCQFMLPKJRJKKIIFJKHIIJKKMDGHBHNQGMJhYVQORQSUTTbSWWGXRZVRSUTVRTRXVWKRRSURNTRUOQPMWQONNTWRRRLMRHRRQOQPOQWKVOSTTPIKRVPPSTQULJPOQPSMNNRLNVNORJTMNOPNREIPIMMNQEJSJLVLIGPHPMHPOONJKKCPSMHJIJUGJHQMLOMMRMAMQOKLMOJMKLMMQEQKSNIKFJSMRLLLKORLKLOMEJOCOMIONLHMKNIAIJHNMHRPIQKOGNOOLMNFKLIPMKKMJIFMLINDKIQPMNMMiXSVOSRURSSYVYVSTUcZWWRYTPQTTXXVTUAPTOMTRPSUORSOQMOTSHPORSPVFRNTQKTTMUJOUPTOGPQIOTQQFOLQLMLTPMNJKQWKPLRWPOSOKQIOQQPQNPKLYHMNLNPPGOKOKGMCKKPNQQKHNHGHOOJKKMFRLNPAHOMLJLHHMPMPPLJLLNOJIFGQIQJONNPKOJJNMINBHJOKMOHJMNMMKMFGNIHNNHLJNJMMLKIKHJKJJQBHJLIJINLNNPMPQFNMDYSOOPBQRQQOWBUNNPWUSUVQWQOOQSCRQQPLOQANQQTMQPLRLPLMRRRPNSRJSLJMONIQMNRPGLLOQHLOORQLOLMOQLKPOAPOGPPPIKLQPQMKIOPHPONOQNLJKVNIJCOPIIFFKJJIKKKOOMMKRIGCGNKJANMFMGQNIGOIJIKEKJPKMQNHEJFJGICJOILIPKKKFMJLOJKJIIILLLMKIGMKMJMDGHAJHKMHAJKKHIOGNKGLKHQLCFGGHJNLANHHINALIHIUPIPQPPTVOXRXLKPUTJSWPVMRPBOSUPPMNQPNOSWRONONQCMNNQOQPNTQRKLMRQPNNOEKNKMLLMIMRMSJPMPKPRLOPIKMLMONJKLMPJKQMIPRRPLKNOKMLHMSINIKMIOOLFKJKOJMLOLLMPGIAHNIJHJLAIHMMKLNIMGNGJKOIGRKEDJCHFHLEOIIOKMEHHJKKJHHJHGJKJMLKHIKLIKKJHADJHFMIGFIEICLEJLGIILJECKFIEFMGIGDGFFFDIFRVPYRSULOQMVRZLMQSSLTROSIUTMVSPTOMNQMLLUSLNNSORSMKRENPLQQNRPESMPPNNSNNQQPNOMLPROOLROOMFKOLIJIGONMKHIMMMFJQLKIQOPMIMMIKJJKPKRMIKMQLKLKHMNOJQOMKHGHEGGHONOHKKJLJJIHMJPHKFNOQILNNJGHFJLFMFFNFOENFRIFEJGIFMMFFJFLKHBODLFJEKECECEGFIBGFDEHHIBIDAJIGADIIEFEHHFHCFFDHFGCUUPbDSWQSVEYRWPQPWUNXQRPKYPOXSOWZTPOMLMQRRVLQOMWSJILRUNSMNNQUVLBQNMQQPQPSSQMOOLOOPROMPSPRMJMKFOQUMKMKPPJOOOIEONPOLSQGLMOOLMPRNNPHPMTMNNRRKUSQNANLMIMQTPRKSMMNPQKORRPOJJIQOROOQPHIQQKLRQPULPMNMTOBGQNMLQMCMQQMTJJNINJMMPJGIHKPOJQILLJOJMJJKJMMIJGNMNKLMKIPNMMLRQMIoifallmjklkmijhhhkkfkijfchZckjekmihgfefhkZleeeflidhdbbfhefgijhdehjigiihhjifTUeeeeehhdgjihggfecegigfhdghffgeYWchgcadfYYaeeaadfecddcbebabdcYcaYaMcabcgfdccYaYZZbdbccebYYZcaYcaZYXVWccYZcebdddZZTWefXaaabbXZbbZZdXZYaefgcbbbSZbghacZdihgehechjieYaYacPXcdXVbcZYaddbWuporstthrrronpsrrqqnpepkhWehmmjmkhlmljlmjijhhhjmljhiedjhggjjjifgjlkhhihikkhVWiihgdhUeQikhiljihikhghlkjkigkifcfmlhgfhhddghffhhihggfffeefeebdaZbeebchkhddcbZYbdfhhfddcacdcbbeebXYaZdgedccabgdYbXWfhbYbbdbacdZZdbaaYcfjZbaTghedfhebbdhiffhdbgkkfacaYccahgZXbdaaehgebossssixrtsssotutrqnlnokhfeechgdhcbdklgffaabddeegfgbeWYebcZabebcZZabYXaZYaePPReecXXYZYWXbWacdbbMcVTYadaaVKZZZWYaaYYXVaWXWVaXYZaWUWWVXWWUTVSYSSUXXUSWaYVUTTTORTXZZXTSRTWSSTUUXTRSTQUXXXSTPSYURUMLSWTSSVVTSVTRTVSSSSTXUWQRSXXUUUVWSVRWWVWWVSKaXVSTSOQTQXUQNSTPRWXVWSieegfdndhdgkdkghghcadfbbMcbTabWbWVSegWSSSSSWSSSLQUNQNQRNRKILPJRBHJMIGKNIKNKJKPOLEJFINHELDODKIKEHBAGEIBGAGDFKHIHGCEIAGDHFCIDFHHDBEGCFEEAAFAGCCEFDCADDCDBCCDABAGDCCBBCBCABBBACBCBBBCBBCBDACCCBEBBABBCBDBBGBBBCBABBCBDABBCECBACCFCCCABBBCBCABCBABBCBAFACEBABCABCBADBWRQTXUWSVRUSQXSTSQWRRTUSNRPLNQPPNMJSTMLNLLKNPJLLJKMHJLLJJJKQFFNJILLHFDEJGFDIFFLGEFEIMEAHHKIIIFDACDCCEDEBDEDFFEECFCFEBDDDDDCCFDDDCCBCDCBBDAEDDDEBBBACBAACABCBABDCBBBBBCBBBBDBAGBBABAABBFCBABABDAABDABBAAAAEBABAABBABDBBABBDBCBABBFBBABAABABBAAGBBBBDABDBABBAAAAABBUQSMSQLURQRNNRRQPEURQLPNPMMKKLNRITMPKLLOJIJLUGHHILJINMKJHIHOHHJJJLEIAFJIAEDHIDCFFKCCEBCHGBCIGGCCDFEGDDECEDDDDEDABDDDDCCADCCCEBCEBCCCAEBABBBABBBBBBAEBBABFBBAACCBBBABGCACBBDBGBBCAFBBBBEDGACABAAAAADFBABFBBAABAAAAAAAAAAABBGAEAFAAAAAGACAAAABBAAAFAAAAAAAAAAAAAAAAYURPSSLVSTVOQRVQLNGQOOQNOMPIRLKTLSQNKKKOJKKDSJHLHHLILNIKFJMLMKIIEJFLFEEFGDFGFCBAJJFBBCCJJFCKCGFFFEHBCEBGEDDBDADDBBDCEBBDDFBBCBCDDCGCBCFBACBAFBBCBFACBBBGCDCDBBBEBBBABBBAABBAEBFBAABAFABAAABBBDAAAABBAAEAAABAFABBDAFAAAAAGEAAAAAAAAACAACGACAAAAAACFAFAADBACAADAAAANTURRRRVPSUQNUTTKJOORENGGPHKRMJQNOOQPHJMLMLNLRHLLHLKHKDJIPKKLJGHFLHJFGGJGDHFCDAAKDFCCCCGCGGIFFHFIBGCEADFEEBCDDDDDCBCECDCCBEBBCCCBCCDACCBADDBEBBBBBBCBBBFDBBBBDBFABBAGBBBDBBCBBABAABABABAAABBBAAAFBAAACBAAABAAAABAAAAAAAABFAAGDDAAABAEAAFAFAAFAAAAAEAGACAAFAAAAAAAVTOQNRUQNPQRQSQSOINNNJIPKPOMOOJLMNHPOLGNPKOLHMHJFDAFGDCJIJDGEGFHGFFHAIKEIFICAABBHGGCADFGGAEGDEHEGEEDGBEDDDDCCDCBCCCEBGCCDCCABFDCBBCCABCABCCCBGCBBBBBCFABCBBCBCBCBCABBBAABBBAABBDBABABBBBGABBBEABAAAAAAAABAAGAAFABAAAAABFAAAAACEAAAAAAAAAAAAAAAAAAAAAAAAADAAADADAFpnegdfgcaejkifehfcfedcbcaggedebddeagcZXbghhcabbebYWXaZWQUcOebabdcabdccbKcZfdZXbdfebbabbaWWYbZbbYaabcgbbabcXTabcaabfeYbcaYbZOacbbZZaaWXXEIZabaabYabbadaVXZaadWZcebaJYdcWZadfdTSbbZYcacaadNZaacWTURSaZXVWWbYWVWWZbaZabaZddXUUYWaWWSRYYZabZdbbaaVbededbbXZSWZXZZYYWc0zutrrsqqtyywutvttusqqoppqrpopppopopmijknqpliikopmihkmhZfmkoljkllmlmnlhiijnoljjmkghllhfedgfffhiihghkmkgffhcZghjjiijgegiiigdcedeggeggdccLMcfedfgefhhhgddeccefbbgiecfffeehghkjYXghdeefVegggdbehdaMWXfecdaZdfcaccefcaceedfebZXacfbbVVdeRfedfeegdcjkggihiebXZdcfebccby0utvvuuvxvwwvuvtvvutopppprmomqoknmlleiihhhfeefhhhhdgigXahgjjdfhilhghieieeWhjedgdZZghbZbdbbcbbfhfcdeieebbaVXcZfgcecbbbdhfdaXXZaefYZZZcZKHZaZYYbbbbabZXXYYWZZVVZbXVadXXceaabbSTaaYaWYWYaaaXRWcVTRQOYYYcVTVZYUXWZVWRHXXXXUTUUTVWWVOPXYWWVVVUYXYYcaXXZbaXVTUUUVYVUXTwwjjomknlmdefdcdccddfUYUVXZQXTOVRTRSUMSTUTMMPSNLJLPLNOOMMMOQPHMMETOKJNKTLMNMPFGJHKDHNGHKMEIEJIILMJJGMELGIDCHIAJJEKGJKHFJGHBBCEEILBAADHGECFEDCACCEEBDDCDBDBDCDDBBCBECABDCBCBCEBBECDABBBCFFBFBCBBBBABBBDBBBCCACBDACABDGCCCBEBBBACBCBCCBCBBCBCECCCBBABCCBBEBBBAGCBCB0pMWYXcMXWURROBSQOTRVMSOQTPLQTQNSMHMOIKPOQHKLOKIHJHLEOJGDIQLIGHGJMMGGHEIFJHMJCDDCJCDMCIGHBFBCHDGKGECIEIFHEDDFCGFEFEFDFFCDECBCBBEDBADCCDCBEDCBBGBCGBFCCCCCECABBBGBBCAABABBBAAAFBABBABBABBBBABFBBBBAABABBBABGAAABBBABABBBDBABBBBBDBABABBABEBBBBBBABDABBFAAFBBDABBCG1kTRWVUUUPTPQNOSNLMRPMPJOQMNKOQNKCDLJHKNLMMOJHEHLGJNKPJHCKNHGHHDLHGFGDDDIJFJGHFGDGGFIFIHGEDDEEAFDBDEFDAGHDFCCCEEBECCBEDDECACCBCGBBAFFBCCBCCCBBBACBGCFBCCCBDBBBBABEAEABABBAABAAEBABBBAABBABBBABEBCAAAAABBCAAAAAABGABFAFAFAABBAAAAAAGAAAAAAABAAAAEAAGAAAAAAGAAAAAAA4mVRVVSQaPVWFORTNQONOIRIQMOQFMLNLPJKKGJOPLIHKLFHNFMMKMOFDPNFIFGHFKFIMFKHGIKHFGFGAGKFDEJNFFFFEEDFEEBBCHCFGCDCGECEACBGBBDGBAEGBCEBAECDDCDBGACCABCBCBBCDBCBBBCFBBBBAGACAAFBBBCBBBEBCBAAADAAFDBBBBAABAAABGBBBCABAFABBABACAAAAABAAAAABAAGABAAFAAAGAAAAAAGAAAAAAAABAEFG5jSRPTRRTPWTSRTQQQSLOJFMQLSTHPJNGNCNJJMRPCIIMAHIJDIMHHFIIOKFIEDKDKFFEGJEDBIKEFGFFDIGFCEJADGFBFEIGDDFDEGDFHFEDCBCBECEDCGDAAABDDCECBBCDCCBDACBBDDCGBCDDBCBBBDEBBAEBAGBBABBAAFBBAEGABACBBGBBDBABAADDBACBCDAAAABAAABBACABAAGFAABABAAADGAAAAAAAAAAACAAAAAEAAACDCAAAACF9gRTOTAKTPXWRRQNSPSNONPPORPPNOILHNINJKKPMJLEQILLGIHMOMGMLKKGKFHJDFIBIHNFBFGLEFGGEHGEHFDEEFGFCDCGFDDDDAAAFFDAAACDECCCFDEDCCABDCDCCBCBCBBCGACCBBBCDBCBABBBBCCBBEABBDABBABBAAABBAABBEBAEAAAAACGBAAAABBBEABBABAGAAABAAAAAAAAAAFFAAAAACAAGCAAAAFAFAAGAAACAAAAAAAFAAAFA3oddceZddejhccccfbcddcbfffbZaQacbaYZYZYaZYdbdbcffZZaZYXbcbZYaVWWTUVSYYaWVYVaVTVWUXWUUUTUUUXWQRQFVYWSQNOPWVRSUPOSSLPQSSUUTRQRQPMHQQRPRSROPQTURRRSURSSPONNPVVTPQQQROQPMNNOLMNOPONRMOSPRONMKNQPSPMMQSONOPUWQRRTRPNNLPQPMJNPQONNOOPNOOOJNNOMNNKMNQMOMONSNLMMPMLOQORNP1vjlljfijnomhjkiligkkkknnlkggjkkkggighgifgigiiimlffgebffjifedacbcdaadgeefcbecZabZdcaZXZaZXbfYWUWaccWTWUYYaWYaTTSVQUVVTYZVUYWVUUSVUTTUZXSWUVYWUWXVWSVWUTTRWYUUTSVVWXTQRQTQQPRSURSPTVXTRSRQPTSUUVRXVQSQQVZXTVVTUTSORUTONRRSPRQTPPQOSSQQPOQOQPNPPPQSSRSTSQPORMSRQRTSzqbjebXeehccZccZgaWfbdehgdfbdhfbdZYibNafcbYXedaeebYbdVbXfOZYWUZYQbXZWeZYaTVYYJWXTXXWVUWWSVTcWSRUVSWTQUNYPWUVTOWMTRVSWNVWPPWSUUVOUERQMWXTYPPUUOSSPTLPUSUSNRUNSQKUUWWTQRLMNOLUQUFQJTTSMMSCOMPPSNXQXTOTNAPSVPTSNRTTMPQNLMSLQKRMQMOMMPRQPQNRJNONMOOPQROBRWQKEUJSPMMTRxkYaYZWQdZUUaXTZhWUcbUWbYaaabcbYbbTcWcWYXXWRYcYWbcUVaVYSbUTVVRUTXTVZWYTPVQSVQPTVPMQUQVHTQaPTROQRTRTVSSJRKXQSOMWQMPRESPORLMNRTUOMOLVTHPQRQPRSPNRONRMPQLMNRLPKRNKRTQMSKOKMIKMXNQPQFMRFLMQJGMMLPHPQVNNOPHMALNPOHINNILKKLINIJIKKJNMEKMMKNRDIHJJMMPMMNOKIJSJIPOBQJHLLMuiYTYZYYaVWVdSVWcUTUXRUbUXccSZYYUcUTULYVTXXTWUFTXUVXXWWSZVQTSOPRSNRUUSQRXRRPOOSRMMOQOQPQTZOPOPLMVXQSRUJONVRPMNOPLLJPMOOMHKFTRRHLLHRTLPQLNLEQLOMQOPMFNIFPMJJNLJRQGJKNHSOFLKKQHONMKIJGKJJIEGHKJKKLLHIJIMLEGKJIKHLFKFIJJGCDJJCKDINAPMILIMGEEGEFJJMGMJHEGJKMJHCNGFHHHvjRXWUZcZSZWZTWVaZOYVHUVYHXcFTVXXYSUWVWRTaZVWRNUTMTVaTXXYRGUGQMLRPPPTNPTUUVAPNOONJNLJJTMPSLOMLKLRPORQPIPOQMNKOKORHEOIJHIGIFJMMIIMJHMHIQNOKJLKKINKJHJFJJRIJHJFIMLFJIKIQKKLIJIFEKGKHBIJLDIIEGHEKKJCALIAMIDFFFIIJKDNIFAIEHAMLCIEEHDKKDEECEFDEBDIGGBJBGEDCJBEGDFAEFEFweOWTOUYWTVRWTSUQTLXUUURRORUTRTRTRNTSUUUUVXQPNRTPKSUHNSUSLTSRPOKRSOJRPRTMPOLSLPKMOLKIMFJMOJMJGLKMKQMKLHKMQPNKLLMPEFKGLHKHBLHJHLMKMCMCJMNNKIMMLFMJJHIJIHMJJGFIGIKKKHLHLHJJIFIHMNIJHADIKEGILKIHDHHFINJFGFFFGEKCJFEKMCCFIIBLLFCFHKJDEEHGGHICGDFHFBFKDDHFHLEHJGJDCDDFtgSSYQQVRVRUXRQQRWPQPVTSLQNUVUTQPRRNMQRITVRMSQVRPLWVMMOUKKNMPPOOMOPJKRQUKLMNSMMEJTKMINOHLGNNHANILOQLHLMMMNKNPJLHFGEKGMLJKENFHGKMHNGJELKIIJNLKLGIFFHHHCHNKHDDHGFIQJHHEGHIHFAGHFJGBGDHKCABHHFCKBFFEHHHGEAGGFHFBDBCHHFDBGFBEGCCDEEEAAFDCDDGDEDCCDCDCDBDCCCBDDDCCCACBdaSPUWORNYOURPVPOWSRNVQTMOQNPQMLMOSIMKJKLKIEPNMGLCLNGGGJLGEKIIMIAHHGGKDIEIACKDFEAOFIDFHADDILAAGFELFJGEGDJEFHIFEAAEDHCFEEGGFCFDEGDFBFCFGCDFGFDIDDFBFFADFHFCEDFDCDGCBCBDAEDDADDCDFACEBCCCCCCCCDBCBDCBCCDABCBEAFCCACBBDABABFCABBBBAAAEAAAFACAFAAAAAAACAAEAAAADAEAAAAmacZZcZVVfTITYYVReaXXWUcYVXUWEUSabaTUUZWWUZPWUYQZRVXYYYWdSZXYTeTYUXYWXTUVYVVbWWXWaaaWLYVYTWYSTbJWcYcbUVZbXTYXNWWZaaXXTZbZYbYabZeYXQbVZYVSZbZXeTbWWcZXhfcbVZaaXaYadSWYcIZYfYZbXYSUZYXWaiaOaZYVUaVbdXWacPUZVXYbYZWfSVGSXSbccUZcaZZVYdTZbcbYYYUYTXWXabNfTagYZeYVXYYXwtwwuvwrntqppssolvvtrpqwwuqoolmlqsrooqtpooqWikrmnkmlnpqornomnjqmromllliknmmmpljjpstrooneohkmiglhjmlonkjkmljkiijjlopmlgkmkkomloookhhmjkiihnpmjmjokmooorqonggjjhlmllhjnqmmnsjemjgYajjjgjploqmkiknkosZlmofgheedgehlnmfdcfgpomlmonnpjgidmnmkhhhfhglllllimkllhiljfeghY331z0z0yvyrxy0zusyzxvvwzyxtrpqrrstvvutstutsqmquropqporsrsqoqomqqsroonnonnoooommnsustronpmSmokjihhloolkkmpnllkkljjkmllkkljhlnmopnkjlkjkijlnoljlmnmnnnonnnngeikijlkijimnlnmnhciWhZaikiegllmqmhgknlorpommhffgebfffikkfedgimllYnljmqkgffjkiijkifejnnqmjhinmjgegjiedhg760wwyvwy00y0xxvrvvvuwtuuprmmpqdomqvolkormnpnnpoillnmmlnjihoklnjkkmkiimWghkjhikWllhmkhgffahjfhecafjjdcdljgffghfhdbdcfieebbceffhgfffeZffejddeeehffgeebbefdbYaddadedbZZbcfcdcZabdaQeedXYdedeeZYbbddeegcccbaZZYdacZbdYZadcbadecbYafeZbaabZXegdZXLcdggcaefgbZXVdfbXca52snjpklpsrorllpmkmroqkkmdmchikljRgpeeeijbelkgkgbhciledhacbiekhbdbYeacgccXfceigNdeXdecZXcWdeYcZcVZacXWWSZYaQaUYgaZZXYdVWYaVXXYaTYXYaTbQYfWUdcaebbcaaRTaaVYWTWXSZZZXWTVXaWcWTWUaXccYaVSVXXVcXVURZWVVaUXaZXOWWYTORUVSRWZVXSXXWVVTWXRWWSYUMXbXUWQQTXZXVaUXUSVLXXWSXV7yjhfhmgeigjgehkmfglhhfidakcccjfcZgcgebedbadaYgYagabcXdYbZbbecOdbZZaabdfbUZVdffbXcSYdZISZbbZWWTXVYWXZXXFVWUXZaFbUaWWXWRTabQYUYRVSRXVYYSWYbVceXZWWUaPQLTWSSTPWUUVUXVTTSXUXbTPSSZWYWUWYURSUQYQWQSTWSRYQTYQTRYVSVQMRQSMUSRXQORYTPRSRRTUTTSLTYUSTPPQRXVTUNPSQTLTQTTSU7tmhhjibdllXfchkhdfhfidhdakfbefgYZebgdhfcdfdYOdbYicacbcXcaYZfdWfcaVWaVahYccZabdaXfXOdYZRXgZWXUXWcYWeWbaSYVXVYZPWWWUTXYVaYbVaVYUWZWWXaaTXYXZYdXVWaRYbXOSaQLYRSVXXVXZSVUYYaXUQRWZYQVbWYYUVVSSTPRUVYUSXRSYUTXXTSaSMPTUNVTOUXQQWZNUUVYQYXFTPRTSTOQWSQbXRLSRTVTSQWWTRU3qpiWmhRXijmjiifdjNjlljefaihgebUZfgedSgjbdfcbebdYeYghbbYaeaUcOXbcZXbcYahaadVdNWXacZddYebZeZVaSbYacUdaZZUbVeTcZRWXNVVYaTYLWYVVWSYdXWZVZUYaUbXaXVYXUXVVWTXYaLRRWSXVVODWYZZUZUYVXVUMXaUaZVVVZUUYTTTVSXVQOTUPAVXUdQPaSUXSTRTUTSaVQXQTVWWUTWWURUPOOXWQXWXRSSKSVTTVaQMY3qkheonbhefhjijifdhghffhddkedkdecdhdafaObgfeeeaaWZacgaXfaWgYeWYZaVceZYYZbTaXcTPaaXbedLddXZVbcVdUcaXVbZWYeSdTbbXZePdXVXWdYXWSZXOYYWVbVZWVcZcXYcUYXXTWRXWUcKVSUYTUVWbVSZXZSVUWYTZUTZTUZYIUbhIZZYXTUSXZTUWVRLTXTVYVOYWZSYTSOXPXRTZTQTURSRUXWQVWWTYZOSbTTRRURaTYRRORV0qnihimdffdglijekhidZfddfdlfchfbdfgScfeebZacbRYcbedbeedebVbfeaZcXabjXYcbdbMYTZPdadfgbaQeUXWZdYbZZabVYTWZcTZUaXcUaSbXRWVebVLTWbJWMaZYZWbaZaOYTZUSYWVaYYWVXOUVWUWTXXbXUXVaXTSTbWVXWSPUYYUDeYHXabUZLVUYVVSXTTXWWWXLZWWXZZUXUTQQRQZFGTTUTTUWRSWaXQTdPWaORUPRTTXUTOSUT0shikUkfhjgiflgejmjOadedUhfgdeaadkcbiehhXZUbbaZifgecccfcaYXfecdiXbbiYaaRaadXXdUaWgaaabXeaXWXZWZXXdbbTSXYVXWYeWYRaUKWSIYcdWUYVMXYVYaUYTNcVXYZVaYUabZXabVWUZXUaRUTXTVXZMWXVWWWVXRWZQWXWWVRZSWYXTSVVWWQWVUTTYXYcTXUZQTVYXZJYTVURQWSGUTWWWVYVWTXYPRZWaYPRVUSRRZTbUVQC4bhikkhchnhgeligpahiehdjigbiedaPebeeehZfZZZWegddZggccYaWaZbeicWSacdaYKgdbagRYbWYUfZaXZVdXcbYaaYaaZbeUXXXWVXaZXSVXZcaVXVYZaYUXVWXUaUVYSfXWXTZUbWSbdXUbcUVbXdWUYWaVWXYJXWUSWVPXVRYWSXYcWUYIUSbYQTWZTZRZTVTVSUZTXVQcQXUVQaUTUWXWSSXSSUUSbWTTWRSeWRSTWUSOTXSNPYUXaUUU5qjUfgeekjaijhgjleYiikgkggfjeeYebbWgjZcaceaVbmaaZgaYScXUcbbhhdlcZfZVXXebdcfUXYXaXeXVZdXbXdeYXeYXZWagXYZTbWZWXcWXUZZdXabbRUXTWYVWTeTYWUeTXaTXWXURbWXUabYUKZfXUXWXXWYXULTWUcXSYUQVXTQXbVPZWSVXWXTbYHXSVUXaWYWWccUWaSYSZOYXTVYcUVTXUVWSRWVXTUQSZXTUQSQUQTYORPUOUZPVT4snlageehflhjgiggfgjfcghhfjggeaeabaZfXcaidZXcdYZYeYdcceUfdheebidXYZeVXbaffdXaZbXcYbWcYVaZefbXYbWYXZdQaFbbWUYZZWZXXYbhZZZPYaXXaVZEaQbVUbPLYXVVVUWdVbaaSbYKZcVWZRXWWZaUYYXXeUWRRdQaaWXXQTWXQWTZVXXXUdVRXXVWcYWdbZQTWWTZUWYVVVcGNYYWWWUTSYaWWSSWIVUORVRTITRWRQSTTOTP4cljcVWYfeheejhhgfefabjkjefafcfedebOaZbbhajZgWYOcYbebagZfebYdabQaZchaYaaaabXWaYZaabUcZWaWYdUZVXaabXcUZWcYSQWYbZaYVXUcWYVWaaVWaUNWYUYXUOWXJaXVXKVcXZbcWeeVWUVVaSZZXbYUZYQVaTWOUOVWXZXUVVWZWVVNWVRYXdTWdUSWZXXVVXRVWWUSXYXVWXSRPZWeVVQXTWYZUWTXWWUPSbWZUUUZXPHURNPQ6qWijWighdijemffggdhegfgbedbddjhbhcZecZedYhfeYVcdcQceZkdfgWXdbWZacbeYXbZbWYVVbabZbYRbWbdXbbXfVYcWLbddZaaZTWZVZZdcQXSZYVaXXVWUYZVUUVaYZccWYbVUTTSbTXcaVdcNWUUTXUVWYcUXbVZcHXZTXMWYVZXWXXTWZXUTWWWYXZNUZYUUUSWWRWXacVXWWUSZVTVRRbUVZSXZRTZZOZQaWUUVPbWbBXUaaPTXSQPd8pgmjkfkjfhphhjdgmefjdbbgPeZffedakaZdeacebcadZYabdMMfbkRddbcZcSebYbdYWXaaHUeWeMWXfVOYReeSbWVfZXXYXYaZabbXadXaWZefUWbaVYZUVTXXbWWVWXdZZaaZbVXVWVYZSVXWPaXZPSVTVZSUUZSaXNbbZXWVTZXaXUXWbVSSZVRRSWaUXVPXUZVYRUaaWYTYWUaYZTTMUUWaUcRRVTZWTXbSOUTWXTXZOXSXQTYVZSXXTUVa9qgmhTgojgeljiifeiZjfhiYacldmffdffccaccdXQZacccVZdZPjcRddcUcZYNYcaabdXYXbaWXVXgTZaTeZVbbGZYYfbXYdbZXXYWaYZbYeXfWYIWadXZWXVUXddTXaKYZbVaeUeUIbYadbUUUVRaZYVWWXXbXXSYUcSQNbYSZTYWUYZTZVaSVVYWUVVZZWXUVYXUWYVUZZVaSaUVYZWTXUTRTVRbSWNYVWXacQURVVTPZXSTSPRRaUTRXVRUUY/rWjdhdljfbhielkhfcofmhddbfiibdfgbaageafUYYabYZaYgZbifZYbYaccYaUgbYbkabZdbYXZZgXcYVZcWZdaZYZdeXXcbZWcSUQdbeadWbWYaXViZOWZYaVhfUaZUYYeXcaZgOZaaJYaXUWTYWXdgYQYaaaZUJYaUYWaVRWWdYVbTTeYXTUZXUZaTZWYSWVXOWXYaXWVTaSUVXaVROXVUTSSPUVYSXUYZcWSXFWYVUXZZSZSVUVTSVUWSTUV6rngfkehjgbfmekigfghiiffgecdccfihfaZhgZeceWgcacZXdbaahZWZXcdeabVadVZjababaaebcbUcXaYfYIaaZVYcgYTYXZYOEZbabgaaXbXcXWXhbYVaXaObdYZYWaXabccadZWaeZcXWaZUVWTafaSZbZaZYeWXWgSZWWXaaWYZWScZXYVVXTXJTWSaRXYZSYMXZZQVZcVTOaYcSTWWXXRWSUUWUYVYcbSWbPWVaXaZXSSTaVZSTVXVXRWZ";
var A="ABCDEFGHIJKLMNOPQRSTUVWXYZabcdefghijklmnopqrstuvwxyz0123456789+/";
var cv=document.getElementById("sp"),x=cv.getContext("2d");
var col=[];for(var i=0;i<64;i++)col.push("#"+L.substr(i*6,6));
var idx={};for(var i=0;i<64;i++)idx[A.charAt(i)]=i;
var n=0;
for(var c=0;c<148;c++){
 var x0=Math.round(417.4+16.21*c),x1=Math.round(417.4+16.21*(c+1));
 for(var k=0;k<257;k++){
  var y1=Math.round(771.0-2.88715953307393*k),y0=Math.round(771.0-2.88715953307393*(k+1));
  x.fillStyle=col[idx[D.charAt(n++)]];
  x.fillRect(x0,y0,x1-x0,y1-y0);
 }
}
})();
</script>
</body></html>
